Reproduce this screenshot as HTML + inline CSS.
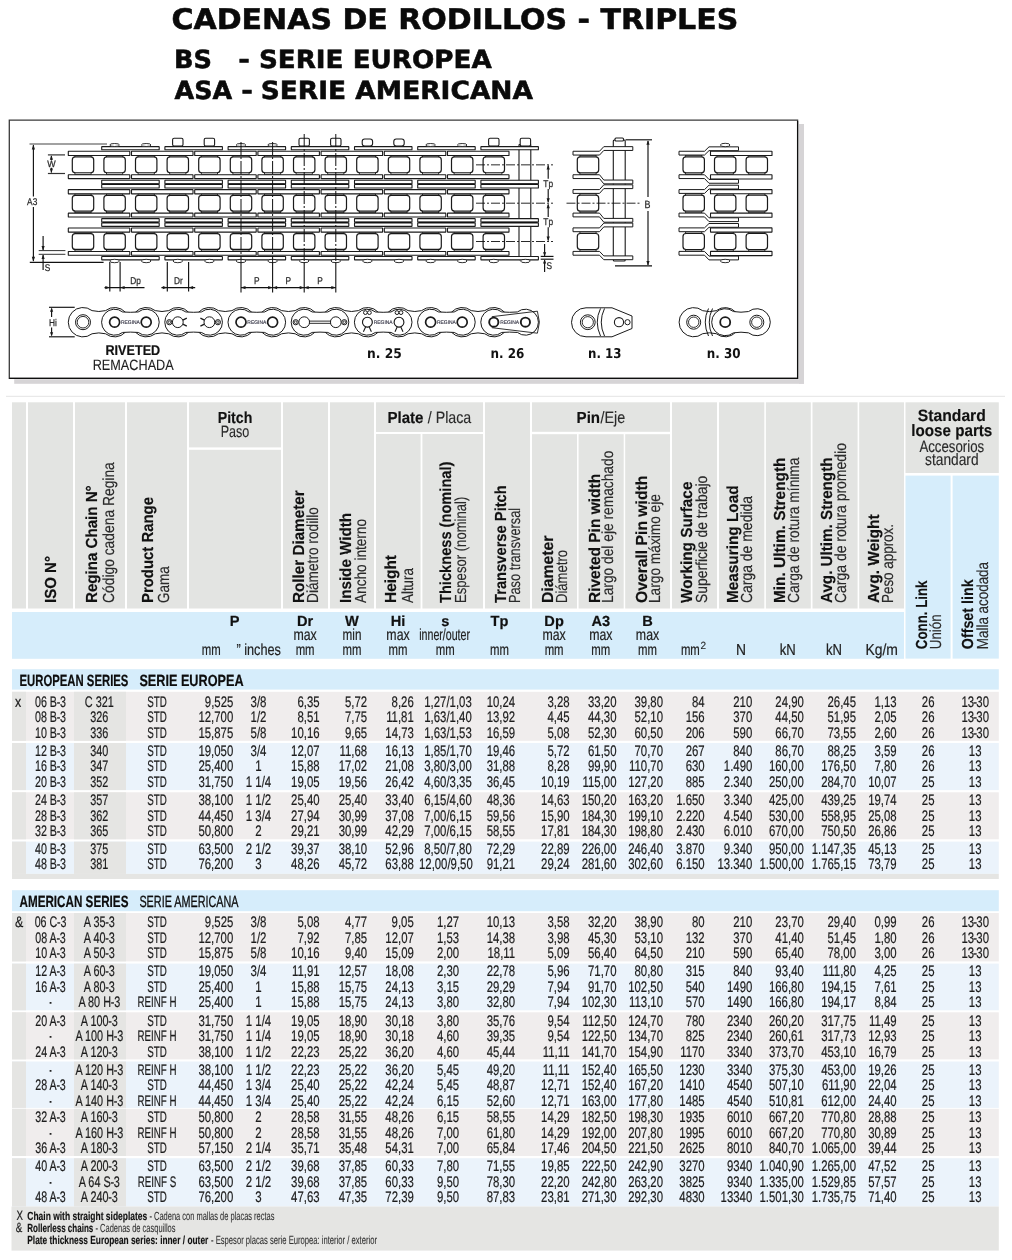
<!DOCTYPE html>
<html lang="es"><head><meta charset="utf-8"><title>Cadenas de rodillos - triples</title>
<style>
html,body{margin:0;padding:0;background:#fff;width:1012px;height:1260px;overflow:hidden}
svg{display:block}
text{white-space:pre;text-rendering:geometricPrecision}
</style></head><body>
<svg width="1012" height="1260" viewBox="0 0 1012 1260">
<text transform="translate(171.5 29.1) scale(1.0562 1)" font-family="'DejaVu Sans', Verdana, sans-serif" font-size="28.4" font-weight="bold" text-anchor="start" fill="#0a0a0a" stroke="#0a0a0a" stroke-width="0.55">CADENAS DE RODILLOS - TRIPLES</text>
<text transform="translate(174 67.7) scale(1.0253 1)" font-family="'DejaVu Sans', Verdana, sans-serif" font-size="25" font-weight="bold" text-anchor="start" fill="#0a0a0a" stroke="#0a0a0a" stroke-width="0.55">BS</text>
<text transform="translate(238.3 67.7) scale(1.1179 1)" font-family="'DejaVu Sans', Verdana, sans-serif" font-size="25" font-weight="bold" text-anchor="start" fill="#0a0a0a" stroke="#0a0a0a" stroke-width="0.55">-</text>
<text transform="translate(258.9 67.7) scale(1.0484 1)" font-family="'DejaVu Sans', Verdana, sans-serif" font-size="25" font-weight="bold" text-anchor="start" fill="#0a0a0a" stroke="#0a0a0a" stroke-width="0.55">SERIE EUROPEA</text>
<text transform="translate(174.6 98.5) scale(1.0158 1)" font-family="'DejaVu Sans', Verdana, sans-serif" font-size="25" font-weight="bold" text-anchor="start" fill="#0a0a0a" stroke="#0a0a0a" stroke-width="0.55">ASA</text>
<text transform="translate(241.3 98.5) scale(1.1179 1)" font-family="'DejaVu Sans', Verdana, sans-serif" font-size="25" font-weight="bold" text-anchor="start" fill="#0a0a0a" stroke="#0a0a0a" stroke-width="0.55">-</text>
<text transform="translate(260.7 98.5) scale(1.0585 1)" font-family="'DejaVu Sans', Verdana, sans-serif" font-size="25" font-weight="bold" text-anchor="start" fill="#0a0a0a" stroke="#0a0a0a" stroke-width="0.55">SERIE AMERICANA</text>
<rect x="799" y="124" width="5" height="259.8" fill="#d6d4d6"/>
<rect x="14.2" y="379.2" width="789.8" height="4.6" fill="#d6d4d6"/>
<path d="M9.3 378.3 V120.2 H797.6 V378.3 Z" fill="#fff" stroke="#3a3a3a" stroke-width="1.3"/>
<path d="M797.6 121 V378.3 H9.3" fill="none" stroke="#0e0e0e" stroke-width="1.2"/>
<rect x="74.9" y="155.35" width="16.2" height="19" rx="0" fill="#fff" stroke="#1a1a1a" stroke-width="0.9"/>
<rect x="72.3" y="156.95" width="21.4" height="15.8" rx="3" fill="#fff" stroke="#1a1a1a" stroke-width="1.2"/>
<rect x="106.5" y="155.35" width="16.2" height="19" rx="0" fill="#fff" stroke="#1a1a1a" stroke-width="0.9"/>
<rect x="103.9" y="156.95" width="21.4" height="15.8" rx="3" fill="#fff" stroke="#1a1a1a" stroke-width="1.2"/>
<rect x="138.1" y="155.35" width="16.2" height="19" rx="0" fill="#fff" stroke="#1a1a1a" stroke-width="0.9"/>
<rect x="135.5" y="156.95" width="21.4" height="15.8" rx="3" fill="#fff" stroke="#1a1a1a" stroke-width="1.2"/>
<rect x="169.7" y="155.35" width="16.2" height="19" rx="0" fill="#fff" stroke="#1a1a1a" stroke-width="0.9"/>
<rect x="167.1" y="156.95" width="21.4" height="15.8" rx="3" fill="#fff" stroke="#1a1a1a" stroke-width="1.2"/>
<rect x="201.3" y="155.35" width="16.2" height="19" rx="0" fill="#fff" stroke="#1a1a1a" stroke-width="0.9"/>
<rect x="198.7" y="156.95" width="21.4" height="15.8" rx="3" fill="#fff" stroke="#1a1a1a" stroke-width="1.2"/>
<rect x="232.9" y="155.35" width="16.2" height="19" rx="0" fill="#fff" stroke="#1a1a1a" stroke-width="0.9"/>
<rect x="230.3" y="156.95" width="21.4" height="15.8" rx="3" fill="#fff" stroke="#1a1a1a" stroke-width="1.2"/>
<rect x="264.5" y="155.35" width="16.2" height="19" rx="0" fill="#fff" stroke="#1a1a1a" stroke-width="0.9"/>
<rect x="261.9" y="156.95" width="21.4" height="15.8" rx="3" fill="#fff" stroke="#1a1a1a" stroke-width="1.2"/>
<rect x="296.1" y="155.35" width="16.2" height="19" rx="0" fill="#fff" stroke="#1a1a1a" stroke-width="0.9"/>
<rect x="293.5" y="156.95" width="21.4" height="15.8" rx="3" fill="#fff" stroke="#1a1a1a" stroke-width="1.2"/>
<rect x="327.7" y="155.35" width="16.2" height="19" rx="0" fill="#fff" stroke="#1a1a1a" stroke-width="0.9"/>
<rect x="325.1" y="156.95" width="21.4" height="15.8" rx="3" fill="#fff" stroke="#1a1a1a" stroke-width="1.2"/>
<rect x="359.3" y="155.35" width="16.2" height="19" rx="0" fill="#fff" stroke="#1a1a1a" stroke-width="0.9"/>
<rect x="356.7" y="156.95" width="21.4" height="15.8" rx="3" fill="#fff" stroke="#1a1a1a" stroke-width="1.2"/>
<rect x="390.9" y="155.35" width="16.2" height="19" rx="0" fill="#fff" stroke="#1a1a1a" stroke-width="0.9"/>
<rect x="388.3" y="156.95" width="21.4" height="15.8" rx="3" fill="#fff" stroke="#1a1a1a" stroke-width="1.2"/>
<rect x="422.5" y="155.35" width="16.2" height="19" rx="0" fill="#fff" stroke="#1a1a1a" stroke-width="0.9"/>
<rect x="419.9" y="156.95" width="21.4" height="15.8" rx="3" fill="#fff" stroke="#1a1a1a" stroke-width="1.2"/>
<rect x="454.1" y="155.35" width="16.2" height="19" rx="0" fill="#fff" stroke="#1a1a1a" stroke-width="0.9"/>
<rect x="451.5" y="156.95" width="21.4" height="15.8" rx="3" fill="#fff" stroke="#1a1a1a" stroke-width="1.2"/>
<rect x="485.7" y="155.35" width="16.2" height="19" rx="0" fill="#fff" stroke="#1a1a1a" stroke-width="0.9"/>
<rect x="483.1" y="156.95" width="21.4" height="15.8" rx="3" fill="#fff" stroke="#1a1a1a" stroke-width="1.2"/>
<rect x="68.3" y="151.3" width="61.5" height="4.2" rx="0.3" fill="#fff" stroke="#1a1a1a" stroke-width="1.1"/>
<rect x="68.3" y="174.8" width="61.5" height="3.8" rx="0.3" fill="#fff" stroke="#1a1a1a" stroke-width="1.1"/>
<rect x="131.5" y="151.3" width="61.5" height="4.2" rx="0.3" fill="#fff" stroke="#1a1a1a" stroke-width="1.1"/>
<rect x="131.5" y="174.8" width="61.5" height="3.8" rx="0.3" fill="#fff" stroke="#1a1a1a" stroke-width="1.1"/>
<rect x="194.7" y="151.3" width="61.5" height="4.2" rx="0.3" fill="#fff" stroke="#1a1a1a" stroke-width="1.1"/>
<rect x="194.7" y="174.8" width="61.5" height="3.8" rx="0.3" fill="#fff" stroke="#1a1a1a" stroke-width="1.1"/>
<rect x="257.9" y="151.3" width="61.5" height="4.2" rx="0.3" fill="#fff" stroke="#1a1a1a" stroke-width="1.1"/>
<rect x="257.9" y="174.8" width="61.5" height="3.8" rx="0.3" fill="#fff" stroke="#1a1a1a" stroke-width="1.1"/>
<rect x="321.1" y="151.3" width="61.5" height="4.2" rx="0.3" fill="#fff" stroke="#1a1a1a" stroke-width="1.1"/>
<rect x="321.1" y="174.8" width="61.5" height="3.8" rx="0.3" fill="#fff" stroke="#1a1a1a" stroke-width="1.1"/>
<rect x="384.3" y="151.3" width="61.5" height="4.2" rx="0.3" fill="#fff" stroke="#1a1a1a" stroke-width="1.1"/>
<rect x="384.3" y="174.8" width="61.5" height="3.8" rx="0.3" fill="#fff" stroke="#1a1a1a" stroke-width="1.1"/>
<rect x="447.5" y="151.3" width="61.5" height="4.2" rx="0.3" fill="#fff" stroke="#1a1a1a" stroke-width="1.1"/>
<rect x="447.5" y="174.8" width="61.5" height="3.8" rx="0.3" fill="#fff" stroke="#1a1a1a" stroke-width="1.1"/>
<rect x="74.9" y="193.7" width="16.2" height="19" rx="0" fill="#fff" stroke="#1a1a1a" stroke-width="0.9"/>
<rect x="72.3" y="195.3" width="21.4" height="15.8" rx="3" fill="#fff" stroke="#1a1a1a" stroke-width="1.2"/>
<rect x="106.5" y="193.7" width="16.2" height="19" rx="0" fill="#fff" stroke="#1a1a1a" stroke-width="0.9"/>
<rect x="103.9" y="195.3" width="21.4" height="15.8" rx="3" fill="#fff" stroke="#1a1a1a" stroke-width="1.2"/>
<rect x="138.1" y="193.7" width="16.2" height="19" rx="0" fill="#fff" stroke="#1a1a1a" stroke-width="0.9"/>
<rect x="135.5" y="195.3" width="21.4" height="15.8" rx="3" fill="#fff" stroke="#1a1a1a" stroke-width="1.2"/>
<rect x="169.7" y="193.7" width="16.2" height="19" rx="0" fill="#fff" stroke="#1a1a1a" stroke-width="0.9"/>
<rect x="167.1" y="195.3" width="21.4" height="15.8" rx="3" fill="#fff" stroke="#1a1a1a" stroke-width="1.2"/>
<rect x="201.3" y="193.7" width="16.2" height="19" rx="0" fill="#fff" stroke="#1a1a1a" stroke-width="0.9"/>
<rect x="198.7" y="195.3" width="21.4" height="15.8" rx="3" fill="#fff" stroke="#1a1a1a" stroke-width="1.2"/>
<rect x="232.9" y="193.7" width="16.2" height="19" rx="0" fill="#fff" stroke="#1a1a1a" stroke-width="0.9"/>
<rect x="230.3" y="195.3" width="21.4" height="15.8" rx="3" fill="#fff" stroke="#1a1a1a" stroke-width="1.2"/>
<rect x="264.5" y="193.7" width="16.2" height="19" rx="0" fill="#fff" stroke="#1a1a1a" stroke-width="0.9"/>
<rect x="261.9" y="195.3" width="21.4" height="15.8" rx="3" fill="#fff" stroke="#1a1a1a" stroke-width="1.2"/>
<rect x="296.1" y="193.7" width="16.2" height="19" rx="0" fill="#fff" stroke="#1a1a1a" stroke-width="0.9"/>
<rect x="293.5" y="195.3" width="21.4" height="15.8" rx="3" fill="#fff" stroke="#1a1a1a" stroke-width="1.2"/>
<rect x="327.7" y="193.7" width="16.2" height="19" rx="0" fill="#fff" stroke="#1a1a1a" stroke-width="0.9"/>
<rect x="325.1" y="195.3" width="21.4" height="15.8" rx="3" fill="#fff" stroke="#1a1a1a" stroke-width="1.2"/>
<rect x="359.3" y="193.7" width="16.2" height="19" rx="0" fill="#fff" stroke="#1a1a1a" stroke-width="0.9"/>
<rect x="356.7" y="195.3" width="21.4" height="15.8" rx="3" fill="#fff" stroke="#1a1a1a" stroke-width="1.2"/>
<rect x="390.9" y="193.7" width="16.2" height="19" rx="0" fill="#fff" stroke="#1a1a1a" stroke-width="0.9"/>
<rect x="388.3" y="195.3" width="21.4" height="15.8" rx="3" fill="#fff" stroke="#1a1a1a" stroke-width="1.2"/>
<rect x="422.5" y="193.7" width="16.2" height="19" rx="0" fill="#fff" stroke="#1a1a1a" stroke-width="0.9"/>
<rect x="419.9" y="195.3" width="21.4" height="15.8" rx="3" fill="#fff" stroke="#1a1a1a" stroke-width="1.2"/>
<rect x="454.1" y="193.7" width="16.2" height="19" rx="0" fill="#fff" stroke="#1a1a1a" stroke-width="0.9"/>
<rect x="451.5" y="195.3" width="21.4" height="15.8" rx="3" fill="#fff" stroke="#1a1a1a" stroke-width="1.2"/>
<rect x="485.7" y="193.7" width="16.2" height="19" rx="0" fill="#fff" stroke="#1a1a1a" stroke-width="0.9"/>
<rect x="483.1" y="195.3" width="21.4" height="15.8" rx="3" fill="#fff" stroke="#1a1a1a" stroke-width="1.2"/>
<rect x="68.3" y="189.65" width="61.5" height="4.2" rx="0.3" fill="#fff" stroke="#1a1a1a" stroke-width="1.1"/>
<rect x="68.3" y="213.15" width="61.5" height="3.8" rx="0.3" fill="#fff" stroke="#1a1a1a" stroke-width="1.1"/>
<rect x="131.5" y="189.65" width="61.5" height="4.2" rx="0.3" fill="#fff" stroke="#1a1a1a" stroke-width="1.1"/>
<rect x="131.5" y="213.15" width="61.5" height="3.8" rx="0.3" fill="#fff" stroke="#1a1a1a" stroke-width="1.1"/>
<rect x="194.7" y="189.65" width="61.5" height="4.2" rx="0.3" fill="#fff" stroke="#1a1a1a" stroke-width="1.1"/>
<rect x="194.7" y="213.15" width="61.5" height="3.8" rx="0.3" fill="#fff" stroke="#1a1a1a" stroke-width="1.1"/>
<rect x="257.9" y="189.65" width="61.5" height="4.2" rx="0.3" fill="#fff" stroke="#1a1a1a" stroke-width="1.1"/>
<rect x="257.9" y="213.15" width="61.5" height="3.8" rx="0.3" fill="#fff" stroke="#1a1a1a" stroke-width="1.1"/>
<rect x="321.1" y="189.65" width="61.5" height="4.2" rx="0.3" fill="#fff" stroke="#1a1a1a" stroke-width="1.1"/>
<rect x="321.1" y="213.15" width="61.5" height="3.8" rx="0.3" fill="#fff" stroke="#1a1a1a" stroke-width="1.1"/>
<rect x="384.3" y="189.65" width="61.5" height="4.2" rx="0.3" fill="#fff" stroke="#1a1a1a" stroke-width="1.1"/>
<rect x="384.3" y="213.15" width="61.5" height="3.8" rx="0.3" fill="#fff" stroke="#1a1a1a" stroke-width="1.1"/>
<rect x="447.5" y="189.65" width="61.5" height="4.2" rx="0.3" fill="#fff" stroke="#1a1a1a" stroke-width="1.1"/>
<rect x="447.5" y="213.15" width="61.5" height="3.8" rx="0.3" fill="#fff" stroke="#1a1a1a" stroke-width="1.1"/>
<rect x="74.9" y="232" width="16.2" height="19" rx="0" fill="#fff" stroke="#1a1a1a" stroke-width="0.9"/>
<rect x="72.3" y="233.6" width="21.4" height="15.8" rx="3" fill="#fff" stroke="#1a1a1a" stroke-width="1.2"/>
<rect x="106.5" y="232" width="16.2" height="19" rx="0" fill="#fff" stroke="#1a1a1a" stroke-width="0.9"/>
<rect x="103.9" y="233.6" width="21.4" height="15.8" rx="3" fill="#fff" stroke="#1a1a1a" stroke-width="1.2"/>
<rect x="138.1" y="232" width="16.2" height="19" rx="0" fill="#fff" stroke="#1a1a1a" stroke-width="0.9"/>
<rect x="135.5" y="233.6" width="21.4" height="15.8" rx="3" fill="#fff" stroke="#1a1a1a" stroke-width="1.2"/>
<rect x="169.7" y="232" width="16.2" height="19" rx="0" fill="#fff" stroke="#1a1a1a" stroke-width="0.9"/>
<rect x="167.1" y="233.6" width="21.4" height="15.8" rx="3" fill="#fff" stroke="#1a1a1a" stroke-width="1.2"/>
<rect x="201.3" y="232" width="16.2" height="19" rx="0" fill="#fff" stroke="#1a1a1a" stroke-width="0.9"/>
<rect x="198.7" y="233.6" width="21.4" height="15.8" rx="3" fill="#fff" stroke="#1a1a1a" stroke-width="1.2"/>
<rect x="232.9" y="232" width="16.2" height="19" rx="0" fill="#fff" stroke="#1a1a1a" stroke-width="0.9"/>
<rect x="230.3" y="233.6" width="21.4" height="15.8" rx="3" fill="#fff" stroke="#1a1a1a" stroke-width="1.2"/>
<rect x="264.5" y="232" width="16.2" height="19" rx="0" fill="#fff" stroke="#1a1a1a" stroke-width="0.9"/>
<rect x="261.9" y="233.6" width="21.4" height="15.8" rx="3" fill="#fff" stroke="#1a1a1a" stroke-width="1.2"/>
<rect x="296.1" y="232" width="16.2" height="19" rx="0" fill="#fff" stroke="#1a1a1a" stroke-width="0.9"/>
<rect x="293.5" y="233.6" width="21.4" height="15.8" rx="3" fill="#fff" stroke="#1a1a1a" stroke-width="1.2"/>
<rect x="327.7" y="232" width="16.2" height="19" rx="0" fill="#fff" stroke="#1a1a1a" stroke-width="0.9"/>
<rect x="325.1" y="233.6" width="21.4" height="15.8" rx="3" fill="#fff" stroke="#1a1a1a" stroke-width="1.2"/>
<rect x="359.3" y="232" width="16.2" height="19" rx="0" fill="#fff" stroke="#1a1a1a" stroke-width="0.9"/>
<rect x="356.7" y="233.6" width="21.4" height="15.8" rx="3" fill="#fff" stroke="#1a1a1a" stroke-width="1.2"/>
<rect x="390.9" y="232" width="16.2" height="19" rx="0" fill="#fff" stroke="#1a1a1a" stroke-width="0.9"/>
<rect x="388.3" y="233.6" width="21.4" height="15.8" rx="3" fill="#fff" stroke="#1a1a1a" stroke-width="1.2"/>
<rect x="422.5" y="232" width="16.2" height="19" rx="0" fill="#fff" stroke="#1a1a1a" stroke-width="0.9"/>
<rect x="419.9" y="233.6" width="21.4" height="15.8" rx="3" fill="#fff" stroke="#1a1a1a" stroke-width="1.2"/>
<rect x="454.1" y="232" width="16.2" height="19" rx="0" fill="#fff" stroke="#1a1a1a" stroke-width="0.9"/>
<rect x="451.5" y="233.6" width="21.4" height="15.8" rx="3" fill="#fff" stroke="#1a1a1a" stroke-width="1.2"/>
<rect x="485.7" y="232" width="16.2" height="19" rx="0" fill="#fff" stroke="#1a1a1a" stroke-width="0.9"/>
<rect x="483.1" y="233.6" width="21.4" height="15.8" rx="3" fill="#fff" stroke="#1a1a1a" stroke-width="1.2"/>
<rect x="68.3" y="227.95" width="61.5" height="4.2" rx="0.3" fill="#fff" stroke="#1a1a1a" stroke-width="1.1"/>
<rect x="68.3" y="251.45" width="61.5" height="3.8" rx="0.3" fill="#fff" stroke="#1a1a1a" stroke-width="1.1"/>
<rect x="131.5" y="227.95" width="61.5" height="4.2" rx="0.3" fill="#fff" stroke="#1a1a1a" stroke-width="1.1"/>
<rect x="131.5" y="251.45" width="61.5" height="3.8" rx="0.3" fill="#fff" stroke="#1a1a1a" stroke-width="1.1"/>
<rect x="194.7" y="227.95" width="61.5" height="4.2" rx="0.3" fill="#fff" stroke="#1a1a1a" stroke-width="1.1"/>
<rect x="194.7" y="251.45" width="61.5" height="3.8" rx="0.3" fill="#fff" stroke="#1a1a1a" stroke-width="1.1"/>
<rect x="257.9" y="227.95" width="61.5" height="4.2" rx="0.3" fill="#fff" stroke="#1a1a1a" stroke-width="1.1"/>
<rect x="257.9" y="251.45" width="61.5" height="3.8" rx="0.3" fill="#fff" stroke="#1a1a1a" stroke-width="1.1"/>
<rect x="321.1" y="227.95" width="61.5" height="4.2" rx="0.3" fill="#fff" stroke="#1a1a1a" stroke-width="1.1"/>
<rect x="321.1" y="251.45" width="61.5" height="3.8" rx="0.3" fill="#fff" stroke="#1a1a1a" stroke-width="1.1"/>
<rect x="384.3" y="227.95" width="61.5" height="4.2" rx="0.3" fill="#fff" stroke="#1a1a1a" stroke-width="1.1"/>
<rect x="384.3" y="251.45" width="61.5" height="3.8" rx="0.3" fill="#fff" stroke="#1a1a1a" stroke-width="1.1"/>
<rect x="447.5" y="227.95" width="61.5" height="4.2" rx="0.3" fill="#fff" stroke="#1a1a1a" stroke-width="1.1"/>
<rect x="447.5" y="251.45" width="61.5" height="3.8" rx="0.3" fill="#fff" stroke="#1a1a1a" stroke-width="1.1"/>
<rect x="519" y="144.6" width="11.8" height="115" rx="0.5" fill="#fff" stroke="#1a1a1a" stroke-width="1.1"/>
<rect x="101.7" y="146.6" width="57.5" height="3.2" rx="0.3" fill="#fff" stroke="#1a1a1a" stroke-width="1.1"/>
<rect x="101.7" y="180.32" width="57.5" height="3.4" rx="0.3" fill="#fff" stroke="#1a1a1a" stroke-width="1.1"/>
<rect x="101.7" y="184.52" width="57.5" height="3.5" rx="0.3" fill="#fff" stroke="#1a1a1a" stroke-width="1.1"/>
<line x1="102.7" y1="184.12" x2="158.2" y2="184.12" stroke="#111" stroke-width="1.2"/>
<rect x="101.7" y="218.65" width="57.5" height="3.4" rx="0.3" fill="#fff" stroke="#1a1a1a" stroke-width="1.1"/>
<rect x="101.7" y="222.85" width="57.5" height="3.5" rx="0.3" fill="#fff" stroke="#1a1a1a" stroke-width="1.1"/>
<line x1="102.7" y1="222.45" x2="158.2" y2="222.45" stroke="#111" stroke-width="1.2"/>
<rect x="101.7" y="256.5" width="57.5" height="3.4" rx="0.3" fill="#fff" stroke="#1a1a1a" stroke-width="1.1"/>
<rect x="164.9" y="146.6" width="57.5" height="3.2" rx="0.3" fill="#fff" stroke="#1a1a1a" stroke-width="1.1"/>
<rect x="164.9" y="180.32" width="57.5" height="3.4" rx="0.3" fill="#fff" stroke="#1a1a1a" stroke-width="1.1"/>
<rect x="164.9" y="184.52" width="57.5" height="3.5" rx="0.3" fill="#fff" stroke="#1a1a1a" stroke-width="1.1"/>
<line x1="165.9" y1="184.12" x2="221.4" y2="184.12" stroke="#111" stroke-width="1.2"/>
<rect x="164.9" y="218.65" width="57.5" height="3.4" rx="0.3" fill="#fff" stroke="#1a1a1a" stroke-width="1.1"/>
<rect x="164.9" y="222.85" width="57.5" height="3.5" rx="0.3" fill="#fff" stroke="#1a1a1a" stroke-width="1.1"/>
<line x1="165.9" y1="222.45" x2="221.4" y2="222.45" stroke="#111" stroke-width="1.2"/>
<rect x="164.9" y="256.5" width="57.5" height="3.4" rx="0.3" fill="#fff" stroke="#1a1a1a" stroke-width="1.1"/>
<rect x="228.1" y="146.6" width="57.5" height="3.2" rx="0.3" fill="#fff" stroke="#1a1a1a" stroke-width="1.1"/>
<rect x="228.1" y="180.32" width="57.5" height="3.4" rx="0.3" fill="#fff" stroke="#1a1a1a" stroke-width="1.1"/>
<rect x="228.1" y="184.52" width="57.5" height="3.5" rx="0.3" fill="#fff" stroke="#1a1a1a" stroke-width="1.1"/>
<line x1="229.1" y1="184.12" x2="284.6" y2="184.12" stroke="#111" stroke-width="1.2"/>
<rect x="228.1" y="218.65" width="57.5" height="3.4" rx="0.3" fill="#fff" stroke="#1a1a1a" stroke-width="1.1"/>
<rect x="228.1" y="222.85" width="57.5" height="3.5" rx="0.3" fill="#fff" stroke="#1a1a1a" stroke-width="1.1"/>
<line x1="229.1" y1="222.45" x2="284.6" y2="222.45" stroke="#111" stroke-width="1.2"/>
<rect x="228.1" y="256.5" width="57.5" height="3.4" rx="0.3" fill="#fff" stroke="#1a1a1a" stroke-width="1.1"/>
<rect x="291.3" y="146.6" width="57.5" height="3.2" rx="0.3" fill="#fff" stroke="#1a1a1a" stroke-width="1.1"/>
<rect x="291.3" y="180.32" width="57.5" height="3.4" rx="0.3" fill="#fff" stroke="#1a1a1a" stroke-width="1.1"/>
<rect x="291.3" y="184.52" width="57.5" height="3.5" rx="0.3" fill="#fff" stroke="#1a1a1a" stroke-width="1.1"/>
<line x1="292.3" y1="184.12" x2="347.8" y2="184.12" stroke="#111" stroke-width="1.2"/>
<rect x="291.3" y="218.65" width="57.5" height="3.4" rx="0.3" fill="#fff" stroke="#1a1a1a" stroke-width="1.1"/>
<rect x="291.3" y="222.85" width="57.5" height="3.5" rx="0.3" fill="#fff" stroke="#1a1a1a" stroke-width="1.1"/>
<line x1="292.3" y1="222.45" x2="347.8" y2="222.45" stroke="#111" stroke-width="1.2"/>
<rect x="291.3" y="256.5" width="57.5" height="3.4" rx="0.3" fill="#fff" stroke="#1a1a1a" stroke-width="1.1"/>
<rect x="354.5" y="146.6" width="57.5" height="3.2" rx="0.3" fill="#fff" stroke="#1a1a1a" stroke-width="1.1"/>
<rect x="354.5" y="180.32" width="57.5" height="3.4" rx="0.3" fill="#fff" stroke="#1a1a1a" stroke-width="1.1"/>
<rect x="354.5" y="184.52" width="57.5" height="3.5" rx="0.3" fill="#fff" stroke="#1a1a1a" stroke-width="1.1"/>
<line x1="355.5" y1="184.12" x2="411" y2="184.12" stroke="#111" stroke-width="1.2"/>
<rect x="354.5" y="218.65" width="57.5" height="3.4" rx="0.3" fill="#fff" stroke="#1a1a1a" stroke-width="1.1"/>
<rect x="354.5" y="222.85" width="57.5" height="3.5" rx="0.3" fill="#fff" stroke="#1a1a1a" stroke-width="1.1"/>
<line x1="355.5" y1="222.45" x2="411" y2="222.45" stroke="#111" stroke-width="1.2"/>
<rect x="354.5" y="256.5" width="57.5" height="3.4" rx="0.3" fill="#fff" stroke="#1a1a1a" stroke-width="1.1"/>
<rect x="417.7" y="146.6" width="57.5" height="3.2" rx="0.3" fill="#fff" stroke="#1a1a1a" stroke-width="1.1"/>
<rect x="417.7" y="180.32" width="57.5" height="3.4" rx="0.3" fill="#fff" stroke="#1a1a1a" stroke-width="1.1"/>
<rect x="417.7" y="184.52" width="57.5" height="3.5" rx="0.3" fill="#fff" stroke="#1a1a1a" stroke-width="1.1"/>
<line x1="418.7" y1="184.12" x2="474.2" y2="184.12" stroke="#111" stroke-width="1.2"/>
<rect x="417.7" y="218.65" width="57.5" height="3.4" rx="0.3" fill="#fff" stroke="#1a1a1a" stroke-width="1.1"/>
<rect x="417.7" y="222.85" width="57.5" height="3.5" rx="0.3" fill="#fff" stroke="#1a1a1a" stroke-width="1.1"/>
<line x1="418.7" y1="222.45" x2="474.2" y2="222.45" stroke="#111" stroke-width="1.2"/>
<rect x="417.7" y="256.5" width="57.5" height="3.4" rx="0.3" fill="#fff" stroke="#1a1a1a" stroke-width="1.1"/>
<rect x="480.9" y="146.6" width="57.5" height="3.2" rx="0.3" fill="#fff" stroke="#1a1a1a" stroke-width="1.1"/>
<rect x="480.9" y="180.32" width="57.5" height="3.4" rx="0.3" fill="#fff" stroke="#1a1a1a" stroke-width="1.1"/>
<rect x="480.9" y="184.52" width="57.5" height="3.5" rx="0.3" fill="#fff" stroke="#1a1a1a" stroke-width="1.1"/>
<line x1="481.9" y1="184.12" x2="537.4" y2="184.12" stroke="#111" stroke-width="1.2"/>
<rect x="480.9" y="218.65" width="57.5" height="3.4" rx="0.3" fill="#fff" stroke="#1a1a1a" stroke-width="1.1"/>
<rect x="480.9" y="222.85" width="57.5" height="3.5" rx="0.3" fill="#fff" stroke="#1a1a1a" stroke-width="1.1"/>
<line x1="481.9" y1="222.45" x2="537.4" y2="222.45" stroke="#111" stroke-width="1.2"/>
<rect x="480.9" y="256.5" width="57.5" height="3.4" rx="0.3" fill="#fff" stroke="#1a1a1a" stroke-width="1.1"/>
<ellipse cx="114.6" cy="145.0" rx="4.8" ry="1.5" fill="#fff" stroke="#1a1a1a" stroke-width="0.9"/>
<ellipse cx="114.6" cy="261.0" rx="4.8" ry="1.7" fill="#fff" stroke="#1a1a1a" stroke-width="0.9"/>
<ellipse cx="146.2" cy="145.0" rx="4.8" ry="1.5" fill="#fff" stroke="#1a1a1a" stroke-width="0.9"/>
<ellipse cx="146.2" cy="261.0" rx="4.8" ry="1.7" fill="#fff" stroke="#1a1a1a" stroke-width="0.9"/>
<rect x="172.6" y="138.2" width="10.4" height="7.8" rx="1.5" fill="#fff" stroke="#1a1a1a" stroke-width="1.1"/>
<ellipse cx="177.8" cy="261.0" rx="4.8" ry="1.7" fill="#fff" stroke="#1a1a1a" stroke-width="0.9"/>
<rect x="204.2" y="138.2" width="10.4" height="7.8" rx="1.5" fill="#fff" stroke="#1a1a1a" stroke-width="1.1"/>
<ellipse cx="209.4" cy="261.0" rx="4.8" ry="1.7" fill="#fff" stroke="#1a1a1a" stroke-width="0.9"/>
<ellipse cx="241" cy="145.0" rx="4.8" ry="1.5" fill="#fff" stroke="#1a1a1a" stroke-width="0.9"/>
<ellipse cx="241" cy="261.0" rx="4.8" ry="1.7" fill="#fff" stroke="#1a1a1a" stroke-width="0.9"/>
<ellipse cx="272.6" cy="145.0" rx="4.8" ry="1.5" fill="#fff" stroke="#1a1a1a" stroke-width="0.9"/>
<ellipse cx="272.6" cy="261.0" rx="4.8" ry="1.7" fill="#fff" stroke="#1a1a1a" stroke-width="0.9"/>
<rect x="299" y="138.2" width="10.4" height="7.8" rx="1.5" fill="#fff" stroke="#1a1a1a" stroke-width="1.1"/>
<ellipse cx="304.2" cy="261.0" rx="4.8" ry="1.7" fill="#fff" stroke="#1a1a1a" stroke-width="0.9"/>
<rect x="330.6" y="138.2" width="10.4" height="7.8" rx="1.5" fill="#fff" stroke="#1a1a1a" stroke-width="1.1"/>
<ellipse cx="335.8" cy="261.0" rx="4.8" ry="1.7" fill="#fff" stroke="#1a1a1a" stroke-width="0.9"/>
<rect x="362.2" y="139" width="10.4" height="7" rx="2.5" fill="#fff" stroke="#1a1a1a" stroke-width="1.1"/>
<ellipse cx="367.4" cy="261.0" rx="4.8" ry="1.7" fill="#fff" stroke="#1a1a1a" stroke-width="0.9"/>
<rect x="393.8" y="139" width="10.4" height="7" rx="2.5" fill="#fff" stroke="#1a1a1a" stroke-width="1.1"/>
<ellipse cx="399" cy="261.0" rx="4.8" ry="1.7" fill="#fff" stroke="#1a1a1a" stroke-width="0.9"/>
<ellipse cx="430.6" cy="145.0" rx="4.8" ry="1.5" fill="#fff" stroke="#1a1a1a" stroke-width="0.9"/>
<ellipse cx="430.6" cy="261.0" rx="4.8" ry="1.7" fill="#fff" stroke="#1a1a1a" stroke-width="0.9"/>
<ellipse cx="462.2" cy="145.0" rx="4.8" ry="1.5" fill="#fff" stroke="#1a1a1a" stroke-width="0.9"/>
<ellipse cx="462.2" cy="261.0" rx="4.8" ry="1.7" fill="#fff" stroke="#1a1a1a" stroke-width="0.9"/>
<rect x="488.6" y="138.2" width="10.4" height="7.8" rx="1.5" fill="#fff" stroke="#1a1a1a" stroke-width="1.1"/>
<ellipse cx="493.8" cy="261.0" rx="4.8" ry="1.7" fill="#fff" stroke="#1a1a1a" stroke-width="0.9"/>
<rect x="520.2" y="138.2" width="10.4" height="7.8" rx="1.5" fill="#fff" stroke="#1a1a1a" stroke-width="1.1"/>
<ellipse cx="525.4" cy="261.0" rx="4.8" ry="1.7" fill="#fff" stroke="#1a1a1a" stroke-width="0.9"/>
<line x1="241" y1="142" x2="241" y2="262" stroke="#111" stroke-width="1" stroke-dasharray="13,2,2,2"/>
<line x1="241" y1="262" x2="241" y2="292.5" stroke="#111" stroke-width="1.1"/>
<line x1="272.6" y1="142" x2="272.6" y2="262" stroke="#111" stroke-width="1" stroke-dasharray="13,2,2,2"/>
<line x1="272.6" y1="262" x2="272.6" y2="292.5" stroke="#111" stroke-width="1.1"/>
<line x1="304.2" y1="134" x2="304.2" y2="262" stroke="#111" stroke-width="1" stroke-dasharray="13,2,2,2"/>
<line x1="304.2" y1="262" x2="304.2" y2="292.5" stroke="#111" stroke-width="1.1"/>
<line x1="335.8" y1="134" x2="335.8" y2="262" stroke="#111" stroke-width="1" stroke-dasharray="13,2,2,2"/>
<line x1="335.8" y1="262" x2="335.8" y2="292.5" stroke="#111" stroke-width="1.1"/>
<line x1="29.5" y1="144" x2="107" y2="144" stroke="#444" stroke-width="1.2"/>
<line x1="29.8" y1="262.3" x2="103.6" y2="262.3" stroke="#111" stroke-width="1.15"/>
<line x1="33.4" y1="145" x2="33.4" y2="196.5" stroke="#111" stroke-width="1.15"/>
<line x1="33.4" y1="207" x2="33.4" y2="261" stroke="#111" stroke-width="1.15"/>
<polygon points="33.4,144.6 31.8,149.6 35,149.6" fill="#1a1a1a"/>
<polygon points="33.4,261.8 31.8,256.8 35,256.8" fill="#1a1a1a"/>
<line x1="47.9" y1="154.9" x2="65" y2="154.9" stroke="#333" stroke-width="1.2"/>
<line x1="47.9" y1="173.5" x2="65" y2="173.5" stroke="#333" stroke-width="1.2"/>
<line x1="51.4" y1="156" x2="51.4" y2="160" stroke="#111" stroke-width="1.15"/>
<line x1="51.4" y1="167.8" x2="51.4" y2="172.4" stroke="#111" stroke-width="1.15"/>
<polygon points="51.4,155.3 49.8,159.8 53,159.8" fill="#1a1a1a"/>
<polygon points="51.4,173.1 49.8,168.6 53,168.6" fill="#1a1a1a"/>
<line x1="38.7" y1="250.6" x2="65.4" y2="250.6" stroke="#333" stroke-width="1"/>
<line x1="38.7" y1="254.3" x2="65.4" y2="254.3" stroke="#333" stroke-width="1"/>
<line x1="43.1" y1="236" x2="43.1" y2="250" stroke="#111" stroke-width="1.15"/>
<polygon points="43.1,250.4 41.5,245.9 44.7,245.9" fill="#1a1a1a"/>
<line x1="43.1" y1="255" x2="43.1" y2="270" stroke="#111" stroke-width="1.15"/>
<polygon points="43.1,254.5 41.5,259 44.7,259" fill="#1a1a1a"/>
<line x1="109.8" y1="262" x2="109.8" y2="291.5" stroke="#111" stroke-width="1.15"/>
<line x1="120.1" y1="262" x2="120.1" y2="291.5" stroke="#111" stroke-width="1.15"/>
<line x1="167.3" y1="262" x2="167.3" y2="291.5" stroke="#111" stroke-width="1.15"/>
<line x1="188.6" y1="262" x2="188.6" y2="291.5" stroke="#111" stroke-width="1.15"/>
<line x1="104.5" y1="287.6" x2="144.5" y2="287.6" stroke="#111" stroke-width="1.15"/>
<polygon points="109.8,287.6 105.3,286 105.3,289.2" fill="#1a1a1a"/>
<polygon points="120.1,287.6 124.6,286 124.6,289.2" fill="#1a1a1a"/>
<line x1="161.4" y1="287.6" x2="195.2" y2="287.6" stroke="#111" stroke-width="1.15"/>
<polygon points="167.3,287.6 162.8,286 162.8,289.2" fill="#1a1a1a"/>
<polygon points="188.6,287.6 193.1,286 193.1,289.2" fill="#1a1a1a"/>
<line x1="241" y1="287.6" x2="335.8" y2="287.6" stroke="#111" stroke-width="1.15"/>
<polygon points="241,287.6 245.5,286 245.5,289.2" fill="#1a1a1a"/>
<polygon points="272.6,287.6 268.1,286 268.1,289.2" fill="#1a1a1a"/>
<polygon points="272.6,287.6 277.1,286 277.1,289.2" fill="#1a1a1a"/>
<polygon points="304.2,287.6 299.7,286 299.7,289.2" fill="#1a1a1a"/>
<polygon points="304.2,287.6 308.7,286 308.7,289.2" fill="#1a1a1a"/>
<polygon points="335.8,287.6 331.3,286 331.3,289.2" fill="#1a1a1a"/>
<line x1="476" y1="164.85" x2="553" y2="164.85" stroke="#111" stroke-width="0.9" stroke-dasharray="9,2,2,2"/>
<line x1="476" y1="203.2" x2="553" y2="203.2" stroke="#111" stroke-width="0.9" stroke-dasharray="9,2,2,2"/>
<line x1="476" y1="241.5" x2="553" y2="241.5" stroke="#111" stroke-width="0.9" stroke-dasharray="9,2,2,2"/>
<line x1="548.2" y1="165.5" x2="548.2" y2="178.7" stroke="#111" stroke-width="1.15"/>
<line x1="548.2" y1="189" x2="548.2" y2="202" stroke="#111" stroke-width="1.15"/>
<line x1="548.2" y1="204.5" x2="548.2" y2="217" stroke="#111" stroke-width="1.15"/>
<line x1="548.2" y1="227.2" x2="548.2" y2="240.5" stroke="#111" stroke-width="1.15"/>
<polygon points="548.2,165 546.6,169.5 549.8,169.5" fill="#1a1a1a"/>
<polygon points="548.2,202.7 546.6,198.2 549.8,198.2" fill="#1a1a1a"/>
<polygon points="548.2,203.7 546.6,208.2 549.8,208.2" fill="#1a1a1a"/>
<polygon points="548.2,241 546.6,236.5 549.8,236.5" fill="#1a1a1a"/>
<line x1="540.7" y1="256.4" x2="553.5" y2="256.4" stroke="#111" stroke-width="1.15"/>
<line x1="540.7" y1="259.2" x2="553.5" y2="259.2" stroke="#111" stroke-width="1.15"/>
<line x1="544.6" y1="244" x2="544.6" y2="256" stroke="#111" stroke-width="1.15"/>
<polygon points="544.6,256.2 543,252.2 546.2,252.2" fill="#1a1a1a"/>
<line x1="544.6" y1="260" x2="544.6" y2="272" stroke="#111" stroke-width="1.15"/>
<polygon points="544.6,259.5 543,263.5 546.2,263.5" fill="#1a1a1a"/>
<rect x="613.3" y="140" width="11.9" height="121" rx="1" fill="#fff" stroke="#1a1a1a" stroke-width="1.1"/>
<rect x="615" y="138" width="8.5" height="3" rx="1" fill="#fff" stroke="#1a1a1a" stroke-width="1.1"/>
<rect x="579.9" y="155.25" width="16.2" height="19.2" rx="0" fill="#fff" stroke="#1a1a1a" stroke-width="0.9"/>
<rect x="577.3" y="156.85" width="21.4" height="16" rx="3" fill="#fff" stroke="#1a1a1a" stroke-width="1.2"/>
<path d="M573 151.25 H599.5 L603.8 146.65 H632.8 V150.45 H603.8 L599.5 155.05 H573 Z" fill="#fff" stroke="#1a1a1a" stroke-width="1"/>
<path d="M573 174.75 H599.5 L603.8 180.05 H632.8 V183.85 H603.8 L599.5 178.55 H573 Z" fill="#fff" stroke="#1a1a1a" stroke-width="1"/>
<rect x="579.9" y="193.6" width="16.2" height="19.2" rx="0" fill="#fff" stroke="#1a1a1a" stroke-width="0.9"/>
<rect x="577.3" y="195.2" width="21.4" height="16" rx="3" fill="#fff" stroke="#1a1a1a" stroke-width="1.2"/>
<path d="M573 189.6 H599.5 L603.8 184.8 H632.8 V188.6 H603.8 L599.5 193.4 H573 Z" fill="#fff" stroke="#1a1a1a" stroke-width="1"/>
<path d="M573 213.1 H599.5 L603.8 218.4 H632.8 V222.2 H603.8 L599.5 216.9 H573 Z" fill="#fff" stroke="#1a1a1a" stroke-width="1"/>
<rect x="579.9" y="231.9" width="16.2" height="19.2" rx="0" fill="#fff" stroke="#1a1a1a" stroke-width="0.9"/>
<rect x="577.3" y="233.5" width="21.4" height="16" rx="3" fill="#fff" stroke="#1a1a1a" stroke-width="1.2"/>
<path d="M573 227.9 H599.5 L603.8 223.1 H632.8 V226.9 H603.8 L599.5 231.7 H573 Z" fill="#fff" stroke="#1a1a1a" stroke-width="1"/>
<path d="M573 251.4 H599.5 L603.8 255.9 H632.8 V259.7 H603.8 L599.5 255.2 H573 Z" fill="#fff" stroke="#1a1a1a" stroke-width="1"/>
<line x1="625.5" y1="139.8" x2="652" y2="139.8" stroke="#111" stroke-width="1.15"/>
<line x1="615" y1="265.9" x2="652" y2="265.9" stroke="#111" stroke-width="1.15"/>
<line x1="648" y1="141" x2="648" y2="197" stroke="#111" stroke-width="1.15"/>
<line x1="648" y1="211" x2="648" y2="265" stroke="#111" stroke-width="1.15"/>
<polygon points="648,140.3 646.4,144.8 649.6,144.8" fill="#1a1a1a"/>
<polygon points="648,265.4 646.4,260.9 649.6,260.9" fill="#1a1a1a"/>
<line x1="566.5" y1="203.2" x2="641" y2="203.2" stroke="#111" stroke-width="0.9" stroke-dasharray="9,2,2,2"/>
<rect x="685.6" y="155.25" width="16.2" height="19.2" rx="0" fill="#fff" stroke="#1a1a1a" stroke-width="0.9"/>
<rect x="683" y="156.85" width="21.4" height="16" rx="3" fill="#fff" stroke="#1a1a1a" stroke-width="1.2"/>
<rect x="717.1" y="155.25" width="16.2" height="19.2" rx="0" fill="#fff" stroke="#1a1a1a" stroke-width="0.9"/>
<rect x="714.5" y="156.85" width="21.4" height="16" rx="3" fill="#fff" stroke="#1a1a1a" stroke-width="1.2"/>
<rect x="748.7" y="155.25" width="16.2" height="19.2" rx="0" fill="#fff" stroke="#1a1a1a" stroke-width="0.9"/>
<rect x="746.1" y="156.85" width="21.4" height="16" rx="3" fill="#fff" stroke="#1a1a1a" stroke-width="1.2"/>
<rect x="710.5" y="151.25" width="61.5" height="4.2" rx="0.3" fill="#fff" stroke="#1a1a1a" stroke-width="1.1"/>
<rect x="710.5" y="174.75" width="61.5" height="4.2" rx="0.3" fill="#fff" stroke="#1a1a1a" stroke-width="1.1"/>
<path d="M679 151.25 H704.5 L709 146.85 H738.5 V150.65 H709 L704.5 155.05 H679 Z" fill="#fff" stroke="#1a1a1a" stroke-width="1"/>
<path d="M679 174.75 H704.5 L709 179.45 H738.5 V183.25 H709 L704.5 178.55 H679 Z" fill="#fff" stroke="#1a1a1a" stroke-width="1"/>
<rect x="685.6" y="193.6" width="16.2" height="19.2" rx="0" fill="#fff" stroke="#1a1a1a" stroke-width="0.9"/>
<rect x="683" y="195.2" width="21.4" height="16" rx="3" fill="#fff" stroke="#1a1a1a" stroke-width="1.2"/>
<rect x="717.1" y="193.6" width="16.2" height="19.2" rx="0" fill="#fff" stroke="#1a1a1a" stroke-width="0.9"/>
<rect x="714.5" y="195.2" width="21.4" height="16" rx="3" fill="#fff" stroke="#1a1a1a" stroke-width="1.2"/>
<rect x="748.7" y="193.6" width="16.2" height="19.2" rx="0" fill="#fff" stroke="#1a1a1a" stroke-width="0.9"/>
<rect x="746.1" y="195.2" width="21.4" height="16" rx="3" fill="#fff" stroke="#1a1a1a" stroke-width="1.2"/>
<rect x="710.5" y="189.6" width="61.5" height="4.2" rx="0.3" fill="#fff" stroke="#1a1a1a" stroke-width="1.1"/>
<rect x="710.5" y="213.1" width="61.5" height="4.2" rx="0.3" fill="#fff" stroke="#1a1a1a" stroke-width="1.1"/>
<path d="M679 189.6 H704.5 L709 185.2 H738.5 V189 H709 L704.5 193.4 H679 Z" fill="#fff" stroke="#1a1a1a" stroke-width="1"/>
<path d="M679 213.1 H704.5 L709 217.8 H738.5 V221.6 H709 L704.5 216.9 H679 Z" fill="#fff" stroke="#1a1a1a" stroke-width="1"/>
<rect x="685.6" y="231.9" width="16.2" height="19.2" rx="0" fill="#fff" stroke="#1a1a1a" stroke-width="0.9"/>
<rect x="683" y="233.5" width="21.4" height="16" rx="3" fill="#fff" stroke="#1a1a1a" stroke-width="1.2"/>
<rect x="717.1" y="231.9" width="16.2" height="19.2" rx="0" fill="#fff" stroke="#1a1a1a" stroke-width="0.9"/>
<rect x="714.5" y="233.5" width="21.4" height="16" rx="3" fill="#fff" stroke="#1a1a1a" stroke-width="1.2"/>
<rect x="748.7" y="231.9" width="16.2" height="19.2" rx="0" fill="#fff" stroke="#1a1a1a" stroke-width="0.9"/>
<rect x="746.1" y="233.5" width="21.4" height="16" rx="3" fill="#fff" stroke="#1a1a1a" stroke-width="1.2"/>
<rect x="710.5" y="227.9" width="61.5" height="4.2" rx="0.3" fill="#fff" stroke="#1a1a1a" stroke-width="1.1"/>
<rect x="710.5" y="251.4" width="61.5" height="4.2" rx="0.3" fill="#fff" stroke="#1a1a1a" stroke-width="1.1"/>
<path d="M679 227.9 H704.5 L709 223.5 H738.5 V227.3 H709 L704.5 231.7 H679 Z" fill="#fff" stroke="#1a1a1a" stroke-width="1"/>
<path d="M679 251.4 H704.5 L709 256.1 H738.5 V259.9 H709 L704.5 255.2 H679 Z" fill="#fff" stroke="#1a1a1a" stroke-width="1"/>
<ellipse cx="725.2" cy="145.0" rx="4.8" ry="1.7" fill="#fff" stroke="#1a1a1a" stroke-width="0.9"/>
<ellipse cx="725.2" cy="261.0" rx="4.8" ry="1.7" fill="#fff" stroke="#1a1a1a" stroke-width="0.9"/>
<path d="M92.05 310.62 A14.7 14.7 0 1 0 92.05 333.78 Q98.8 332.02 105.55 333.78 A14.7 14.7 0 1 0 105.55 310.62 Q98.8 312.38 92.05 310.62 Z" fill="#fff" stroke="#1a1a1a" stroke-width="1"/>
<path d="M155.25 310.62 A14.7 14.7 0 1 0 155.25 333.78 Q162 332.02 168.75 333.78 A14.7 14.7 0 1 0 168.75 310.62 Q162 312.38 155.25 310.62 Z" fill="#fff" stroke="#1a1a1a" stroke-width="1"/>
<path d="M218.45 310.62 A14.7 14.7 0 1 0 218.45 333.78 Q225.2 332.02 231.95 333.78 A14.7 14.7 0 1 0 231.95 310.62 Q225.2 312.38 218.45 310.62 Z" fill="#fff" stroke="#1a1a1a" stroke-width="1"/>
<path d="M281.65 310.62 A14.7 14.7 0 1 0 281.65 333.78 Q288.4 332.02 295.15 333.78 A14.7 14.7 0 1 0 295.15 310.62 Q288.4 312.38 281.65 310.62 Z" fill="#fff" stroke="#1a1a1a" stroke-width="1"/>
<path d="M344.85 310.62 A14.7 14.7 0 1 0 344.85 333.78 Q351.6 332.02 358.35 333.78 A14.7 14.7 0 1 0 358.35 310.62 Q351.6 312.38 344.85 310.62 Z" fill="#fff" stroke="#1a1a1a" stroke-width="1"/>
<path d="M408.05 310.62 A14.7 14.7 0 1 0 408.05 333.78 Q414.8 332.02 421.55 333.78 A14.7 14.7 0 1 0 421.55 310.62 Q414.8 312.38 408.05 310.62 Z" fill="#fff" stroke="#1a1a1a" stroke-width="1"/>
<path d="M471.25 310.62 A14.7 14.7 0 1 0 471.25 333.78 Q478 332.02 484.75 333.78 A14.7 14.7 0 1 0 484.75 310.62 Q478 312.38 471.25 310.62 Z" fill="#fff" stroke="#1a1a1a" stroke-width="1"/>
<path d="M122.6 311.96 A13 13 0 1 0 122.6 332.44 Q130.4 331.76 138.2 332.44 A13 13 0 1 0 138.2 311.96 Q130.4 312.64 122.6 311.96 Z" fill="#fff" stroke="#1a1a1a" stroke-width="1"/>
<path d="M185.8 311.96 A13 13 0 1 0 185.8 332.44 Q193.6 331.76 201.4 332.44 A13 13 0 1 0 201.4 311.96 Q193.6 312.64 185.8 311.96 Z" fill="#fff" stroke="#1a1a1a" stroke-width="1"/>
<path d="M249 311.96 A13 13 0 1 0 249 332.44 Q256.8 331.76 264.6 332.44 A13 13 0 1 0 264.6 311.96 Q256.8 312.64 249 311.96 Z" fill="#fff" stroke="#1a1a1a" stroke-width="1"/>
<path d="M312.2 311.96 A13 13 0 1 0 312.2 332.44 Q320 331.76 327.8 332.44 A13 13 0 1 0 327.8 311.96 Q320 312.64 312.2 311.96 Z" fill="#fff" stroke="#1a1a1a" stroke-width="1"/>
<path d="M375.4 311.96 A13 13 0 1 0 375.4 332.44 Q383.2 331.76 391 332.44 A13 13 0 1 0 391 311.96 Q383.2 312.64 375.4 311.96 Z" fill="#fff" stroke="#1a1a1a" stroke-width="1"/>
<path d="M438.6 311.96 A13 13 0 1 0 438.6 332.44 Q446.4 331.76 454.2 332.44 A13 13 0 1 0 454.2 311.96 Q446.4 312.64 438.6 311.96 Z" fill="#fff" stroke="#1a1a1a" stroke-width="1"/>
<path d="M501.8 311.96 A13 13 0 1 0 501.8 332.44 Q509.6 331.76 517.4 332.44 A13 13 0 1 0 517.4 311.96 Q509.6 312.64 501.8 311.96 Z" fill="#fff" stroke="#1a1a1a" stroke-width="1"/>
<circle cx="83" cy="322.2" r="7.5" fill="#fff" stroke="#1a1a1a" stroke-width="1"/>
<circle cx="83" cy="322.2" r="5.8" fill="#fff" stroke="#1a1a1a" stroke-width="0.9"/>
<circle cx="114.6" cy="322.2" r="5" fill="#fff" stroke="#1a1a1a" stroke-width="1.7"/>
<circle cx="146.2" cy="322.2" r="5" fill="#fff" stroke="#1a1a1a" stroke-width="1.7"/>
<circle cx="177.8" cy="322.2" r="5.4" fill="#fff" stroke="#1a1a1a" stroke-width="1"/>
<circle cx="209.4" cy="322.2" r="5.4" fill="#fff" stroke="#1a1a1a" stroke-width="1"/>
<circle cx="241" cy="322.2" r="5" fill="#fff" stroke="#1a1a1a" stroke-width="1.7"/>
<circle cx="272.6" cy="322.2" r="5" fill="#fff" stroke="#1a1a1a" stroke-width="1.7"/>
<circle cx="304.2" cy="322.2" r="5.4" fill="#fff" stroke="#1a1a1a" stroke-width="1"/>
<circle cx="335.8" cy="322.2" r="5.4" fill="#fff" stroke="#1a1a1a" stroke-width="1"/>
<circle cx="367.4" cy="322.2" r="4.6" fill="#fff" stroke="#1a1a1a" stroke-width="1"/>
<circle cx="399" cy="322.2" r="4.6" fill="#fff" stroke="#1a1a1a" stroke-width="1"/>
<circle cx="430.6" cy="322.2" r="5" fill="#fff" stroke="#1a1a1a" stroke-width="1.7"/>
<circle cx="462.2" cy="322.2" r="5" fill="#fff" stroke="#1a1a1a" stroke-width="1.7"/>
<circle cx="493.8" cy="322.2" r="4.6" fill="#fff" stroke="#1a1a1a" stroke-width="1.9"/>
<circle cx="525.4" cy="322.2" r="4.6" fill="#fff" stroke="#1a1a1a" stroke-width="1.9"/>
<circle cx="169.3" cy="322.2" r="2.6" fill="#fff" stroke="#1a1a1a" stroke-width="1"/>
<circle cx="169.3" cy="322.2" r="1.3" fill="#fff" stroke="#1a1a1a" stroke-width="0.8"/>
<circle cx="295.7" cy="322.2" r="2.6" fill="#fff" stroke="#1a1a1a" stroke-width="1"/>
<circle cx="295.7" cy="322.2" r="1.3" fill="#fff" stroke="#1a1a1a" stroke-width="0.8"/>
<circle cx="344.3" cy="322.2" r="2.6" fill="#fff" stroke="#1a1a1a" stroke-width="1"/>
<circle cx="344.3" cy="322.2" r="1.3" fill="#fff" stroke="#1a1a1a" stroke-width="0.8"/>
<circle cx="217.9" cy="322.2" r="2.6" fill="#fff" stroke="#1a1a1a" stroke-width="1"/>
<circle cx="217.9" cy="322.2" r="1.3" fill="#fff" stroke="#1a1a1a" stroke-width="0.8"/>
<path d="M182.8 320.2 l4 -2 M182.8 324.2 l4 2" stroke="#1a1a1a" stroke-width="1.3" fill="none"/>
<path d="M204.4 320.2 l-4 -2 M204.4 324.2 l-4 2" stroke="#1a1a1a" stroke-width="1.3" fill="none"/>
<rect x="309.4" y="321.1" width="21.2" height="2.2" fill="#fff" stroke="#1a1a1a" stroke-width="0.9"/>
<circle cx="365.4" cy="312.6" r="1.9" fill="#fff" stroke="#1a1a1a" stroke-width="1"/>
<circle cx="369.4" cy="312.6" r="1.9" fill="#fff" stroke="#1a1a1a" stroke-width="1"/>
<path d="M365.8 326.6 l-2.4 5.2 M369 326.6 l2.4 5.2" stroke="#1a1a1a" stroke-width="1.1" fill="none"/>
<circle cx="367.4" cy="322.2" r="4.9" fill="#fff" stroke="#1a1a1a" stroke-width="1.1"/>
<circle cx="397" cy="312.6" r="1.9" fill="#fff" stroke="#1a1a1a" stroke-width="1"/>
<circle cx="401" cy="312.6" r="1.9" fill="#fff" stroke="#1a1a1a" stroke-width="1"/>
<path d="M397.4 326.6 l-2.4 5.2 M400.6 326.6 l2.4 5.2" stroke="#1a1a1a" stroke-width="1.1" fill="none"/>
<circle cx="399" cy="322.2" r="4.9" fill="#fff" stroke="#1a1a1a" stroke-width="1.1"/>
<path d="M491.8 316.7 L537.4 311.2 L539.4 322.2" stroke="#1a1a1a" stroke-width="0.9" fill="none"/>
<path d="M491.8 327.7 L537.4 333.2 L539.4 322.2" stroke="#1a1a1a" stroke-width="0.9" fill="none"/>
<line x1="49" y1="307.3" x2="74.7" y2="307.3" stroke="#111" stroke-width="1.15"/>
<line x1="49" y1="336.8" x2="74.7" y2="336.8" stroke="#111" stroke-width="1.15"/>
<line x1="51.6" y1="308.5" x2="51.6" y2="317" stroke="#111" stroke-width="1.15"/>
<line x1="51.6" y1="327.5" x2="51.6" y2="335.5" stroke="#111" stroke-width="1.15"/>
<polygon points="51.6,307.8 50,311.8 53.2,311.8" fill="#1a1a1a"/>
<polygon points="51.6,336.3 50,332.3 53.2,332.3" fill="#1a1a1a"/>
<path d="M586 307.8 H612 L632 316 V328.5 L612 336.8 H586 A14.5 14.5 0 0 1 586 307.8 Z" fill="#fff" stroke="#1a1a1a" stroke-width="1"/>
<path d="M600.5 308.5 Q594 322 600.5 336" fill="none" stroke="#1a1a1a" stroke-width="1"/>
<path d="M604.5 308.5 Q598 322 604.5 336" fill="none" stroke="#1a1a1a" stroke-width="1"/>
<circle cx="587.8" cy="322.2" r="7.4" fill="#fff" stroke="#1a1a1a" stroke-width="1"/>
<circle cx="587.8" cy="322.2" r="5.6" fill="#fff" stroke="#1a1a1a" stroke-width="0.9"/>
<circle cx="619" cy="322.2" r="4.6" fill="#fff" stroke="#1a1a1a" stroke-width="1.1"/>
<circle cx="627.5" cy="322.2" r="2.6" fill="#fff" stroke="#1a1a1a" stroke-width="1"/>
<path d="M702.69 310.7 A14.6 14.6 0 1 0 702.69 333.7 Q709.45 331.9 716.21 333.7 A14.6 14.6 0 1 0 716.21 310.7 Q709.45 312.5 702.69 310.7 Z" fill="#fff" stroke="#1a1a1a" stroke-width="1"/>
<path d="M733.51 311.56 A13.5 13.5 0 1 0 733.51 332.84 Q741 331.56 748.49 332.84 A13.5 13.5 0 1 0 748.49 311.56 Q741 312.84 733.51 311.56 Z" fill="#fff" stroke="#1a1a1a" stroke-width="1"/>
<path d="M708.5 308.5 Q702 322 708.5 336" fill="none" stroke="#1a1a1a" stroke-width="1"/>
<path d="M712.5 308.5 Q706 322 712.5 336" fill="none" stroke="#1a1a1a" stroke-width="1"/>
<circle cx="693.7" cy="322.2" r="7.0" fill="#fff" stroke="#1a1a1a" stroke-width="1"/>
<circle cx="693.7" cy="322.2" r="5.2" fill="#fff" stroke="#1a1a1a" stroke-width="0.9"/>
<circle cx="756.8" cy="322.2" r="7.0" fill="#fff" stroke="#1a1a1a" stroke-width="1"/>
<circle cx="756.8" cy="322.2" r="5.2" fill="#fff" stroke="#1a1a1a" stroke-width="0.9"/>
<circle cx="725.2" cy="322.2" r="5.0" fill="#fff" stroke="#1a1a1a" stroke-width="1.8"/>
<text transform="translate(32.2 204.6) scale(0.8500 1)" font-family="'Liberation Sans', Arial, sans-serif" font-size="9.8" font-weight="normal" text-anchor="middle" fill="#2a2a2a" stroke="#2a2a2a" stroke-width="0.25">A3</text>
<text transform="translate(51.4 166.9) scale(0.9500 1)" font-family="'Liberation Sans', Arial, sans-serif" font-size="9.4" font-weight="normal" text-anchor="middle" fill="#2a2a2a" stroke="#2a2a2a" stroke-width="0.25">W</text>
<text transform="translate(47.5 270.6) scale(0.8500 1)" font-family="'Liberation Sans', Arial, sans-serif" font-size="9.8" font-weight="normal" text-anchor="middle" fill="#2a2a2a" stroke="#2a2a2a" stroke-width="0.25">S</text>
<text transform="translate(135.6 284.2) scale(0.8500 1)" font-family="'Liberation Sans', Arial, sans-serif" font-size="9.8" font-weight="normal" text-anchor="middle" fill="#2a2a2a" stroke="#2a2a2a" stroke-width="0.25">Dp</text>
<text transform="translate(178.4 284.2) scale(0.8500 1)" font-family="'Liberation Sans', Arial, sans-serif" font-size="9.8" font-weight="normal" text-anchor="middle" fill="#2a2a2a" stroke="#2a2a2a" stroke-width="0.25">Dr</text>
<text transform="translate(256.8 284.2) scale(0.8500 1)" font-family="'Liberation Sans', Arial, sans-serif" font-size="9.8" font-weight="normal" text-anchor="middle" fill="#2a2a2a" stroke="#2a2a2a" stroke-width="0.25">P</text>
<text transform="translate(288.4 284.2) scale(0.8500 1)" font-family="'Liberation Sans', Arial, sans-serif" font-size="9.8" font-weight="normal" text-anchor="middle" fill="#2a2a2a" stroke="#2a2a2a" stroke-width="0.25">P</text>
<text transform="translate(320 284.2) scale(0.8500 1)" font-family="'Liberation Sans', Arial, sans-serif" font-size="9.8" font-weight="normal" text-anchor="middle" fill="#2a2a2a" stroke="#2a2a2a" stroke-width="0.25">P</text>
<rect x="542.5" y="179.5" width="11.5" height="9" fill="#fff"/>
<rect x="542.5" y="217.8" width="11.5" height="9" fill="#fff"/>
<text transform="translate(548.2 186.8) scale(0.8500 1)" font-family="'Liberation Sans', Arial, sans-serif" font-size="9.8" font-weight="normal" text-anchor="middle" fill="#2a2a2a" stroke="#2a2a2a" stroke-width="0.25">Tp</text>
<text transform="translate(548.2 225) scale(0.8500 1)" font-family="'Liberation Sans', Arial, sans-serif" font-size="9.8" font-weight="normal" text-anchor="middle" fill="#2a2a2a" stroke="#2a2a2a" stroke-width="0.25">Tp</text>
<text transform="translate(549.3 268.6) scale(0.8500 1)" font-family="'Liberation Sans', Arial, sans-serif" font-size="9.8" font-weight="normal" text-anchor="middle" fill="#2a2a2a" stroke="#2a2a2a" stroke-width="0.25">S</text>
<rect x="643" y="199" width="9" height="10" fill="#fff"/>
<text transform="translate(647.6 208) scale(0.8500 1)" font-family="'Liberation Sans', Arial, sans-serif" font-size="10.5" font-weight="normal" text-anchor="middle" fill="#2a2a2a" stroke="#2a2a2a" stroke-width="0.25">B</text>
<text transform="translate(53 325.6) scale(0.8500 1)" font-family="'Liberation Sans', Arial, sans-serif" font-size="9.8" font-weight="normal" text-anchor="middle" fill="#2a2a2a" stroke="#2a2a2a" stroke-width="0.25">Hi</text>
<text transform="translate(130.4 324.1) scale(0.9500 1)" font-family="'Liberation Sans', Arial, sans-serif" font-size="5.2" font-weight="normal" text-anchor="middle" fill="#3a3a4a" stroke="#3a3a4a" stroke-width="0.15">REGINA</text>
<text transform="translate(256.8 324.1) scale(0.9500 1)" font-family="'Liberation Sans', Arial, sans-serif" font-size="5.2" font-weight="normal" text-anchor="middle" fill="#3a3a4a" stroke="#3a3a4a" stroke-width="0.15">REGINA</text>
<text transform="translate(383.2 324.1) scale(0.9500 1)" font-family="'Liberation Sans', Arial, sans-serif" font-size="5.2" font-weight="normal" text-anchor="middle" fill="#3a3a4a" stroke="#3a3a4a" stroke-width="0.15">REGINA</text>
<text transform="translate(446.4 324.1) scale(0.9500 1)" font-family="'Liberation Sans', Arial, sans-serif" font-size="5.2" font-weight="normal" text-anchor="middle" fill="#3a3a4a" stroke="#3a3a4a" stroke-width="0.15">REGINA</text>
<text transform="translate(509.6 324.1) scale(0.9500 1)" font-family="'Liberation Sans', Arial, sans-serif" font-size="5.2" font-weight="normal" text-anchor="middle" fill="#3a3a4a" stroke="#3a3a4a" stroke-width="0.15">REGINA</text>
<text transform="translate(105.5 354.6) scale(0.8888 1)" font-family="'Liberation Sans', Arial, sans-serif" font-size="14.2" font-weight="bold" text-anchor="start" fill="#111" stroke="#111" stroke-width="0.2">RIVETED</text>
<text transform="translate(92.7 369.5) scale(0.8451 1)" font-family="'Liberation Sans', Arial, sans-serif" font-size="15" font-weight="normal" text-anchor="start" fill="#222" stroke="#222" stroke-width="0.1">REMACHADA</text>
<text transform="translate(367.1 357.5) scale(0.9078 1)" font-family="'DejaVu Sans', Verdana, sans-serif" font-size="13.5" font-weight="bold" text-anchor="start" fill="#111">n. 25</text>
<text transform="translate(490.4 357.5) scale(0.8868 1)" font-family="'DejaVu Sans', Verdana, sans-serif" font-size="13.5" font-weight="bold" text-anchor="start" fill="#111">n. 26</text>
<text transform="translate(588 357.7) scale(0.8738 1)" font-family="'DejaVu Sans', Verdana, sans-serif" font-size="13.5" font-weight="bold" text-anchor="start" fill="#111">n. 13</text>
<text transform="translate(706.8 357.7) scale(0.8842 1)" font-family="'DejaVu Sans', Verdana, sans-serif" font-size="13.5" font-weight="bold" text-anchor="start" fill="#111">n. 30</text>
<rect x="6" y="395.8" width="999" height="1" fill="#e4e4e4"/>
<rect x="12" y="402.3" width="14" height="206.2" fill="#e3e4e2"/>
<rect x="28" y="402.3" width="45" height="206.2" fill="#e3e4e2"/>
<rect x="75" y="402.3" width="50" height="206.2" fill="#e3e4e2"/>
<rect x="127" y="402.3" width="60" height="206.2" fill="#e3e4e2"/>
<rect x="283" y="402.3" width="45" height="206.2" fill="#e3e4e2"/>
<rect x="330" y="402.3" width="44" height="206.2" fill="#e3e4e2"/>
<rect x="485" y="402.3" width="45" height="206.2" fill="#e3e4e2"/>
<rect x="672" y="402.3" width="45" height="206.2" fill="#e3e4e2"/>
<rect x="719" y="402.3" width="45.3" height="206.2" fill="#e3e4e2"/>
<rect x="765.9" y="402.3" width="44.9" height="206.2" fill="#e3e4e2"/>
<rect x="812.5" y="402.3" width="45.1" height="206.2" fill="#e3e4e2"/>
<rect x="859.2" y="402.3" width="44.8" height="206.2" fill="#e3e4e2"/>
<rect x="189" y="402.3" width="92" height="45.1" fill="#e3e4e2"/>
<rect x="189" y="449.8" width="92" height="158.7" fill="#e3e4e2"/>
<rect x="376" y="402.3" width="107" height="29.7" fill="#e3e4e2"/>
<rect x="376" y="434" width="44.6" height="174.5" fill="#e3e4e2"/>
<rect x="422.4" y="434" width="60.6" height="174.5" fill="#e3e4e2"/>
<rect x="532" y="402.3" width="138" height="29.5" fill="#e3e4e2"/>
<rect x="532" y="434.2" width="45" height="174.3" fill="#e3e4e2"/>
<rect x="578.6" y="434.2" width="45.1" height="174.3" fill="#e3e4e2"/>
<rect x="625.2" y="434.2" width="44.8" height="174.3" fill="#e3e4e2"/>
<rect x="905.5" y="402.3" width="93.3" height="70.7" fill="#e3e4e2"/>
<rect x="905.5" y="475.6" width="45.1" height="183" fill="#d6edfb"/>
<rect x="952.6" y="475.6" width="46.2" height="183" fill="#d6edfb"/>
<rect x="12" y="612" width="892" height="46.8" fill="#d6edfb"/>
<text transform="translate(56.2 603) rotate(-90) scale(0.9407 1)" font-family="'Liberation Sans', Arial, sans-serif" font-size="16" font-weight="bold" fill="#111" stroke="#111" stroke-width="0.15">ISO N°</text>
<text transform="translate(97.2 603) rotate(-90) scale(0.9436 1)" font-family="'Liberation Sans', Arial, sans-serif" font-size="16" font-weight="bold" fill="#111" stroke="#111" stroke-width="0.15">Regina Chain N°</text>
<text transform="translate(113.6 603) rotate(-90) scale(0.8649 1)" font-family="'Liberation Sans', Arial, sans-serif" font-size="16" font-weight="normal" fill="#2a2a2a" stroke="#2a2a2a" stroke-width="0.15">Código cadena Regina</text>
<text transform="translate(153 603) rotate(-90) scale(0.9315 1)" font-family="'Liberation Sans', Arial, sans-serif" font-size="16" font-weight="bold" fill="#111" stroke="#111" stroke-width="0.15">Product Range</text>
<text transform="translate(168.5 603) rotate(-90) scale(0.8423 1)" font-family="'Liberation Sans', Arial, sans-serif" font-size="16" font-weight="normal" fill="#2a2a2a" stroke="#2a2a2a" stroke-width="0.15">Gama</text>
<text transform="translate(303.6 603) rotate(-90) scale(0.9521 1)" font-family="'Liberation Sans', Arial, sans-serif" font-size="16" font-weight="bold" fill="#111" stroke="#111" stroke-width="0.15">Roller Diameter</text>
<text transform="translate(318.4 603) rotate(-90) scale(0.8559 1)" font-family="'Liberation Sans', Arial, sans-serif" font-size="16" font-weight="normal" fill="#2a2a2a" stroke="#2a2a2a" stroke-width="0.15">Diámetro rodillo</text>
<text transform="translate(350.6 603) rotate(-90) scale(0.9478 1)" font-family="'Liberation Sans', Arial, sans-serif" font-size="16" font-weight="bold" fill="#111" stroke="#111" stroke-width="0.15">Inside Width</text>
<text transform="translate(365.8 603) rotate(-90) scale(0.8508 1)" font-family="'Liberation Sans', Arial, sans-serif" font-size="16" font-weight="normal" fill="#2a2a2a" stroke="#2a2a2a" stroke-width="0.15">Ancho interno</text>
<text transform="translate(396 603) rotate(-90) scale(0.9644 1)" font-family="'Liberation Sans', Arial, sans-serif" font-size="16" font-weight="bold" fill="#111" stroke="#111" stroke-width="0.15">Height</text>
<text transform="translate(412.8 603) rotate(-90) scale(0.8350 1)" font-family="'Liberation Sans', Arial, sans-serif" font-size="16" font-weight="normal" fill="#2a2a2a" stroke="#2a2a2a" stroke-width="0.15">Altura</text>
<text transform="translate(450.6 603) rotate(-90) scale(0.9141 1)" font-family="'Liberation Sans', Arial, sans-serif" font-size="16" font-weight="bold" fill="#111" stroke="#111" stroke-width="0.15">Thickness (nominal)</text>
<text transform="translate(466 603) rotate(-90) scale(0.8195 1)" font-family="'Liberation Sans', Arial, sans-serif" font-size="16" font-weight="normal" fill="#2a2a2a" stroke="#2a2a2a" stroke-width="0.15">Espesor (nominal)</text>
<text transform="translate(506 603) rotate(-90) scale(0.9198 1)" font-family="'Liberation Sans', Arial, sans-serif" font-size="16" font-weight="bold" fill="#111" stroke="#111" stroke-width="0.15">Transverse Pitch</text>
<text transform="translate(519.8 603) rotate(-90) scale(0.7981 1)" font-family="'Liberation Sans', Arial, sans-serif" font-size="16" font-weight="normal" fill="#2a2a2a" stroke="#2a2a2a" stroke-width="0.15">Paso transversal</text>
<text transform="translate(553 603) rotate(-90) scale(0.9857 1)" font-family="'Liberation Sans', Arial, sans-serif" font-size="16" font-weight="bold" fill="#111" stroke="#111" stroke-width="0.15">Diameter</text>
<text transform="translate(567.4 603) rotate(-90) scale(0.8166 1)" font-family="'Liberation Sans', Arial, sans-serif" font-size="16" font-weight="normal" fill="#2a2a2a" stroke="#2a2a2a" stroke-width="0.15">Diámetro</text>
<text transform="translate(600 603) rotate(-90) scale(0.9682 1)" font-family="'Liberation Sans', Arial, sans-serif" font-size="16" font-weight="bold" fill="#111" stroke="#111" stroke-width="0.15">Riveted Pin width</text>
<text transform="translate(613 603) rotate(-90) scale(0.8604 1)" font-family="'Liberation Sans', Arial, sans-serif" font-size="16" font-weight="normal" fill="#2a2a2a" stroke="#2a2a2a" stroke-width="0.15">Largo del eje remachado</text>
<text transform="translate(647 603) rotate(-90) scale(0.9807 1)" font-family="'Liberation Sans', Arial, sans-serif" font-size="16" font-weight="bold" fill="#111" stroke="#111" stroke-width="0.15">Overall Pin width</text>
<text transform="translate(660 603) rotate(-90) scale(0.8563 1)" font-family="'Liberation Sans', Arial, sans-serif" font-size="16" font-weight="normal" fill="#2a2a2a" stroke="#2a2a2a" stroke-width="0.15">Largo máximo eje</text>
<text transform="translate(691.5 603) rotate(-90) scale(0.9571 1)" font-family="'Liberation Sans', Arial, sans-serif" font-size="16" font-weight="bold" fill="#111" stroke="#111" stroke-width="0.15">Working Surface</text>
<text transform="translate(707 603) rotate(-90) scale(0.8674 1)" font-family="'Liberation Sans', Arial, sans-serif" font-size="16" font-weight="normal" fill="#2a2a2a" stroke="#2a2a2a" stroke-width="0.15">Superficie de trabajo</text>
<text transform="translate(738 603) rotate(-90) scale(0.9586 1)" font-family="'Liberation Sans', Arial, sans-serif" font-size="16" font-weight="bold" fill="#111" stroke="#111" stroke-width="0.15">Measuring Load</text>
<text transform="translate(752 603) rotate(-90) scale(0.8717 1)" font-family="'Liberation Sans', Arial, sans-serif" font-size="16" font-weight="normal" fill="#2a2a2a" stroke="#2a2a2a" stroke-width="0.15">Carga de medida</text>
<text transform="translate(785 603) rotate(-90) scale(0.9629 1)" font-family="'Liberation Sans', Arial, sans-serif" font-size="16" font-weight="bold" fill="#111" stroke="#111" stroke-width="0.15">Min. Ultim. Strength</text>
<text transform="translate(798.5 603) rotate(-90) scale(0.8611 1)" font-family="'Liberation Sans', Arial, sans-serif" font-size="16" font-weight="normal" fill="#2a2a2a" stroke="#2a2a2a" stroke-width="0.15">Carga de rotura mínima</text>
<text transform="translate(832 603) rotate(-90) scale(0.9498 1)" font-family="'Liberation Sans', Arial, sans-serif" font-size="16" font-weight="bold" fill="#111" stroke="#111" stroke-width="0.15">Avg. Ultim. Strength</text>
<text transform="translate(845.5 603) rotate(-90) scale(0.8728 1)" font-family="'Liberation Sans', Arial, sans-serif" font-size="16" font-weight="normal" fill="#2a2a2a" stroke="#2a2a2a" stroke-width="0.15">Carga de rotura promedio</text>
<text transform="translate(878.5 603) rotate(-90) scale(0.9688 1)" font-family="'Liberation Sans', Arial, sans-serif" font-size="16" font-weight="bold" fill="#111" stroke="#111" stroke-width="0.15">Avg. Weight</text>
<text transform="translate(892.5 603) rotate(-90) scale(0.8379 1)" font-family="'Liberation Sans', Arial, sans-serif" font-size="16" font-weight="normal" fill="#2a2a2a" stroke="#2a2a2a" stroke-width="0.15">Peso approx.</text>
<text transform="translate(927 649.2) rotate(-90) scale(0.8312 1)" font-family="'Liberation Sans', Arial, sans-serif" font-size="16" font-weight="bold" fill="#111" stroke="#111" stroke-width="0.15">Conn. Link</text>
<text transform="translate(941.3 649.2) rotate(-90) scale(0.8348 1)" font-family="'Liberation Sans', Arial, sans-serif" font-size="16" font-weight="normal" fill="#2a2a2a" stroke="#2a2a2a" stroke-width="0.15">Unión</text>
<text transform="translate(973 649.2) rotate(-90) scale(0.8922 1)" font-family="'Liberation Sans', Arial, sans-serif" font-size="16" font-weight="bold" fill="#111" stroke="#111" stroke-width="0.15">Offset link</text>
<text transform="translate(988.2 649.2) rotate(-90) scale(0.8379 1)" font-family="'Liberation Sans', Arial, sans-serif" font-size="16" font-weight="normal" fill="#2a2a2a" stroke="#2a2a2a" stroke-width="0.15">Malla acodada</text>
<text transform="translate(235 422.7) scale(0.8845 1)" font-family="'Liberation Sans', Arial, sans-serif" font-size="16" font-weight="bold" text-anchor="middle" fill="#111" stroke="#111" stroke-width="0.15">Pitch</text>
<text transform="translate(235 436.6) scale(0.7605 1)" font-family="'Liberation Sans', Arial, sans-serif" font-size="16.5" font-weight="normal" text-anchor="middle" fill="#2a2a2a" stroke="#2a2a2a" stroke-width="0.15">Paso</text>
<text transform="translate(387.5 422.7) scale(0.9414 1)" font-family="'Liberation Sans', Arial, sans-serif" font-size="16" font-weight="bold" text-anchor="start" fill="#111" stroke="#111" stroke-width="0.15">Plate</text>
<text transform="translate(427.8 422.7) scale(0.8604 1)" font-family="'Liberation Sans', Arial, sans-serif" font-size="16.5" font-weight="normal" text-anchor="start" fill="#2a2a2a" stroke="#2a2a2a" stroke-width="0.15">/ Placa</text>
<text transform="translate(576.6 422.7) scale(0.9441 1)" font-family="'Liberation Sans', Arial, sans-serif" font-size="16" font-weight="bold" text-anchor="start" fill="#111" stroke="#111" stroke-width="0.15">Pin</text>
<text transform="translate(600.5 422.7) scale(0.8687 1)" font-family="'Liberation Sans', Arial, sans-serif" font-size="16.5" font-weight="normal" text-anchor="start" fill="#2a2a2a" stroke="#2a2a2a" stroke-width="0.15">/Eje</text>
<text transform="translate(951.8 421) scale(0.9509 1)" font-family="'Liberation Sans', Arial, sans-serif" font-size="16.5" font-weight="bold" text-anchor="middle" fill="#111" stroke="#111" stroke-width="0.15">Standard</text>
<text transform="translate(951.8 436.4) scale(0.9202 1)" font-family="'Liberation Sans', Arial, sans-serif" font-size="16.5" font-weight="bold" text-anchor="middle" fill="#111" stroke="#111" stroke-width="0.15">loose parts</text>
<text transform="translate(951.8 451.6) scale(0.8030 1)" font-family="'Liberation Sans', Arial, sans-serif" font-size="16.5" font-weight="normal" text-anchor="middle" fill="#2a2a2a" stroke="#2a2a2a" stroke-width="0.15">Accesorios</text>
<text transform="translate(951.8 465.4) scale(0.8332 1)" font-family="'Liberation Sans', Arial, sans-serif" font-size="16.5" font-weight="normal" text-anchor="middle" fill="#2a2a2a" stroke="#2a2a2a" stroke-width="0.15">standard</text>
<text transform="translate(234.5 625.9)" font-family="'Liberation Sans', Arial, sans-serif" font-size="14.6" font-weight="bold" text-anchor="middle" fill="#111" stroke="#111" stroke-width="0.2">P</text>
<text transform="translate(211.2 655) scale(0.7090 1)" font-family="'Liberation Sans', Arial, sans-serif" font-size="16" font-weight="normal" text-anchor="middle" fill="#222" stroke="#222" stroke-width="0.2">mm</text>
<text transform="translate(236.4 655) scale(0.7943 1)" font-family="'Liberation Sans', Arial, sans-serif" font-size="16" font-weight="normal" text-anchor="start" fill="#222" stroke="#222" stroke-width="0.2">” inches</text>
<text transform="translate(305.1 625.9)" font-family="'Liberation Sans', Arial, sans-serif" font-size="14.6" font-weight="bold" text-anchor="middle" fill="#111" stroke="#111" stroke-width="0.2">Dr</text>
<text transform="translate(305.1 639.7) scale(0.7708 1)" font-family="'Liberation Sans', Arial, sans-serif" font-size="16" font-weight="normal" text-anchor="middle" fill="#222" stroke="#222" stroke-width="0.2">max</text>
<text transform="translate(305.1 655) scale(0.7090 1)" font-family="'Liberation Sans', Arial, sans-serif" font-size="16" font-weight="normal" text-anchor="middle" fill="#222" stroke="#222" stroke-width="0.2">mm</text>
<text transform="translate(352 625.9)" font-family="'Liberation Sans', Arial, sans-serif" font-size="14.6" font-weight="bold" text-anchor="middle" fill="#111" stroke="#111" stroke-width="0.2">W</text>
<text transform="translate(352 639.7) scale(0.7292 1)" font-family="'Liberation Sans', Arial, sans-serif" font-size="16" font-weight="normal" text-anchor="middle" fill="#222" stroke="#222" stroke-width="0.2">min</text>
<text transform="translate(352 655) scale(0.7090 1)" font-family="'Liberation Sans', Arial, sans-serif" font-size="16" font-weight="normal" text-anchor="middle" fill="#222" stroke="#222" stroke-width="0.2">mm</text>
<text transform="translate(398 625.9)" font-family="'Liberation Sans', Arial, sans-serif" font-size="14.6" font-weight="bold" text-anchor="middle" fill="#111" stroke="#111" stroke-width="0.2">Hi</text>
<text transform="translate(398 639.7) scale(0.7708 1)" font-family="'Liberation Sans', Arial, sans-serif" font-size="16" font-weight="normal" text-anchor="middle" fill="#222" stroke="#222" stroke-width="0.2">max</text>
<text transform="translate(398 655) scale(0.7090 1)" font-family="'Liberation Sans', Arial, sans-serif" font-size="16" font-weight="normal" text-anchor="middle" fill="#222" stroke="#222" stroke-width="0.2">mm</text>
<text transform="translate(445.2 625.9)" font-family="'Liberation Sans', Arial, sans-serif" font-size="14.6" font-weight="bold" text-anchor="middle" fill="#111" stroke="#111" stroke-width="0.2">s</text>
<text transform="translate(445.2 655) scale(0.7090 1)" font-family="'Liberation Sans', Arial, sans-serif" font-size="16" font-weight="normal" text-anchor="middle" fill="#222" stroke="#222" stroke-width="0.2">mm</text>
<text transform="translate(499.5 625.9)" font-family="'Liberation Sans', Arial, sans-serif" font-size="14.6" font-weight="bold" text-anchor="middle" fill="#111" stroke="#111" stroke-width="0.2">Tp</text>
<text transform="translate(499.5 655) scale(0.7090 1)" font-family="'Liberation Sans', Arial, sans-serif" font-size="16" font-weight="normal" text-anchor="middle" fill="#222" stroke="#222" stroke-width="0.2">mm</text>
<text transform="translate(554.1 625.9)" font-family="'Liberation Sans', Arial, sans-serif" font-size="14.6" font-weight="bold" text-anchor="middle" fill="#111" stroke="#111" stroke-width="0.2">Dp</text>
<text transform="translate(554.1 639.7) scale(0.7708 1)" font-family="'Liberation Sans', Arial, sans-serif" font-size="16" font-weight="normal" text-anchor="middle" fill="#222" stroke="#222" stroke-width="0.2">max</text>
<text transform="translate(554.1 655) scale(0.7090 1)" font-family="'Liberation Sans', Arial, sans-serif" font-size="16" font-weight="normal" text-anchor="middle" fill="#222" stroke="#222" stroke-width="0.2">mm</text>
<text transform="translate(600.8 625.9)" font-family="'Liberation Sans', Arial, sans-serif" font-size="14.6" font-weight="bold" text-anchor="middle" fill="#111" stroke="#111" stroke-width="0.2">A3</text>
<text transform="translate(600.8 639.7) scale(0.7708 1)" font-family="'Liberation Sans', Arial, sans-serif" font-size="16" font-weight="normal" text-anchor="middle" fill="#222" stroke="#222" stroke-width="0.2">max</text>
<text transform="translate(600.8 655) scale(0.7090 1)" font-family="'Liberation Sans', Arial, sans-serif" font-size="16" font-weight="normal" text-anchor="middle" fill="#222" stroke="#222" stroke-width="0.2">mm</text>
<text transform="translate(647.5 625.9)" font-family="'Liberation Sans', Arial, sans-serif" font-size="14.6" font-weight="bold" text-anchor="middle" fill="#111" stroke="#111" stroke-width="0.2">B</text>
<text transform="translate(647.5 639.7) scale(0.7708 1)" font-family="'Liberation Sans', Arial, sans-serif" font-size="16" font-weight="normal" text-anchor="middle" fill="#222" stroke="#222" stroke-width="0.2">max</text>
<text transform="translate(647.5 655) scale(0.7090 1)" font-family="'Liberation Sans', Arial, sans-serif" font-size="16" font-weight="normal" text-anchor="middle" fill="#222" stroke="#222" stroke-width="0.2">mm</text>
<text transform="translate(444.6 639.7) scale(0.6641 1)" font-family="'Liberation Sans', Arial, sans-serif" font-size="16" font-weight="normal" text-anchor="middle" fill="#222" stroke="#222" stroke-width="0.2">inner/outer</text>
<text transform="translate(680.9 655) scale(0.7090 1)" font-family="'Liberation Sans', Arial, sans-serif" font-size="16" font-weight="normal" text-anchor="start" fill="#222" stroke="#222" stroke-width="0.2">mm</text>
<text transform="translate(700.5 649.2) scale(0.9590 1)" font-family="'Liberation Sans', Arial, sans-serif" font-size="10.5" font-weight="normal" text-anchor="start" fill="#222" stroke="#222" stroke-width="0.1">2</text>
<text transform="translate(740.9 655) scale(0.8654 1)" font-family="'Liberation Sans', Arial, sans-serif" font-size="16" font-weight="normal" text-anchor="middle" fill="#222" stroke="#222" stroke-width="0.2">N</text>
<text transform="translate(787.7 655) scale(0.8182 1)" font-family="'Liberation Sans', Arial, sans-serif" font-size="16" font-weight="normal" text-anchor="middle" fill="#222" stroke="#222" stroke-width="0.2">kN</text>
<text transform="translate(834 655) scale(0.8182 1)" font-family="'Liberation Sans', Arial, sans-serif" font-size="16" font-weight="normal" text-anchor="middle" fill="#222" stroke="#222" stroke-width="0.2">kN</text>
<text transform="translate(881.7 655) scale(0.8703 1)" font-family="'Liberation Sans', Arial, sans-serif" font-size="16" font-weight="normal" text-anchor="middle" fill="#222" stroke="#222" stroke-width="0.2">Kg/m</text>
<rect x="12" y="669.2" width="986.8" height="20.4" fill="#d6edfb"/>
<text transform="translate(19.5 685.6) scale(0.6999 1)" font-family="'Liberation Sans', Arial, sans-serif" font-size="16.2" font-weight="bold" text-anchor="start" fill="#0d0d0d" stroke="#0d0d0d" stroke-width="0.2">EUROPEAN SERIES</text>
<text transform="translate(139.4 685.6) scale(0.7821 1)" font-family="'Liberation Sans', Arial, sans-serif" font-size="16.2" font-weight="bold" text-anchor="start" fill="#0d0d0d" stroke="#0d0d0d" stroke-width="0.2">SERIE EUROPEA</text>
<rect x="12" y="691.8" width="986.8" height="49" fill="#f0eded"/>
<rect x="12" y="691.8" width="14" height="49" fill="#e5e5e3"/>
<rect x="74" y="691.8" width="52" height="49" fill="#e5e5e3"/>
<rect x="12" y="743" width="986.8" height="47.1" fill="#ebf3fb"/>
<rect x="12" y="743" width="14" height="47.1" fill="#e5e5e3"/>
<rect x="74" y="743" width="52" height="47.1" fill="#e5e5e3"/>
<rect x="12" y="792.3" width="986.8" height="47" fill="#f0eded"/>
<rect x="12" y="792.3" width="14" height="47" fill="#e5e5e3"/>
<rect x="74" y="792.3" width="52" height="47" fill="#e5e5e3"/>
<rect x="12" y="841.6" width="986.8" height="32.3" fill="#ebf3fb"/>
<rect x="12" y="841.6" width="14" height="32.3" fill="#e5e5e3"/>
<rect x="74" y="841.6" width="52" height="32.3" fill="#e5e5e3"/>
<rect x="12" y="873.9" width="986.8" height="5.1" fill="#e5e5e3"/>
<text transform="translate(15 706.9) scale(0.8105 1)" font-family="'Liberation Sans', Arial, sans-serif" font-size="15.3" font-weight="normal" text-anchor="start" fill="#1c1c1c" stroke="#1c1c1c" stroke-width="0.2">x</text>
<text transform="translate(50.5 706.9) scale(0.6990 1)" font-family="'Liberation Sans', Arial, sans-serif" font-size="15.3" font-weight="normal" text-anchor="middle" fill="#1c1c1c" stroke="#1c1c1c" stroke-width="0.2">06 B<tspan dx="-0.3">-</tspan><tspan dx="-0.3">3</tspan></text>
<text transform="translate(99.3 706.9) scale(0.7092 1)" font-family="'Liberation Sans', Arial, sans-serif" font-size="15.3" font-weight="normal" text-anchor="middle" fill="#1c1c1c" stroke="#1c1c1c" stroke-width="0.2">C 321</text>
<text transform="translate(157 706.9) scale(0.6382 1)" font-family="'Liberation Sans', Arial, sans-serif" font-size="15.3" font-weight="normal" text-anchor="middle" fill="#1c1c1c" stroke="#1c1c1c" stroke-width="0.2">STD</text>
<text transform="translate(233.3 706.9) scale(0.7446 1)" font-family="'Liberation Sans', Arial, sans-serif" font-size="15.3" font-weight="normal" text-anchor="end" fill="#1c1c1c" stroke="#1c1c1c" stroke-width="0.2">9,525</text>
<text transform="translate(258.5 706.9) scale(0.7497 1)" font-family="'Liberation Sans', Arial, sans-serif" font-size="15.3" font-weight="normal" text-anchor="middle" fill="#1c1c1c" stroke="#1c1c1c" stroke-width="0.2">3/8</text>
<text transform="translate(319.6 706.9) scale(0.7446 1)" font-family="'Liberation Sans', Arial, sans-serif" font-size="15.3" font-weight="normal" text-anchor="end" fill="#1c1c1c" stroke="#1c1c1c" stroke-width="0.2">6,35</text>
<text transform="translate(367.2 706.9) scale(0.7446 1)" font-family="'Liberation Sans', Arial, sans-serif" font-size="15.3" font-weight="normal" text-anchor="end" fill="#1c1c1c" stroke="#1c1c1c" stroke-width="0.2">5,72</text>
<text transform="translate(413.8 706.9) scale(0.7446 1)" font-family="'Liberation Sans', Arial, sans-serif" font-size="15.3" font-weight="normal" text-anchor="end" fill="#1c1c1c" stroke="#1c1c1c" stroke-width="0.2">8,26</text>
<text transform="translate(448 706.9) scale(0.7446 1)" font-family="'Liberation Sans', Arial, sans-serif" font-size="15.3" font-weight="normal" text-anchor="middle" fill="#1c1c1c" stroke="#1c1c1c" stroke-width="0.2">1,27/1,03</text>
<text transform="translate(515.2 706.9) scale(0.7446 1)" font-family="'Liberation Sans', Arial, sans-serif" font-size="15.3" font-weight="normal" text-anchor="end" fill="#1c1c1c" stroke="#1c1c1c" stroke-width="0.2">10,24</text>
<text transform="translate(569.6 706.9) scale(0.7446 1)" font-family="'Liberation Sans', Arial, sans-serif" font-size="15.3" font-weight="normal" text-anchor="end" fill="#1c1c1c" stroke="#1c1c1c" stroke-width="0.2">3,28</text>
<text transform="translate(616.5 706.9) scale(0.7446 1)" font-family="'Liberation Sans', Arial, sans-serif" font-size="15.3" font-weight="normal" text-anchor="end" fill="#1c1c1c" stroke="#1c1c1c" stroke-width="0.2">33,20</text>
<text transform="translate(663 706.9) scale(0.7446 1)" font-family="'Liberation Sans', Arial, sans-serif" font-size="15.3" font-weight="normal" text-anchor="end" fill="#1c1c1c" stroke="#1c1c1c" stroke-width="0.2">39,80</text>
<text transform="translate(704.7 706.9) scale(0.7446 1)" font-family="'Liberation Sans', Arial, sans-serif" font-size="15.3" font-weight="normal" text-anchor="end" fill="#1c1c1c" stroke="#1c1c1c" stroke-width="0.2">84</text>
<text transform="translate(752.3 706.9) scale(0.7446 1)" font-family="'Liberation Sans', Arial, sans-serif" font-size="15.3" font-weight="normal" text-anchor="end" fill="#1c1c1c" stroke="#1c1c1c" stroke-width="0.2">210</text>
<text transform="translate(803.8 706.9) scale(0.7446 1)" font-family="'Liberation Sans', Arial, sans-serif" font-size="15.3" font-weight="normal" text-anchor="end" fill="#1c1c1c" stroke="#1c1c1c" stroke-width="0.2">24,90</text>
<text transform="translate(856 706.9) scale(0.7446 1)" font-family="'Liberation Sans', Arial, sans-serif" font-size="15.3" font-weight="normal" text-anchor="end" fill="#1c1c1c" stroke="#1c1c1c" stroke-width="0.2">26,45</text>
<text transform="translate(896.7 706.9) scale(0.7446 1)" font-family="'Liberation Sans', Arial, sans-serif" font-size="15.3" font-weight="normal" text-anchor="end" fill="#1c1c1c" stroke="#1c1c1c" stroke-width="0.2">1,13</text>
<text transform="translate(928.2 706.9) scale(0.7446 1)" font-family="'Liberation Sans', Arial, sans-serif" font-size="15.3" font-weight="normal" text-anchor="middle" fill="#1c1c1c" stroke="#1c1c1c" stroke-width="0.2">26</text>
<text transform="translate(975.2 706.9) scale(0.7446 1)" font-family="'Liberation Sans', Arial, sans-serif" font-size="15.3" font-weight="normal" text-anchor="middle" fill="#1c1c1c" stroke="#1c1c1c" stroke-width="0.2">13<tspan dx="-1.0">-</tspan><tspan dx="-1.0">30</tspan></text>
<text transform="translate(50.5 721.9) scale(0.6990 1)" font-family="'Liberation Sans', Arial, sans-serif" font-size="15.3" font-weight="normal" text-anchor="middle" fill="#1c1c1c" stroke="#1c1c1c" stroke-width="0.2">08 B<tspan dx="-0.3">-</tspan><tspan dx="-0.3">3</tspan></text>
<text transform="translate(99.3 721.9) scale(0.7092 1)" font-family="'Liberation Sans', Arial, sans-serif" font-size="15.3" font-weight="normal" text-anchor="middle" fill="#1c1c1c" stroke="#1c1c1c" stroke-width="0.2">326</text>
<text transform="translate(157 721.9) scale(0.6382 1)" font-family="'Liberation Sans', Arial, sans-serif" font-size="15.3" font-weight="normal" text-anchor="middle" fill="#1c1c1c" stroke="#1c1c1c" stroke-width="0.2">STD</text>
<text transform="translate(233.3 721.9) scale(0.7446 1)" font-family="'Liberation Sans', Arial, sans-serif" font-size="15.3" font-weight="normal" text-anchor="end" fill="#1c1c1c" stroke="#1c1c1c" stroke-width="0.2">12,700</text>
<text transform="translate(258.5 721.9) scale(0.7497 1)" font-family="'Liberation Sans', Arial, sans-serif" font-size="15.3" font-weight="normal" text-anchor="middle" fill="#1c1c1c" stroke="#1c1c1c" stroke-width="0.2">1/2</text>
<text transform="translate(319.6 721.9) scale(0.7446 1)" font-family="'Liberation Sans', Arial, sans-serif" font-size="15.3" font-weight="normal" text-anchor="end" fill="#1c1c1c" stroke="#1c1c1c" stroke-width="0.2">8,51</text>
<text transform="translate(367.2 721.9) scale(0.7446 1)" font-family="'Liberation Sans', Arial, sans-serif" font-size="15.3" font-weight="normal" text-anchor="end" fill="#1c1c1c" stroke="#1c1c1c" stroke-width="0.2">7,75</text>
<text transform="translate(413.8 721.9) scale(0.7446 1)" font-family="'Liberation Sans', Arial, sans-serif" font-size="15.3" font-weight="normal" text-anchor="end" fill="#1c1c1c" stroke="#1c1c1c" stroke-width="0.2">11,81</text>
<text transform="translate(448 721.9) scale(0.7446 1)" font-family="'Liberation Sans', Arial, sans-serif" font-size="15.3" font-weight="normal" text-anchor="middle" fill="#1c1c1c" stroke="#1c1c1c" stroke-width="0.2">1,63/1,40</text>
<text transform="translate(515.2 721.9) scale(0.7446 1)" font-family="'Liberation Sans', Arial, sans-serif" font-size="15.3" font-weight="normal" text-anchor="end" fill="#1c1c1c" stroke="#1c1c1c" stroke-width="0.2">13,92</text>
<text transform="translate(569.6 721.9) scale(0.7446 1)" font-family="'Liberation Sans', Arial, sans-serif" font-size="15.3" font-weight="normal" text-anchor="end" fill="#1c1c1c" stroke="#1c1c1c" stroke-width="0.2">4,45</text>
<text transform="translate(616.5 721.9) scale(0.7446 1)" font-family="'Liberation Sans', Arial, sans-serif" font-size="15.3" font-weight="normal" text-anchor="end" fill="#1c1c1c" stroke="#1c1c1c" stroke-width="0.2">44,30</text>
<text transform="translate(663 721.9) scale(0.7446 1)" font-family="'Liberation Sans', Arial, sans-serif" font-size="15.3" font-weight="normal" text-anchor="end" fill="#1c1c1c" stroke="#1c1c1c" stroke-width="0.2">52,10</text>
<text transform="translate(704.7 721.9) scale(0.7446 1)" font-family="'Liberation Sans', Arial, sans-serif" font-size="15.3" font-weight="normal" text-anchor="end" fill="#1c1c1c" stroke="#1c1c1c" stroke-width="0.2">156</text>
<text transform="translate(752.3 721.9) scale(0.7446 1)" font-family="'Liberation Sans', Arial, sans-serif" font-size="15.3" font-weight="normal" text-anchor="end" fill="#1c1c1c" stroke="#1c1c1c" stroke-width="0.2">370</text>
<text transform="translate(803.8 721.9) scale(0.7446 1)" font-family="'Liberation Sans', Arial, sans-serif" font-size="15.3" font-weight="normal" text-anchor="end" fill="#1c1c1c" stroke="#1c1c1c" stroke-width="0.2">44,50</text>
<text transform="translate(856 721.9) scale(0.7446 1)" font-family="'Liberation Sans', Arial, sans-serif" font-size="15.3" font-weight="normal" text-anchor="end" fill="#1c1c1c" stroke="#1c1c1c" stroke-width="0.2">51,95</text>
<text transform="translate(896.7 721.9) scale(0.7446 1)" font-family="'Liberation Sans', Arial, sans-serif" font-size="15.3" font-weight="normal" text-anchor="end" fill="#1c1c1c" stroke="#1c1c1c" stroke-width="0.2">2,05</text>
<text transform="translate(928.2 721.9) scale(0.7446 1)" font-family="'Liberation Sans', Arial, sans-serif" font-size="15.3" font-weight="normal" text-anchor="middle" fill="#1c1c1c" stroke="#1c1c1c" stroke-width="0.2">26</text>
<text transform="translate(975.2 721.9) scale(0.7446 1)" font-family="'Liberation Sans', Arial, sans-serif" font-size="15.3" font-weight="normal" text-anchor="middle" fill="#1c1c1c" stroke="#1c1c1c" stroke-width="0.2">13<tspan dx="-1.0">-</tspan><tspan dx="-1.0">30</tspan></text>
<text transform="translate(50.5 737.7) scale(0.6990 1)" font-family="'Liberation Sans', Arial, sans-serif" font-size="15.3" font-weight="normal" text-anchor="middle" fill="#1c1c1c" stroke="#1c1c1c" stroke-width="0.2">10 B<tspan dx="-0.3">-</tspan><tspan dx="-0.3">3</tspan></text>
<text transform="translate(99.3 737.7) scale(0.7092 1)" font-family="'Liberation Sans', Arial, sans-serif" font-size="15.3" font-weight="normal" text-anchor="middle" fill="#1c1c1c" stroke="#1c1c1c" stroke-width="0.2">336</text>
<text transform="translate(157 737.7) scale(0.6382 1)" font-family="'Liberation Sans', Arial, sans-serif" font-size="15.3" font-weight="normal" text-anchor="middle" fill="#1c1c1c" stroke="#1c1c1c" stroke-width="0.2">STD</text>
<text transform="translate(233.3 737.7) scale(0.7446 1)" font-family="'Liberation Sans', Arial, sans-serif" font-size="15.3" font-weight="normal" text-anchor="end" fill="#1c1c1c" stroke="#1c1c1c" stroke-width="0.2">15,875</text>
<text transform="translate(258.5 737.7) scale(0.7497 1)" font-family="'Liberation Sans', Arial, sans-serif" font-size="15.3" font-weight="normal" text-anchor="middle" fill="#1c1c1c" stroke="#1c1c1c" stroke-width="0.2">5/8</text>
<text transform="translate(319.6 737.7) scale(0.7446 1)" font-family="'Liberation Sans', Arial, sans-serif" font-size="15.3" font-weight="normal" text-anchor="end" fill="#1c1c1c" stroke="#1c1c1c" stroke-width="0.2">10,16</text>
<text transform="translate(367.2 737.7) scale(0.7446 1)" font-family="'Liberation Sans', Arial, sans-serif" font-size="15.3" font-weight="normal" text-anchor="end" fill="#1c1c1c" stroke="#1c1c1c" stroke-width="0.2">9,65</text>
<text transform="translate(413.8 737.7) scale(0.7446 1)" font-family="'Liberation Sans', Arial, sans-serif" font-size="15.3" font-weight="normal" text-anchor="end" fill="#1c1c1c" stroke="#1c1c1c" stroke-width="0.2">14,73</text>
<text transform="translate(448 737.7) scale(0.7446 1)" font-family="'Liberation Sans', Arial, sans-serif" font-size="15.3" font-weight="normal" text-anchor="middle" fill="#1c1c1c" stroke="#1c1c1c" stroke-width="0.2">1,63/1,53</text>
<text transform="translate(515.2 737.7) scale(0.7446 1)" font-family="'Liberation Sans', Arial, sans-serif" font-size="15.3" font-weight="normal" text-anchor="end" fill="#1c1c1c" stroke="#1c1c1c" stroke-width="0.2">16,59</text>
<text transform="translate(569.6 737.7) scale(0.7446 1)" font-family="'Liberation Sans', Arial, sans-serif" font-size="15.3" font-weight="normal" text-anchor="end" fill="#1c1c1c" stroke="#1c1c1c" stroke-width="0.2">5,08</text>
<text transform="translate(616.5 737.7) scale(0.7446 1)" font-family="'Liberation Sans', Arial, sans-serif" font-size="15.3" font-weight="normal" text-anchor="end" fill="#1c1c1c" stroke="#1c1c1c" stroke-width="0.2">52,30</text>
<text transform="translate(663 737.7) scale(0.7446 1)" font-family="'Liberation Sans', Arial, sans-serif" font-size="15.3" font-weight="normal" text-anchor="end" fill="#1c1c1c" stroke="#1c1c1c" stroke-width="0.2">60,50</text>
<text transform="translate(704.7 737.7) scale(0.7446 1)" font-family="'Liberation Sans', Arial, sans-serif" font-size="15.3" font-weight="normal" text-anchor="end" fill="#1c1c1c" stroke="#1c1c1c" stroke-width="0.2">206</text>
<text transform="translate(752.3 737.7) scale(0.7446 1)" font-family="'Liberation Sans', Arial, sans-serif" font-size="15.3" font-weight="normal" text-anchor="end" fill="#1c1c1c" stroke="#1c1c1c" stroke-width="0.2">590</text>
<text transform="translate(803.8 737.7) scale(0.7446 1)" font-family="'Liberation Sans', Arial, sans-serif" font-size="15.3" font-weight="normal" text-anchor="end" fill="#1c1c1c" stroke="#1c1c1c" stroke-width="0.2">66,70</text>
<text transform="translate(856 737.7) scale(0.7446 1)" font-family="'Liberation Sans', Arial, sans-serif" font-size="15.3" font-weight="normal" text-anchor="end" fill="#1c1c1c" stroke="#1c1c1c" stroke-width="0.2">73,55</text>
<text transform="translate(896.7 737.7) scale(0.7446 1)" font-family="'Liberation Sans', Arial, sans-serif" font-size="15.3" font-weight="normal" text-anchor="end" fill="#1c1c1c" stroke="#1c1c1c" stroke-width="0.2">2,60</text>
<text transform="translate(928.2 737.7) scale(0.7446 1)" font-family="'Liberation Sans', Arial, sans-serif" font-size="15.3" font-weight="normal" text-anchor="middle" fill="#1c1c1c" stroke="#1c1c1c" stroke-width="0.2">26</text>
<text transform="translate(975.2 737.7) scale(0.7446 1)" font-family="'Liberation Sans', Arial, sans-serif" font-size="15.3" font-weight="normal" text-anchor="middle" fill="#1c1c1c" stroke="#1c1c1c" stroke-width="0.2">13<tspan dx="-1.0">-</tspan><tspan dx="-1.0">30</tspan></text>
<text transform="translate(50.5 755.7) scale(0.6990 1)" font-family="'Liberation Sans', Arial, sans-serif" font-size="15.3" font-weight="normal" text-anchor="middle" fill="#1c1c1c" stroke="#1c1c1c" stroke-width="0.2">12 B<tspan dx="-0.3">-</tspan><tspan dx="-0.3">3</tspan></text>
<text transform="translate(99.3 755.7) scale(0.7092 1)" font-family="'Liberation Sans', Arial, sans-serif" font-size="15.3" font-weight="normal" text-anchor="middle" fill="#1c1c1c" stroke="#1c1c1c" stroke-width="0.2">340</text>
<text transform="translate(157 755.7) scale(0.6382 1)" font-family="'Liberation Sans', Arial, sans-serif" font-size="15.3" font-weight="normal" text-anchor="middle" fill="#1c1c1c" stroke="#1c1c1c" stroke-width="0.2">STD</text>
<text transform="translate(233.3 755.7) scale(0.7446 1)" font-family="'Liberation Sans', Arial, sans-serif" font-size="15.3" font-weight="normal" text-anchor="end" fill="#1c1c1c" stroke="#1c1c1c" stroke-width="0.2">19,050</text>
<text transform="translate(258.5 755.7) scale(0.7497 1)" font-family="'Liberation Sans', Arial, sans-serif" font-size="15.3" font-weight="normal" text-anchor="middle" fill="#1c1c1c" stroke="#1c1c1c" stroke-width="0.2">3/4</text>
<text transform="translate(319.6 755.7) scale(0.7446 1)" font-family="'Liberation Sans', Arial, sans-serif" font-size="15.3" font-weight="normal" text-anchor="end" fill="#1c1c1c" stroke="#1c1c1c" stroke-width="0.2">12,07</text>
<text transform="translate(367.2 755.7) scale(0.7446 1)" font-family="'Liberation Sans', Arial, sans-serif" font-size="15.3" font-weight="normal" text-anchor="end" fill="#1c1c1c" stroke="#1c1c1c" stroke-width="0.2">11,68</text>
<text transform="translate(413.8 755.7) scale(0.7446 1)" font-family="'Liberation Sans', Arial, sans-serif" font-size="15.3" font-weight="normal" text-anchor="end" fill="#1c1c1c" stroke="#1c1c1c" stroke-width="0.2">16,13</text>
<text transform="translate(448 755.7) scale(0.7446 1)" font-family="'Liberation Sans', Arial, sans-serif" font-size="15.3" font-weight="normal" text-anchor="middle" fill="#1c1c1c" stroke="#1c1c1c" stroke-width="0.2">1,85/1,70</text>
<text transform="translate(515.2 755.7) scale(0.7446 1)" font-family="'Liberation Sans', Arial, sans-serif" font-size="15.3" font-weight="normal" text-anchor="end" fill="#1c1c1c" stroke="#1c1c1c" stroke-width="0.2">19,46</text>
<text transform="translate(569.6 755.7) scale(0.7446 1)" font-family="'Liberation Sans', Arial, sans-serif" font-size="15.3" font-weight="normal" text-anchor="end" fill="#1c1c1c" stroke="#1c1c1c" stroke-width="0.2">5,72</text>
<text transform="translate(616.5 755.7) scale(0.7446 1)" font-family="'Liberation Sans', Arial, sans-serif" font-size="15.3" font-weight="normal" text-anchor="end" fill="#1c1c1c" stroke="#1c1c1c" stroke-width="0.2">61,50</text>
<text transform="translate(663 755.7) scale(0.7446 1)" font-family="'Liberation Sans', Arial, sans-serif" font-size="15.3" font-weight="normal" text-anchor="end" fill="#1c1c1c" stroke="#1c1c1c" stroke-width="0.2">70,70</text>
<text transform="translate(704.7 755.7) scale(0.7446 1)" font-family="'Liberation Sans', Arial, sans-serif" font-size="15.3" font-weight="normal" text-anchor="end" fill="#1c1c1c" stroke="#1c1c1c" stroke-width="0.2">267</text>
<text transform="translate(752.3 755.7) scale(0.7446 1)" font-family="'Liberation Sans', Arial, sans-serif" font-size="15.3" font-weight="normal" text-anchor="end" fill="#1c1c1c" stroke="#1c1c1c" stroke-width="0.2">840</text>
<text transform="translate(803.8 755.7) scale(0.7446 1)" font-family="'Liberation Sans', Arial, sans-serif" font-size="15.3" font-weight="normal" text-anchor="end" fill="#1c1c1c" stroke="#1c1c1c" stroke-width="0.2">86,70</text>
<text transform="translate(856 755.7) scale(0.7446 1)" font-family="'Liberation Sans', Arial, sans-serif" font-size="15.3" font-weight="normal" text-anchor="end" fill="#1c1c1c" stroke="#1c1c1c" stroke-width="0.2">88,25</text>
<text transform="translate(896.7 755.7) scale(0.7446 1)" font-family="'Liberation Sans', Arial, sans-serif" font-size="15.3" font-weight="normal" text-anchor="end" fill="#1c1c1c" stroke="#1c1c1c" stroke-width="0.2">3,59</text>
<text transform="translate(928.2 755.7) scale(0.7446 1)" font-family="'Liberation Sans', Arial, sans-serif" font-size="15.3" font-weight="normal" text-anchor="middle" fill="#1c1c1c" stroke="#1c1c1c" stroke-width="0.2">26</text>
<text transform="translate(975.2 755.7) scale(0.7446 1)" font-family="'Liberation Sans', Arial, sans-serif" font-size="15.3" font-weight="normal" text-anchor="middle" fill="#1c1c1c" stroke="#1c1c1c" stroke-width="0.2">13</text>
<text transform="translate(50.5 770.9) scale(0.6990 1)" font-family="'Liberation Sans', Arial, sans-serif" font-size="15.3" font-weight="normal" text-anchor="middle" fill="#1c1c1c" stroke="#1c1c1c" stroke-width="0.2">16 B<tspan dx="-0.3">-</tspan><tspan dx="-0.3">3</tspan></text>
<text transform="translate(99.3 770.9) scale(0.7092 1)" font-family="'Liberation Sans', Arial, sans-serif" font-size="15.3" font-weight="normal" text-anchor="middle" fill="#1c1c1c" stroke="#1c1c1c" stroke-width="0.2">347</text>
<text transform="translate(157 770.9) scale(0.6382 1)" font-family="'Liberation Sans', Arial, sans-serif" font-size="15.3" font-weight="normal" text-anchor="middle" fill="#1c1c1c" stroke="#1c1c1c" stroke-width="0.2">STD</text>
<text transform="translate(233.3 770.9) scale(0.7446 1)" font-family="'Liberation Sans', Arial, sans-serif" font-size="15.3" font-weight="normal" text-anchor="end" fill="#1c1c1c" stroke="#1c1c1c" stroke-width="0.2">25,400</text>
<text transform="translate(258.5 770.9) scale(0.7497 1)" font-family="'Liberation Sans', Arial, sans-serif" font-size="15.3" font-weight="normal" text-anchor="middle" fill="#1c1c1c" stroke="#1c1c1c" stroke-width="0.2">1</text>
<text transform="translate(319.6 770.9) scale(0.7446 1)" font-family="'Liberation Sans', Arial, sans-serif" font-size="15.3" font-weight="normal" text-anchor="end" fill="#1c1c1c" stroke="#1c1c1c" stroke-width="0.2">15,88</text>
<text transform="translate(367.2 770.9) scale(0.7446 1)" font-family="'Liberation Sans', Arial, sans-serif" font-size="15.3" font-weight="normal" text-anchor="end" fill="#1c1c1c" stroke="#1c1c1c" stroke-width="0.2">17,02</text>
<text transform="translate(413.8 770.9) scale(0.7446 1)" font-family="'Liberation Sans', Arial, sans-serif" font-size="15.3" font-weight="normal" text-anchor="end" fill="#1c1c1c" stroke="#1c1c1c" stroke-width="0.2">21,08</text>
<text transform="translate(448 770.9) scale(0.7446 1)" font-family="'Liberation Sans', Arial, sans-serif" font-size="15.3" font-weight="normal" text-anchor="middle" fill="#1c1c1c" stroke="#1c1c1c" stroke-width="0.2">3,80/3,00</text>
<text transform="translate(515.2 770.9) scale(0.7446 1)" font-family="'Liberation Sans', Arial, sans-serif" font-size="15.3" font-weight="normal" text-anchor="end" fill="#1c1c1c" stroke="#1c1c1c" stroke-width="0.2">31,88</text>
<text transform="translate(569.6 770.9) scale(0.7446 1)" font-family="'Liberation Sans', Arial, sans-serif" font-size="15.3" font-weight="normal" text-anchor="end" fill="#1c1c1c" stroke="#1c1c1c" stroke-width="0.2">8,28</text>
<text transform="translate(616.5 770.9) scale(0.7446 1)" font-family="'Liberation Sans', Arial, sans-serif" font-size="15.3" font-weight="normal" text-anchor="end" fill="#1c1c1c" stroke="#1c1c1c" stroke-width="0.2">99,90</text>
<text transform="translate(663 770.9) scale(0.7446 1)" font-family="'Liberation Sans', Arial, sans-serif" font-size="15.3" font-weight="normal" text-anchor="end" fill="#1c1c1c" stroke="#1c1c1c" stroke-width="0.2">110,70</text>
<text transform="translate(704.7 770.9) scale(0.7446 1)" font-family="'Liberation Sans', Arial, sans-serif" font-size="15.3" font-weight="normal" text-anchor="end" fill="#1c1c1c" stroke="#1c1c1c" stroke-width="0.2">630</text>
<text transform="translate(752.3 770.9) scale(0.7446 1)" font-family="'Liberation Sans', Arial, sans-serif" font-size="15.3" font-weight="normal" text-anchor="end" fill="#1c1c1c" stroke="#1c1c1c" stroke-width="0.2">1.490</text>
<text transform="translate(803.8 770.9) scale(0.7446 1)" font-family="'Liberation Sans', Arial, sans-serif" font-size="15.3" font-weight="normal" text-anchor="end" fill="#1c1c1c" stroke="#1c1c1c" stroke-width="0.2">160,00</text>
<text transform="translate(856 770.9) scale(0.7446 1)" font-family="'Liberation Sans', Arial, sans-serif" font-size="15.3" font-weight="normal" text-anchor="end" fill="#1c1c1c" stroke="#1c1c1c" stroke-width="0.2">176,50</text>
<text transform="translate(896.7 770.9) scale(0.7446 1)" font-family="'Liberation Sans', Arial, sans-serif" font-size="15.3" font-weight="normal" text-anchor="end" fill="#1c1c1c" stroke="#1c1c1c" stroke-width="0.2">7,80</text>
<text transform="translate(928.2 770.9) scale(0.7446 1)" font-family="'Liberation Sans', Arial, sans-serif" font-size="15.3" font-weight="normal" text-anchor="middle" fill="#1c1c1c" stroke="#1c1c1c" stroke-width="0.2">26</text>
<text transform="translate(975.2 770.9) scale(0.7446 1)" font-family="'Liberation Sans', Arial, sans-serif" font-size="15.3" font-weight="normal" text-anchor="middle" fill="#1c1c1c" stroke="#1c1c1c" stroke-width="0.2">13</text>
<text transform="translate(50.5 786.8) scale(0.6990 1)" font-family="'Liberation Sans', Arial, sans-serif" font-size="15.3" font-weight="normal" text-anchor="middle" fill="#1c1c1c" stroke="#1c1c1c" stroke-width="0.2">20 B<tspan dx="-0.3">-</tspan><tspan dx="-0.3">3</tspan></text>
<text transform="translate(99.3 786.8) scale(0.7092 1)" font-family="'Liberation Sans', Arial, sans-serif" font-size="15.3" font-weight="normal" text-anchor="middle" fill="#1c1c1c" stroke="#1c1c1c" stroke-width="0.2">352</text>
<text transform="translate(157 786.8) scale(0.6382 1)" font-family="'Liberation Sans', Arial, sans-serif" font-size="15.3" font-weight="normal" text-anchor="middle" fill="#1c1c1c" stroke="#1c1c1c" stroke-width="0.2">STD</text>
<text transform="translate(233.3 786.8) scale(0.7446 1)" font-family="'Liberation Sans', Arial, sans-serif" font-size="15.3" font-weight="normal" text-anchor="end" fill="#1c1c1c" stroke="#1c1c1c" stroke-width="0.2">31,750</text>
<text transform="translate(258.5 786.8) scale(0.7497 1)" font-family="'Liberation Sans', Arial, sans-serif" font-size="15.3" font-weight="normal" text-anchor="middle" fill="#1c1c1c" stroke="#1c1c1c" stroke-width="0.2">1 1/4</text>
<text transform="translate(319.6 786.8) scale(0.7446 1)" font-family="'Liberation Sans', Arial, sans-serif" font-size="15.3" font-weight="normal" text-anchor="end" fill="#1c1c1c" stroke="#1c1c1c" stroke-width="0.2">19,05</text>
<text transform="translate(367.2 786.8) scale(0.7446 1)" font-family="'Liberation Sans', Arial, sans-serif" font-size="15.3" font-weight="normal" text-anchor="end" fill="#1c1c1c" stroke="#1c1c1c" stroke-width="0.2">19,56</text>
<text transform="translate(413.8 786.8) scale(0.7446 1)" font-family="'Liberation Sans', Arial, sans-serif" font-size="15.3" font-weight="normal" text-anchor="end" fill="#1c1c1c" stroke="#1c1c1c" stroke-width="0.2">26,42</text>
<text transform="translate(448 786.8) scale(0.7446 1)" font-family="'Liberation Sans', Arial, sans-serif" font-size="15.3" font-weight="normal" text-anchor="middle" fill="#1c1c1c" stroke="#1c1c1c" stroke-width="0.2">4,60/3,35</text>
<text transform="translate(515.2 786.8) scale(0.7446 1)" font-family="'Liberation Sans', Arial, sans-serif" font-size="15.3" font-weight="normal" text-anchor="end" fill="#1c1c1c" stroke="#1c1c1c" stroke-width="0.2">36,45</text>
<text transform="translate(569.6 786.8) scale(0.7446 1)" font-family="'Liberation Sans', Arial, sans-serif" font-size="15.3" font-weight="normal" text-anchor="end" fill="#1c1c1c" stroke="#1c1c1c" stroke-width="0.2">10,19</text>
<text transform="translate(616.5 786.8) scale(0.7446 1)" font-family="'Liberation Sans', Arial, sans-serif" font-size="15.3" font-weight="normal" text-anchor="end" fill="#1c1c1c" stroke="#1c1c1c" stroke-width="0.2">115,00</text>
<text transform="translate(663 786.8) scale(0.7446 1)" font-family="'Liberation Sans', Arial, sans-serif" font-size="15.3" font-weight="normal" text-anchor="end" fill="#1c1c1c" stroke="#1c1c1c" stroke-width="0.2">127,20</text>
<text transform="translate(704.7 786.8) scale(0.7446 1)" font-family="'Liberation Sans', Arial, sans-serif" font-size="15.3" font-weight="normal" text-anchor="end" fill="#1c1c1c" stroke="#1c1c1c" stroke-width="0.2">885</text>
<text transform="translate(752.3 786.8) scale(0.7446 1)" font-family="'Liberation Sans', Arial, sans-serif" font-size="15.3" font-weight="normal" text-anchor="end" fill="#1c1c1c" stroke="#1c1c1c" stroke-width="0.2">2.340</text>
<text transform="translate(803.8 786.8) scale(0.7446 1)" font-family="'Liberation Sans', Arial, sans-serif" font-size="15.3" font-weight="normal" text-anchor="end" fill="#1c1c1c" stroke="#1c1c1c" stroke-width="0.2">250,00</text>
<text transform="translate(856 786.8) scale(0.7446 1)" font-family="'Liberation Sans', Arial, sans-serif" font-size="15.3" font-weight="normal" text-anchor="end" fill="#1c1c1c" stroke="#1c1c1c" stroke-width="0.2">284,70</text>
<text transform="translate(896.7 786.8) scale(0.7446 1)" font-family="'Liberation Sans', Arial, sans-serif" font-size="15.3" font-weight="normal" text-anchor="end" fill="#1c1c1c" stroke="#1c1c1c" stroke-width="0.2">10,07</text>
<text transform="translate(928.2 786.8) scale(0.7446 1)" font-family="'Liberation Sans', Arial, sans-serif" font-size="15.3" font-weight="normal" text-anchor="middle" fill="#1c1c1c" stroke="#1c1c1c" stroke-width="0.2">25</text>
<text transform="translate(975.2 786.8) scale(0.7446 1)" font-family="'Liberation Sans', Arial, sans-serif" font-size="15.3" font-weight="normal" text-anchor="middle" fill="#1c1c1c" stroke="#1c1c1c" stroke-width="0.2">13</text>
<text transform="translate(50.5 804.6) scale(0.6990 1)" font-family="'Liberation Sans', Arial, sans-serif" font-size="15.3" font-weight="normal" text-anchor="middle" fill="#1c1c1c" stroke="#1c1c1c" stroke-width="0.2">24 B<tspan dx="-0.3">-</tspan><tspan dx="-0.3">3</tspan></text>
<text transform="translate(99.3 804.6) scale(0.7092 1)" font-family="'Liberation Sans', Arial, sans-serif" font-size="15.3" font-weight="normal" text-anchor="middle" fill="#1c1c1c" stroke="#1c1c1c" stroke-width="0.2">357</text>
<text transform="translate(157 804.6) scale(0.6382 1)" font-family="'Liberation Sans', Arial, sans-serif" font-size="15.3" font-weight="normal" text-anchor="middle" fill="#1c1c1c" stroke="#1c1c1c" stroke-width="0.2">STD</text>
<text transform="translate(233.3 804.6) scale(0.7446 1)" font-family="'Liberation Sans', Arial, sans-serif" font-size="15.3" font-weight="normal" text-anchor="end" fill="#1c1c1c" stroke="#1c1c1c" stroke-width="0.2">38,100</text>
<text transform="translate(258.5 804.6) scale(0.7497 1)" font-family="'Liberation Sans', Arial, sans-serif" font-size="15.3" font-weight="normal" text-anchor="middle" fill="#1c1c1c" stroke="#1c1c1c" stroke-width="0.2">1 1/2</text>
<text transform="translate(319.6 804.6) scale(0.7446 1)" font-family="'Liberation Sans', Arial, sans-serif" font-size="15.3" font-weight="normal" text-anchor="end" fill="#1c1c1c" stroke="#1c1c1c" stroke-width="0.2">25,40</text>
<text transform="translate(367.2 804.6) scale(0.7446 1)" font-family="'Liberation Sans', Arial, sans-serif" font-size="15.3" font-weight="normal" text-anchor="end" fill="#1c1c1c" stroke="#1c1c1c" stroke-width="0.2">25,40</text>
<text transform="translate(413.8 804.6) scale(0.7446 1)" font-family="'Liberation Sans', Arial, sans-serif" font-size="15.3" font-weight="normal" text-anchor="end" fill="#1c1c1c" stroke="#1c1c1c" stroke-width="0.2">33,40</text>
<text transform="translate(448 804.6) scale(0.7446 1)" font-family="'Liberation Sans', Arial, sans-serif" font-size="15.3" font-weight="normal" text-anchor="middle" fill="#1c1c1c" stroke="#1c1c1c" stroke-width="0.2">6,15/4,60</text>
<text transform="translate(515.2 804.6) scale(0.7446 1)" font-family="'Liberation Sans', Arial, sans-serif" font-size="15.3" font-weight="normal" text-anchor="end" fill="#1c1c1c" stroke="#1c1c1c" stroke-width="0.2">48,36</text>
<text transform="translate(569.6 804.6) scale(0.7446 1)" font-family="'Liberation Sans', Arial, sans-serif" font-size="15.3" font-weight="normal" text-anchor="end" fill="#1c1c1c" stroke="#1c1c1c" stroke-width="0.2">14,63</text>
<text transform="translate(616.5 804.6) scale(0.7446 1)" font-family="'Liberation Sans', Arial, sans-serif" font-size="15.3" font-weight="normal" text-anchor="end" fill="#1c1c1c" stroke="#1c1c1c" stroke-width="0.2">150,20</text>
<text transform="translate(663 804.6) scale(0.7446 1)" font-family="'Liberation Sans', Arial, sans-serif" font-size="15.3" font-weight="normal" text-anchor="end" fill="#1c1c1c" stroke="#1c1c1c" stroke-width="0.2">163,20</text>
<text transform="translate(704.7 804.6) scale(0.7446 1)" font-family="'Liberation Sans', Arial, sans-serif" font-size="15.3" font-weight="normal" text-anchor="end" fill="#1c1c1c" stroke="#1c1c1c" stroke-width="0.2">1.650</text>
<text transform="translate(752.3 804.6) scale(0.7446 1)" font-family="'Liberation Sans', Arial, sans-serif" font-size="15.3" font-weight="normal" text-anchor="end" fill="#1c1c1c" stroke="#1c1c1c" stroke-width="0.2">3.340</text>
<text transform="translate(803.8 804.6) scale(0.7446 1)" font-family="'Liberation Sans', Arial, sans-serif" font-size="15.3" font-weight="normal" text-anchor="end" fill="#1c1c1c" stroke="#1c1c1c" stroke-width="0.2">425,00</text>
<text transform="translate(856 804.6) scale(0.7446 1)" font-family="'Liberation Sans', Arial, sans-serif" font-size="15.3" font-weight="normal" text-anchor="end" fill="#1c1c1c" stroke="#1c1c1c" stroke-width="0.2">439,25</text>
<text transform="translate(896.7 804.6) scale(0.7446 1)" font-family="'Liberation Sans', Arial, sans-serif" font-size="15.3" font-weight="normal" text-anchor="end" fill="#1c1c1c" stroke="#1c1c1c" stroke-width="0.2">19,74</text>
<text transform="translate(928.2 804.6) scale(0.7446 1)" font-family="'Liberation Sans', Arial, sans-serif" font-size="15.3" font-weight="normal" text-anchor="middle" fill="#1c1c1c" stroke="#1c1c1c" stroke-width="0.2">25</text>
<text transform="translate(975.2 804.6) scale(0.7446 1)" font-family="'Liberation Sans', Arial, sans-serif" font-size="15.3" font-weight="normal" text-anchor="middle" fill="#1c1c1c" stroke="#1c1c1c" stroke-width="0.2">13</text>
<text transform="translate(50.5 820.6) scale(0.6990 1)" font-family="'Liberation Sans', Arial, sans-serif" font-size="15.3" font-weight="normal" text-anchor="middle" fill="#1c1c1c" stroke="#1c1c1c" stroke-width="0.2">28 B<tspan dx="-0.3">-</tspan><tspan dx="-0.3">3</tspan></text>
<text transform="translate(99.3 820.6) scale(0.7092 1)" font-family="'Liberation Sans', Arial, sans-serif" font-size="15.3" font-weight="normal" text-anchor="middle" fill="#1c1c1c" stroke="#1c1c1c" stroke-width="0.2">362</text>
<text transform="translate(157 820.6) scale(0.6382 1)" font-family="'Liberation Sans', Arial, sans-serif" font-size="15.3" font-weight="normal" text-anchor="middle" fill="#1c1c1c" stroke="#1c1c1c" stroke-width="0.2">STD</text>
<text transform="translate(233.3 820.6) scale(0.7446 1)" font-family="'Liberation Sans', Arial, sans-serif" font-size="15.3" font-weight="normal" text-anchor="end" fill="#1c1c1c" stroke="#1c1c1c" stroke-width="0.2">44,450</text>
<text transform="translate(258.5 820.6) scale(0.7497 1)" font-family="'Liberation Sans', Arial, sans-serif" font-size="15.3" font-weight="normal" text-anchor="middle" fill="#1c1c1c" stroke="#1c1c1c" stroke-width="0.2">1 3/4</text>
<text transform="translate(319.6 820.6) scale(0.7446 1)" font-family="'Liberation Sans', Arial, sans-serif" font-size="15.3" font-weight="normal" text-anchor="end" fill="#1c1c1c" stroke="#1c1c1c" stroke-width="0.2">27,94</text>
<text transform="translate(367.2 820.6) scale(0.7446 1)" font-family="'Liberation Sans', Arial, sans-serif" font-size="15.3" font-weight="normal" text-anchor="end" fill="#1c1c1c" stroke="#1c1c1c" stroke-width="0.2">30,99</text>
<text transform="translate(413.8 820.6) scale(0.7446 1)" font-family="'Liberation Sans', Arial, sans-serif" font-size="15.3" font-weight="normal" text-anchor="end" fill="#1c1c1c" stroke="#1c1c1c" stroke-width="0.2">37,08</text>
<text transform="translate(448 820.6) scale(0.7446 1)" font-family="'Liberation Sans', Arial, sans-serif" font-size="15.3" font-weight="normal" text-anchor="middle" fill="#1c1c1c" stroke="#1c1c1c" stroke-width="0.2">7,00/6,15</text>
<text transform="translate(515.2 820.6) scale(0.7446 1)" font-family="'Liberation Sans', Arial, sans-serif" font-size="15.3" font-weight="normal" text-anchor="end" fill="#1c1c1c" stroke="#1c1c1c" stroke-width="0.2">59,56</text>
<text transform="translate(569.6 820.6) scale(0.7446 1)" font-family="'Liberation Sans', Arial, sans-serif" font-size="15.3" font-weight="normal" text-anchor="end" fill="#1c1c1c" stroke="#1c1c1c" stroke-width="0.2">15,90</text>
<text transform="translate(616.5 820.6) scale(0.7446 1)" font-family="'Liberation Sans', Arial, sans-serif" font-size="15.3" font-weight="normal" text-anchor="end" fill="#1c1c1c" stroke="#1c1c1c" stroke-width="0.2">184,30</text>
<text transform="translate(663 820.6) scale(0.7446 1)" font-family="'Liberation Sans', Arial, sans-serif" font-size="15.3" font-weight="normal" text-anchor="end" fill="#1c1c1c" stroke="#1c1c1c" stroke-width="0.2">199,10</text>
<text transform="translate(704.7 820.6) scale(0.7446 1)" font-family="'Liberation Sans', Arial, sans-serif" font-size="15.3" font-weight="normal" text-anchor="end" fill="#1c1c1c" stroke="#1c1c1c" stroke-width="0.2">2.220</text>
<text transform="translate(752.3 820.6) scale(0.7446 1)" font-family="'Liberation Sans', Arial, sans-serif" font-size="15.3" font-weight="normal" text-anchor="end" fill="#1c1c1c" stroke="#1c1c1c" stroke-width="0.2">4.540</text>
<text transform="translate(803.8 820.6) scale(0.7446 1)" font-family="'Liberation Sans', Arial, sans-serif" font-size="15.3" font-weight="normal" text-anchor="end" fill="#1c1c1c" stroke="#1c1c1c" stroke-width="0.2">530,00</text>
<text transform="translate(856 820.6) scale(0.7446 1)" font-family="'Liberation Sans', Arial, sans-serif" font-size="15.3" font-weight="normal" text-anchor="end" fill="#1c1c1c" stroke="#1c1c1c" stroke-width="0.2">558,95</text>
<text transform="translate(896.7 820.6) scale(0.7446 1)" font-family="'Liberation Sans', Arial, sans-serif" font-size="15.3" font-weight="normal" text-anchor="end" fill="#1c1c1c" stroke="#1c1c1c" stroke-width="0.2">25,08</text>
<text transform="translate(928.2 820.6) scale(0.7446 1)" font-family="'Liberation Sans', Arial, sans-serif" font-size="15.3" font-weight="normal" text-anchor="middle" fill="#1c1c1c" stroke="#1c1c1c" stroke-width="0.2">25</text>
<text transform="translate(975.2 820.6) scale(0.7446 1)" font-family="'Liberation Sans', Arial, sans-serif" font-size="15.3" font-weight="normal" text-anchor="middle" fill="#1c1c1c" stroke="#1c1c1c" stroke-width="0.2">13</text>
<text transform="translate(50.5 835.7) scale(0.6990 1)" font-family="'Liberation Sans', Arial, sans-serif" font-size="15.3" font-weight="normal" text-anchor="middle" fill="#1c1c1c" stroke="#1c1c1c" stroke-width="0.2">32 B<tspan dx="-0.3">-</tspan><tspan dx="-0.3">3</tspan></text>
<text transform="translate(99.3 835.7) scale(0.7092 1)" font-family="'Liberation Sans', Arial, sans-serif" font-size="15.3" font-weight="normal" text-anchor="middle" fill="#1c1c1c" stroke="#1c1c1c" stroke-width="0.2">365</text>
<text transform="translate(157 835.7) scale(0.6382 1)" font-family="'Liberation Sans', Arial, sans-serif" font-size="15.3" font-weight="normal" text-anchor="middle" fill="#1c1c1c" stroke="#1c1c1c" stroke-width="0.2">STD</text>
<text transform="translate(233.3 835.7) scale(0.7446 1)" font-family="'Liberation Sans', Arial, sans-serif" font-size="15.3" font-weight="normal" text-anchor="end" fill="#1c1c1c" stroke="#1c1c1c" stroke-width="0.2">50,800</text>
<text transform="translate(258.5 835.7) scale(0.7497 1)" font-family="'Liberation Sans', Arial, sans-serif" font-size="15.3" font-weight="normal" text-anchor="middle" fill="#1c1c1c" stroke="#1c1c1c" stroke-width="0.2">2</text>
<text transform="translate(319.6 835.7) scale(0.7446 1)" font-family="'Liberation Sans', Arial, sans-serif" font-size="15.3" font-weight="normal" text-anchor="end" fill="#1c1c1c" stroke="#1c1c1c" stroke-width="0.2">29,21</text>
<text transform="translate(367.2 835.7) scale(0.7446 1)" font-family="'Liberation Sans', Arial, sans-serif" font-size="15.3" font-weight="normal" text-anchor="end" fill="#1c1c1c" stroke="#1c1c1c" stroke-width="0.2">30,99</text>
<text transform="translate(413.8 835.7) scale(0.7446 1)" font-family="'Liberation Sans', Arial, sans-serif" font-size="15.3" font-weight="normal" text-anchor="end" fill="#1c1c1c" stroke="#1c1c1c" stroke-width="0.2">42,29</text>
<text transform="translate(448 835.7) scale(0.7446 1)" font-family="'Liberation Sans', Arial, sans-serif" font-size="15.3" font-weight="normal" text-anchor="middle" fill="#1c1c1c" stroke="#1c1c1c" stroke-width="0.2">7,00/6,15</text>
<text transform="translate(515.2 835.7) scale(0.7446 1)" font-family="'Liberation Sans', Arial, sans-serif" font-size="15.3" font-weight="normal" text-anchor="end" fill="#1c1c1c" stroke="#1c1c1c" stroke-width="0.2">58,55</text>
<text transform="translate(569.6 835.7) scale(0.7446 1)" font-family="'Liberation Sans', Arial, sans-serif" font-size="15.3" font-weight="normal" text-anchor="end" fill="#1c1c1c" stroke="#1c1c1c" stroke-width="0.2">17,81</text>
<text transform="translate(616.5 835.7) scale(0.7446 1)" font-family="'Liberation Sans', Arial, sans-serif" font-size="15.3" font-weight="normal" text-anchor="end" fill="#1c1c1c" stroke="#1c1c1c" stroke-width="0.2">184,30</text>
<text transform="translate(663 835.7) scale(0.7446 1)" font-family="'Liberation Sans', Arial, sans-serif" font-size="15.3" font-weight="normal" text-anchor="end" fill="#1c1c1c" stroke="#1c1c1c" stroke-width="0.2">198,80</text>
<text transform="translate(704.7 835.7) scale(0.7446 1)" font-family="'Liberation Sans', Arial, sans-serif" font-size="15.3" font-weight="normal" text-anchor="end" fill="#1c1c1c" stroke="#1c1c1c" stroke-width="0.2">2.430</text>
<text transform="translate(752.3 835.7) scale(0.7446 1)" font-family="'Liberation Sans', Arial, sans-serif" font-size="15.3" font-weight="normal" text-anchor="end" fill="#1c1c1c" stroke="#1c1c1c" stroke-width="0.2">6.010</text>
<text transform="translate(803.8 835.7) scale(0.7446 1)" font-family="'Liberation Sans', Arial, sans-serif" font-size="15.3" font-weight="normal" text-anchor="end" fill="#1c1c1c" stroke="#1c1c1c" stroke-width="0.2">670,00</text>
<text transform="translate(856 835.7) scale(0.7446 1)" font-family="'Liberation Sans', Arial, sans-serif" font-size="15.3" font-weight="normal" text-anchor="end" fill="#1c1c1c" stroke="#1c1c1c" stroke-width="0.2">750,50</text>
<text transform="translate(896.7 835.7) scale(0.7446 1)" font-family="'Liberation Sans', Arial, sans-serif" font-size="15.3" font-weight="normal" text-anchor="end" fill="#1c1c1c" stroke="#1c1c1c" stroke-width="0.2">26,86</text>
<text transform="translate(928.2 835.7) scale(0.7446 1)" font-family="'Liberation Sans', Arial, sans-serif" font-size="15.3" font-weight="normal" text-anchor="middle" fill="#1c1c1c" stroke="#1c1c1c" stroke-width="0.2">25</text>
<text transform="translate(975.2 835.7) scale(0.7446 1)" font-family="'Liberation Sans', Arial, sans-serif" font-size="15.3" font-weight="normal" text-anchor="middle" fill="#1c1c1c" stroke="#1c1c1c" stroke-width="0.2">13</text>
<text transform="translate(50.5 853.7) scale(0.6990 1)" font-family="'Liberation Sans', Arial, sans-serif" font-size="15.3" font-weight="normal" text-anchor="middle" fill="#1c1c1c" stroke="#1c1c1c" stroke-width="0.2">40 B<tspan dx="-0.3">-</tspan><tspan dx="-0.3">3</tspan></text>
<text transform="translate(99.3 853.7) scale(0.7092 1)" font-family="'Liberation Sans', Arial, sans-serif" font-size="15.3" font-weight="normal" text-anchor="middle" fill="#1c1c1c" stroke="#1c1c1c" stroke-width="0.2">375</text>
<text transform="translate(157 853.7) scale(0.6382 1)" font-family="'Liberation Sans', Arial, sans-serif" font-size="15.3" font-weight="normal" text-anchor="middle" fill="#1c1c1c" stroke="#1c1c1c" stroke-width="0.2">STD</text>
<text transform="translate(233.3 853.7) scale(0.7446 1)" font-family="'Liberation Sans', Arial, sans-serif" font-size="15.3" font-weight="normal" text-anchor="end" fill="#1c1c1c" stroke="#1c1c1c" stroke-width="0.2">63,500</text>
<text transform="translate(258.5 853.7) scale(0.7497 1)" font-family="'Liberation Sans', Arial, sans-serif" font-size="15.3" font-weight="normal" text-anchor="middle" fill="#1c1c1c" stroke="#1c1c1c" stroke-width="0.2">2 1/2</text>
<text transform="translate(319.6 853.7) scale(0.7446 1)" font-family="'Liberation Sans', Arial, sans-serif" font-size="15.3" font-weight="normal" text-anchor="end" fill="#1c1c1c" stroke="#1c1c1c" stroke-width="0.2">39,37</text>
<text transform="translate(367.2 853.7) scale(0.7446 1)" font-family="'Liberation Sans', Arial, sans-serif" font-size="15.3" font-weight="normal" text-anchor="end" fill="#1c1c1c" stroke="#1c1c1c" stroke-width="0.2">38,10</text>
<text transform="translate(413.8 853.7) scale(0.7446 1)" font-family="'Liberation Sans', Arial, sans-serif" font-size="15.3" font-weight="normal" text-anchor="end" fill="#1c1c1c" stroke="#1c1c1c" stroke-width="0.2">52,96</text>
<text transform="translate(448 853.7) scale(0.7446 1)" font-family="'Liberation Sans', Arial, sans-serif" font-size="15.3" font-weight="normal" text-anchor="middle" fill="#1c1c1c" stroke="#1c1c1c" stroke-width="0.2">8,50/7,80</text>
<text transform="translate(515.2 853.7) scale(0.7446 1)" font-family="'Liberation Sans', Arial, sans-serif" font-size="15.3" font-weight="normal" text-anchor="end" fill="#1c1c1c" stroke="#1c1c1c" stroke-width="0.2">72,29</text>
<text transform="translate(569.6 853.7) scale(0.7446 1)" font-family="'Liberation Sans', Arial, sans-serif" font-size="15.3" font-weight="normal" text-anchor="end" fill="#1c1c1c" stroke="#1c1c1c" stroke-width="0.2">22,89</text>
<text transform="translate(616.5 853.7) scale(0.7446 1)" font-family="'Liberation Sans', Arial, sans-serif" font-size="15.3" font-weight="normal" text-anchor="end" fill="#1c1c1c" stroke="#1c1c1c" stroke-width="0.2">226,00</text>
<text transform="translate(663 853.7) scale(0.7446 1)" font-family="'Liberation Sans', Arial, sans-serif" font-size="15.3" font-weight="normal" text-anchor="end" fill="#1c1c1c" stroke="#1c1c1c" stroke-width="0.2">246,40</text>
<text transform="translate(704.7 853.7) scale(0.7446 1)" font-family="'Liberation Sans', Arial, sans-serif" font-size="15.3" font-weight="normal" text-anchor="end" fill="#1c1c1c" stroke="#1c1c1c" stroke-width="0.2">3.870</text>
<text transform="translate(752.3 853.7) scale(0.7446 1)" font-family="'Liberation Sans', Arial, sans-serif" font-size="15.3" font-weight="normal" text-anchor="end" fill="#1c1c1c" stroke="#1c1c1c" stroke-width="0.2">9.340</text>
<text transform="translate(803.8 853.7) scale(0.7446 1)" font-family="'Liberation Sans', Arial, sans-serif" font-size="15.3" font-weight="normal" text-anchor="end" fill="#1c1c1c" stroke="#1c1c1c" stroke-width="0.2">950,00</text>
<text transform="translate(856 853.7) scale(0.7446 1)" font-family="'Liberation Sans', Arial, sans-serif" font-size="15.3" font-weight="normal" text-anchor="end" fill="#1c1c1c" stroke="#1c1c1c" stroke-width="0.2">1.147,35</text>
<text transform="translate(896.7 853.7) scale(0.7446 1)" font-family="'Liberation Sans', Arial, sans-serif" font-size="15.3" font-weight="normal" text-anchor="end" fill="#1c1c1c" stroke="#1c1c1c" stroke-width="0.2">45,13</text>
<text transform="translate(928.2 853.7) scale(0.7446 1)" font-family="'Liberation Sans', Arial, sans-serif" font-size="15.3" font-weight="normal" text-anchor="middle" fill="#1c1c1c" stroke="#1c1c1c" stroke-width="0.2">25</text>
<text transform="translate(975.2 853.7) scale(0.7446 1)" font-family="'Liberation Sans', Arial, sans-serif" font-size="15.3" font-weight="normal" text-anchor="middle" fill="#1c1c1c" stroke="#1c1c1c" stroke-width="0.2">13</text>
<text transform="translate(50.5 869.4) scale(0.6990 1)" font-family="'Liberation Sans', Arial, sans-serif" font-size="15.3" font-weight="normal" text-anchor="middle" fill="#1c1c1c" stroke="#1c1c1c" stroke-width="0.2">48 B<tspan dx="-0.3">-</tspan><tspan dx="-0.3">3</tspan></text>
<text transform="translate(99.3 869.4) scale(0.7092 1)" font-family="'Liberation Sans', Arial, sans-serif" font-size="15.3" font-weight="normal" text-anchor="middle" fill="#1c1c1c" stroke="#1c1c1c" stroke-width="0.2">381</text>
<text transform="translate(157 869.4) scale(0.6382 1)" font-family="'Liberation Sans', Arial, sans-serif" font-size="15.3" font-weight="normal" text-anchor="middle" fill="#1c1c1c" stroke="#1c1c1c" stroke-width="0.2">STD</text>
<text transform="translate(233.3 869.4) scale(0.7446 1)" font-family="'Liberation Sans', Arial, sans-serif" font-size="15.3" font-weight="normal" text-anchor="end" fill="#1c1c1c" stroke="#1c1c1c" stroke-width="0.2">76,200</text>
<text transform="translate(258.5 869.4) scale(0.7497 1)" font-family="'Liberation Sans', Arial, sans-serif" font-size="15.3" font-weight="normal" text-anchor="middle" fill="#1c1c1c" stroke="#1c1c1c" stroke-width="0.2">3</text>
<text transform="translate(319.6 869.4) scale(0.7446 1)" font-family="'Liberation Sans', Arial, sans-serif" font-size="15.3" font-weight="normal" text-anchor="end" fill="#1c1c1c" stroke="#1c1c1c" stroke-width="0.2">48,26</text>
<text transform="translate(367.2 869.4) scale(0.7446 1)" font-family="'Liberation Sans', Arial, sans-serif" font-size="15.3" font-weight="normal" text-anchor="end" fill="#1c1c1c" stroke="#1c1c1c" stroke-width="0.2">45,72</text>
<text transform="translate(413.8 869.4) scale(0.7446 1)" font-family="'Liberation Sans', Arial, sans-serif" font-size="15.3" font-weight="normal" text-anchor="end" fill="#1c1c1c" stroke="#1c1c1c" stroke-width="0.2">63,88</text>
<text transform="translate(472.8 869.4) scale(0.7446 1)" font-family="'Liberation Sans', Arial, sans-serif" font-size="15.3" font-weight="normal" text-anchor="end" fill="#1c1c1c" stroke="#1c1c1c" stroke-width="0.2">12,00/9,50</text>
<text transform="translate(515.2 869.4) scale(0.7446 1)" font-family="'Liberation Sans', Arial, sans-serif" font-size="15.3" font-weight="normal" text-anchor="end" fill="#1c1c1c" stroke="#1c1c1c" stroke-width="0.2">91,21</text>
<text transform="translate(569.6 869.4) scale(0.7446 1)" font-family="'Liberation Sans', Arial, sans-serif" font-size="15.3" font-weight="normal" text-anchor="end" fill="#1c1c1c" stroke="#1c1c1c" stroke-width="0.2">29,24</text>
<text transform="translate(616.5 869.4) scale(0.7446 1)" font-family="'Liberation Sans', Arial, sans-serif" font-size="15.3" font-weight="normal" text-anchor="end" fill="#1c1c1c" stroke="#1c1c1c" stroke-width="0.2">281,60</text>
<text transform="translate(663 869.4) scale(0.7446 1)" font-family="'Liberation Sans', Arial, sans-serif" font-size="15.3" font-weight="normal" text-anchor="end" fill="#1c1c1c" stroke="#1c1c1c" stroke-width="0.2">302,60</text>
<text transform="translate(704.7 869.4) scale(0.7446 1)" font-family="'Liberation Sans', Arial, sans-serif" font-size="15.3" font-weight="normal" text-anchor="end" fill="#1c1c1c" stroke="#1c1c1c" stroke-width="0.2">6.150</text>
<text transform="translate(752.3 869.4) scale(0.7446 1)" font-family="'Liberation Sans', Arial, sans-serif" font-size="15.3" font-weight="normal" text-anchor="end" fill="#1c1c1c" stroke="#1c1c1c" stroke-width="0.2">13.340</text>
<text transform="translate(803.8 869.4) scale(0.7446 1)" font-family="'Liberation Sans', Arial, sans-serif" font-size="15.3" font-weight="normal" text-anchor="end" fill="#1c1c1c" stroke="#1c1c1c" stroke-width="0.2">1.500,00</text>
<text transform="translate(856 869.4) scale(0.7446 1)" font-family="'Liberation Sans', Arial, sans-serif" font-size="15.3" font-weight="normal" text-anchor="end" fill="#1c1c1c" stroke="#1c1c1c" stroke-width="0.2">1.765,15</text>
<text transform="translate(896.7 869.4) scale(0.7446 1)" font-family="'Liberation Sans', Arial, sans-serif" font-size="15.3" font-weight="normal" text-anchor="end" fill="#1c1c1c" stroke="#1c1c1c" stroke-width="0.2">73,79</text>
<text transform="translate(928.2 869.4) scale(0.7446 1)" font-family="'Liberation Sans', Arial, sans-serif" font-size="15.3" font-weight="normal" text-anchor="middle" fill="#1c1c1c" stroke="#1c1c1c" stroke-width="0.2">25</text>
<text transform="translate(975.2 869.4) scale(0.7446 1)" font-family="'Liberation Sans', Arial, sans-serif" font-size="15.3" font-weight="normal" text-anchor="middle" fill="#1c1c1c" stroke="#1c1c1c" stroke-width="0.2">13</text>
<rect x="12" y="890.2" width="986.8" height="21" fill="#d6edfb"/>
<text transform="translate(19.5 907.2) scale(0.7208 1)" font-family="'Liberation Sans', Arial, sans-serif" font-size="16.2" font-weight="bold" text-anchor="start" fill="#0d0d0d" stroke="#0d0d0d" stroke-width="0.2">AMERICAN SERIES</text>
<text transform="translate(139.4 907.2) scale(0.6678 1)" font-family="'Liberation Sans', Arial, sans-serif" font-size="16.2" font-weight="normal" text-anchor="start" fill="#0d0d0d" stroke="#0d0d0d" stroke-width="0.3">SERIE AMERICANA</text>
<rect x="12" y="913" width="986.8" height="48.4" fill="#f0eded"/>
<rect x="12" y="913" width="14" height="48.4" fill="#e5e5e3"/>
<rect x="74" y="913" width="52" height="48.4" fill="#e5e5e3"/>
<rect x="12" y="963.6" width="986.8" height="46.7" fill="#ebf3fb"/>
<rect x="12" y="963.6" width="14" height="46.7" fill="#e5e5e3"/>
<rect x="74" y="963.6" width="52" height="46.7" fill="#e5e5e3"/>
<rect x="12" y="1012.3" width="986.8" height="47.1" fill="#f0eded"/>
<rect x="12" y="1012.3" width="14" height="47.1" fill="#e5e5e3"/>
<rect x="74" y="1012.3" width="52" height="47.1" fill="#e5e5e3"/>
<rect x="12" y="1061.5" width="986.8" height="46.4" fill="#ebf3fb"/>
<rect x="12" y="1061.5" width="14" height="46.4" fill="#e5e5e3"/>
<rect x="74" y="1061.5" width="52" height="46.4" fill="#e5e5e3"/>
<rect x="12" y="1108.8" width="986.8" height="47.2" fill="#f0eded"/>
<rect x="12" y="1108.8" width="14" height="47.2" fill="#e5e5e3"/>
<rect x="74" y="1108.8" width="52" height="47.2" fill="#e5e5e3"/>
<rect x="12" y="1158.2" width="986.8" height="48.3" fill="#ebf3fb"/>
<rect x="12" y="1158.2" width="14" height="48.3" fill="#e5e5e3"/>
<rect x="74" y="1158.2" width="52" height="48.3" fill="#e5e5e3"/>
<text transform="translate(15 926.9) scale(0.8105 1)" font-family="'Liberation Sans', Arial, sans-serif" font-size="15.3" font-weight="normal" text-anchor="start" fill="#1c1c1c" stroke="#1c1c1c" stroke-width="0.2">&amp;</text>
<text transform="translate(50.5 926.9) scale(0.6990 1)" font-family="'Liberation Sans', Arial, sans-serif" font-size="15.3" font-weight="normal" text-anchor="middle" fill="#1c1c1c" stroke="#1c1c1c" stroke-width="0.2">06 C<tspan dx="-0.3">-</tspan><tspan dx="-0.3">3</tspan></text>
<text transform="translate(99.3 926.9) scale(0.7092 1)" font-family="'Liberation Sans', Arial, sans-serif" font-size="15.3" font-weight="normal" text-anchor="middle" fill="#1c1c1c" stroke="#1c1c1c" stroke-width="0.2">A 35<tspan dx="-0.3">-</tspan><tspan dx="-0.3">3</tspan></text>
<text transform="translate(157 926.9) scale(0.6382 1)" font-family="'Liberation Sans', Arial, sans-serif" font-size="15.3" font-weight="normal" text-anchor="middle" fill="#1c1c1c" stroke="#1c1c1c" stroke-width="0.2">STD</text>
<text transform="translate(233.3 926.9) scale(0.7446 1)" font-family="'Liberation Sans', Arial, sans-serif" font-size="15.3" font-weight="normal" text-anchor="end" fill="#1c1c1c" stroke="#1c1c1c" stroke-width="0.2">9,525</text>
<text transform="translate(258.5 926.9) scale(0.7497 1)" font-family="'Liberation Sans', Arial, sans-serif" font-size="15.3" font-weight="normal" text-anchor="middle" fill="#1c1c1c" stroke="#1c1c1c" stroke-width="0.2">3/8</text>
<text transform="translate(319.6 926.9) scale(0.7446 1)" font-family="'Liberation Sans', Arial, sans-serif" font-size="15.3" font-weight="normal" text-anchor="end" fill="#1c1c1c" stroke="#1c1c1c" stroke-width="0.2">5,08</text>
<text transform="translate(367.2 926.9) scale(0.7446 1)" font-family="'Liberation Sans', Arial, sans-serif" font-size="15.3" font-weight="normal" text-anchor="end" fill="#1c1c1c" stroke="#1c1c1c" stroke-width="0.2">4,77</text>
<text transform="translate(413.8 926.9) scale(0.7446 1)" font-family="'Liberation Sans', Arial, sans-serif" font-size="15.3" font-weight="normal" text-anchor="end" fill="#1c1c1c" stroke="#1c1c1c" stroke-width="0.2">9,05</text>
<text transform="translate(448 926.9) scale(0.7446 1)" font-family="'Liberation Sans', Arial, sans-serif" font-size="15.3" font-weight="normal" text-anchor="middle" fill="#1c1c1c" stroke="#1c1c1c" stroke-width="0.2">1,27</text>
<text transform="translate(515.2 926.9) scale(0.7446 1)" font-family="'Liberation Sans', Arial, sans-serif" font-size="15.3" font-weight="normal" text-anchor="end" fill="#1c1c1c" stroke="#1c1c1c" stroke-width="0.2">10,13</text>
<text transform="translate(569.6 926.9) scale(0.7446 1)" font-family="'Liberation Sans', Arial, sans-serif" font-size="15.3" font-weight="normal" text-anchor="end" fill="#1c1c1c" stroke="#1c1c1c" stroke-width="0.2">3,58</text>
<text transform="translate(616.5 926.9) scale(0.7446 1)" font-family="'Liberation Sans', Arial, sans-serif" font-size="15.3" font-weight="normal" text-anchor="end" fill="#1c1c1c" stroke="#1c1c1c" stroke-width="0.2">32,20</text>
<text transform="translate(663 926.9) scale(0.7446 1)" font-family="'Liberation Sans', Arial, sans-serif" font-size="15.3" font-weight="normal" text-anchor="end" fill="#1c1c1c" stroke="#1c1c1c" stroke-width="0.2">38,90</text>
<text transform="translate(704.7 926.9) scale(0.7446 1)" font-family="'Liberation Sans', Arial, sans-serif" font-size="15.3" font-weight="normal" text-anchor="end" fill="#1c1c1c" stroke="#1c1c1c" stroke-width="0.2">80</text>
<text transform="translate(752.3 926.9) scale(0.7446 1)" font-family="'Liberation Sans', Arial, sans-serif" font-size="15.3" font-weight="normal" text-anchor="end" fill="#1c1c1c" stroke="#1c1c1c" stroke-width="0.2">210</text>
<text transform="translate(803.8 926.9) scale(0.7446 1)" font-family="'Liberation Sans', Arial, sans-serif" font-size="15.3" font-weight="normal" text-anchor="end" fill="#1c1c1c" stroke="#1c1c1c" stroke-width="0.2">23,70</text>
<text transform="translate(856 926.9) scale(0.7446 1)" font-family="'Liberation Sans', Arial, sans-serif" font-size="15.3" font-weight="normal" text-anchor="end" fill="#1c1c1c" stroke="#1c1c1c" stroke-width="0.2">29,40</text>
<text transform="translate(896.7 926.9) scale(0.7446 1)" font-family="'Liberation Sans', Arial, sans-serif" font-size="15.3" font-weight="normal" text-anchor="end" fill="#1c1c1c" stroke="#1c1c1c" stroke-width="0.2">0,99</text>
<text transform="translate(928.2 926.9) scale(0.7446 1)" font-family="'Liberation Sans', Arial, sans-serif" font-size="15.3" font-weight="normal" text-anchor="middle" fill="#1c1c1c" stroke="#1c1c1c" stroke-width="0.2">26</text>
<text transform="translate(975.2 926.9) scale(0.7446 1)" font-family="'Liberation Sans', Arial, sans-serif" font-size="15.3" font-weight="normal" text-anchor="middle" fill="#1c1c1c" stroke="#1c1c1c" stroke-width="0.2">13<tspan dx="-1.0">-</tspan><tspan dx="-1.0">30</tspan></text>
<text transform="translate(50.5 942.9) scale(0.6990 1)" font-family="'Liberation Sans', Arial, sans-serif" font-size="15.3" font-weight="normal" text-anchor="middle" fill="#1c1c1c" stroke="#1c1c1c" stroke-width="0.2">08 A<tspan dx="-0.3">-</tspan><tspan dx="-0.3">3</tspan></text>
<text transform="translate(99.3 942.9) scale(0.7092 1)" font-family="'Liberation Sans', Arial, sans-serif" font-size="15.3" font-weight="normal" text-anchor="middle" fill="#1c1c1c" stroke="#1c1c1c" stroke-width="0.2">A 40<tspan dx="-0.3">-</tspan><tspan dx="-0.3">3</tspan></text>
<text transform="translate(157 942.9) scale(0.6382 1)" font-family="'Liberation Sans', Arial, sans-serif" font-size="15.3" font-weight="normal" text-anchor="middle" fill="#1c1c1c" stroke="#1c1c1c" stroke-width="0.2">STD</text>
<text transform="translate(233.3 942.9) scale(0.7446 1)" font-family="'Liberation Sans', Arial, sans-serif" font-size="15.3" font-weight="normal" text-anchor="end" fill="#1c1c1c" stroke="#1c1c1c" stroke-width="0.2">12,700</text>
<text transform="translate(258.5 942.9) scale(0.7497 1)" font-family="'Liberation Sans', Arial, sans-serif" font-size="15.3" font-weight="normal" text-anchor="middle" fill="#1c1c1c" stroke="#1c1c1c" stroke-width="0.2">1/2</text>
<text transform="translate(319.6 942.9) scale(0.7446 1)" font-family="'Liberation Sans', Arial, sans-serif" font-size="15.3" font-weight="normal" text-anchor="end" fill="#1c1c1c" stroke="#1c1c1c" stroke-width="0.2">7,92</text>
<text transform="translate(367.2 942.9) scale(0.7446 1)" font-family="'Liberation Sans', Arial, sans-serif" font-size="15.3" font-weight="normal" text-anchor="end" fill="#1c1c1c" stroke="#1c1c1c" stroke-width="0.2">7,85</text>
<text transform="translate(413.8 942.9) scale(0.7446 1)" font-family="'Liberation Sans', Arial, sans-serif" font-size="15.3" font-weight="normal" text-anchor="end" fill="#1c1c1c" stroke="#1c1c1c" stroke-width="0.2">12,07</text>
<text transform="translate(448 942.9) scale(0.7446 1)" font-family="'Liberation Sans', Arial, sans-serif" font-size="15.3" font-weight="normal" text-anchor="middle" fill="#1c1c1c" stroke="#1c1c1c" stroke-width="0.2">1,53</text>
<text transform="translate(515.2 942.9) scale(0.7446 1)" font-family="'Liberation Sans', Arial, sans-serif" font-size="15.3" font-weight="normal" text-anchor="end" fill="#1c1c1c" stroke="#1c1c1c" stroke-width="0.2">14,38</text>
<text transform="translate(569.6 942.9) scale(0.7446 1)" font-family="'Liberation Sans', Arial, sans-serif" font-size="15.3" font-weight="normal" text-anchor="end" fill="#1c1c1c" stroke="#1c1c1c" stroke-width="0.2">3,98</text>
<text transform="translate(616.5 942.9) scale(0.7446 1)" font-family="'Liberation Sans', Arial, sans-serif" font-size="15.3" font-weight="normal" text-anchor="end" fill="#1c1c1c" stroke="#1c1c1c" stroke-width="0.2">45,30</text>
<text transform="translate(663 942.9) scale(0.7446 1)" font-family="'Liberation Sans', Arial, sans-serif" font-size="15.3" font-weight="normal" text-anchor="end" fill="#1c1c1c" stroke="#1c1c1c" stroke-width="0.2">53,10</text>
<text transform="translate(704.7 942.9) scale(0.7446 1)" font-family="'Liberation Sans', Arial, sans-serif" font-size="15.3" font-weight="normal" text-anchor="end" fill="#1c1c1c" stroke="#1c1c1c" stroke-width="0.2">132</text>
<text transform="translate(752.3 942.9) scale(0.7446 1)" font-family="'Liberation Sans', Arial, sans-serif" font-size="15.3" font-weight="normal" text-anchor="end" fill="#1c1c1c" stroke="#1c1c1c" stroke-width="0.2">370</text>
<text transform="translate(803.8 942.9) scale(0.7446 1)" font-family="'Liberation Sans', Arial, sans-serif" font-size="15.3" font-weight="normal" text-anchor="end" fill="#1c1c1c" stroke="#1c1c1c" stroke-width="0.2">41,40</text>
<text transform="translate(856 942.9) scale(0.7446 1)" font-family="'Liberation Sans', Arial, sans-serif" font-size="15.3" font-weight="normal" text-anchor="end" fill="#1c1c1c" stroke="#1c1c1c" stroke-width="0.2">51,45</text>
<text transform="translate(896.7 942.9) scale(0.7446 1)" font-family="'Liberation Sans', Arial, sans-serif" font-size="15.3" font-weight="normal" text-anchor="end" fill="#1c1c1c" stroke="#1c1c1c" stroke-width="0.2">1,80</text>
<text transform="translate(928.2 942.9) scale(0.7446 1)" font-family="'Liberation Sans', Arial, sans-serif" font-size="15.3" font-weight="normal" text-anchor="middle" fill="#1c1c1c" stroke="#1c1c1c" stroke-width="0.2">26</text>
<text transform="translate(975.2 942.9) scale(0.7446 1)" font-family="'Liberation Sans', Arial, sans-serif" font-size="15.3" font-weight="normal" text-anchor="middle" fill="#1c1c1c" stroke="#1c1c1c" stroke-width="0.2">13<tspan dx="-1.0">-</tspan><tspan dx="-1.0">30</tspan></text>
<text transform="translate(50.5 957.8) scale(0.6990 1)" font-family="'Liberation Sans', Arial, sans-serif" font-size="15.3" font-weight="normal" text-anchor="middle" fill="#1c1c1c" stroke="#1c1c1c" stroke-width="0.2">10 A<tspan dx="-0.3">-</tspan><tspan dx="-0.3">3</tspan></text>
<text transform="translate(99.3 957.8) scale(0.7092 1)" font-family="'Liberation Sans', Arial, sans-serif" font-size="15.3" font-weight="normal" text-anchor="middle" fill="#1c1c1c" stroke="#1c1c1c" stroke-width="0.2">A 50<tspan dx="-0.3">-</tspan><tspan dx="-0.3">3</tspan></text>
<text transform="translate(157 957.8) scale(0.6382 1)" font-family="'Liberation Sans', Arial, sans-serif" font-size="15.3" font-weight="normal" text-anchor="middle" fill="#1c1c1c" stroke="#1c1c1c" stroke-width="0.2">STD</text>
<text transform="translate(233.3 957.8) scale(0.7446 1)" font-family="'Liberation Sans', Arial, sans-serif" font-size="15.3" font-weight="normal" text-anchor="end" fill="#1c1c1c" stroke="#1c1c1c" stroke-width="0.2">15,875</text>
<text transform="translate(258.5 957.8) scale(0.7497 1)" font-family="'Liberation Sans', Arial, sans-serif" font-size="15.3" font-weight="normal" text-anchor="middle" fill="#1c1c1c" stroke="#1c1c1c" stroke-width="0.2">5/8</text>
<text transform="translate(319.6 957.8) scale(0.7446 1)" font-family="'Liberation Sans', Arial, sans-serif" font-size="15.3" font-weight="normal" text-anchor="end" fill="#1c1c1c" stroke="#1c1c1c" stroke-width="0.2">10,16</text>
<text transform="translate(367.2 957.8) scale(0.7446 1)" font-family="'Liberation Sans', Arial, sans-serif" font-size="15.3" font-weight="normal" text-anchor="end" fill="#1c1c1c" stroke="#1c1c1c" stroke-width="0.2">9,40</text>
<text transform="translate(413.8 957.8) scale(0.7446 1)" font-family="'Liberation Sans', Arial, sans-serif" font-size="15.3" font-weight="normal" text-anchor="end" fill="#1c1c1c" stroke="#1c1c1c" stroke-width="0.2">15,09</text>
<text transform="translate(448 957.8) scale(0.7446 1)" font-family="'Liberation Sans', Arial, sans-serif" font-size="15.3" font-weight="normal" text-anchor="middle" fill="#1c1c1c" stroke="#1c1c1c" stroke-width="0.2">2,00</text>
<text transform="translate(515.2 957.8) scale(0.7446 1)" font-family="'Liberation Sans', Arial, sans-serif" font-size="15.3" font-weight="normal" text-anchor="end" fill="#1c1c1c" stroke="#1c1c1c" stroke-width="0.2">18,11</text>
<text transform="translate(569.6 957.8) scale(0.7446 1)" font-family="'Liberation Sans', Arial, sans-serif" font-size="15.3" font-weight="normal" text-anchor="end" fill="#1c1c1c" stroke="#1c1c1c" stroke-width="0.2">5,09</text>
<text transform="translate(616.5 957.8) scale(0.7446 1)" font-family="'Liberation Sans', Arial, sans-serif" font-size="15.3" font-weight="normal" text-anchor="end" fill="#1c1c1c" stroke="#1c1c1c" stroke-width="0.2">56,40</text>
<text transform="translate(663 957.8) scale(0.7446 1)" font-family="'Liberation Sans', Arial, sans-serif" font-size="15.3" font-weight="normal" text-anchor="end" fill="#1c1c1c" stroke="#1c1c1c" stroke-width="0.2">64,50</text>
<text transform="translate(704.7 957.8) scale(0.7446 1)" font-family="'Liberation Sans', Arial, sans-serif" font-size="15.3" font-weight="normal" text-anchor="end" fill="#1c1c1c" stroke="#1c1c1c" stroke-width="0.2">210</text>
<text transform="translate(752.3 957.8) scale(0.7446 1)" font-family="'Liberation Sans', Arial, sans-serif" font-size="15.3" font-weight="normal" text-anchor="end" fill="#1c1c1c" stroke="#1c1c1c" stroke-width="0.2">590</text>
<text transform="translate(803.8 957.8) scale(0.7446 1)" font-family="'Liberation Sans', Arial, sans-serif" font-size="15.3" font-weight="normal" text-anchor="end" fill="#1c1c1c" stroke="#1c1c1c" stroke-width="0.2">65,40</text>
<text transform="translate(856 957.8) scale(0.7446 1)" font-family="'Liberation Sans', Arial, sans-serif" font-size="15.3" font-weight="normal" text-anchor="end" fill="#1c1c1c" stroke="#1c1c1c" stroke-width="0.2">78,00</text>
<text transform="translate(896.7 957.8) scale(0.7446 1)" font-family="'Liberation Sans', Arial, sans-serif" font-size="15.3" font-weight="normal" text-anchor="end" fill="#1c1c1c" stroke="#1c1c1c" stroke-width="0.2">3,00</text>
<text transform="translate(928.2 957.8) scale(0.7446 1)" font-family="'Liberation Sans', Arial, sans-serif" font-size="15.3" font-weight="normal" text-anchor="middle" fill="#1c1c1c" stroke="#1c1c1c" stroke-width="0.2">26</text>
<text transform="translate(975.2 957.8) scale(0.7446 1)" font-family="'Liberation Sans', Arial, sans-serif" font-size="15.3" font-weight="normal" text-anchor="middle" fill="#1c1c1c" stroke="#1c1c1c" stroke-width="0.2">13<tspan dx="-1.0">-</tspan><tspan dx="-1.0">30</tspan></text>
<text transform="translate(50.5 975.8) scale(0.6990 1)" font-family="'Liberation Sans', Arial, sans-serif" font-size="15.3" font-weight="normal" text-anchor="middle" fill="#1c1c1c" stroke="#1c1c1c" stroke-width="0.2">12 A<tspan dx="-0.3">-</tspan><tspan dx="-0.3">3</tspan></text>
<text transform="translate(99.3 975.8) scale(0.7092 1)" font-family="'Liberation Sans', Arial, sans-serif" font-size="15.3" font-weight="normal" text-anchor="middle" fill="#1c1c1c" stroke="#1c1c1c" stroke-width="0.2">A 60<tspan dx="-0.3">-</tspan><tspan dx="-0.3">3</tspan></text>
<text transform="translate(157 975.8) scale(0.6382 1)" font-family="'Liberation Sans', Arial, sans-serif" font-size="15.3" font-weight="normal" text-anchor="middle" fill="#1c1c1c" stroke="#1c1c1c" stroke-width="0.2">STD</text>
<text transform="translate(233.3 975.8) scale(0.7446 1)" font-family="'Liberation Sans', Arial, sans-serif" font-size="15.3" font-weight="normal" text-anchor="end" fill="#1c1c1c" stroke="#1c1c1c" stroke-width="0.2">19,050</text>
<text transform="translate(258.5 975.8) scale(0.7497 1)" font-family="'Liberation Sans', Arial, sans-serif" font-size="15.3" font-weight="normal" text-anchor="middle" fill="#1c1c1c" stroke="#1c1c1c" stroke-width="0.2">3/4</text>
<text transform="translate(319.6 975.8) scale(0.7446 1)" font-family="'Liberation Sans', Arial, sans-serif" font-size="15.3" font-weight="normal" text-anchor="end" fill="#1c1c1c" stroke="#1c1c1c" stroke-width="0.2">11,91</text>
<text transform="translate(367.2 975.8) scale(0.7446 1)" font-family="'Liberation Sans', Arial, sans-serif" font-size="15.3" font-weight="normal" text-anchor="end" fill="#1c1c1c" stroke="#1c1c1c" stroke-width="0.2">12,57</text>
<text transform="translate(413.8 975.8) scale(0.7446 1)" font-family="'Liberation Sans', Arial, sans-serif" font-size="15.3" font-weight="normal" text-anchor="end" fill="#1c1c1c" stroke="#1c1c1c" stroke-width="0.2">18,08</text>
<text transform="translate(448 975.8) scale(0.7446 1)" font-family="'Liberation Sans', Arial, sans-serif" font-size="15.3" font-weight="normal" text-anchor="middle" fill="#1c1c1c" stroke="#1c1c1c" stroke-width="0.2">2,30</text>
<text transform="translate(515.2 975.8) scale(0.7446 1)" font-family="'Liberation Sans', Arial, sans-serif" font-size="15.3" font-weight="normal" text-anchor="end" fill="#1c1c1c" stroke="#1c1c1c" stroke-width="0.2">22,78</text>
<text transform="translate(569.6 975.8) scale(0.7446 1)" font-family="'Liberation Sans', Arial, sans-serif" font-size="15.3" font-weight="normal" text-anchor="end" fill="#1c1c1c" stroke="#1c1c1c" stroke-width="0.2">5,96</text>
<text transform="translate(616.5 975.8) scale(0.7446 1)" font-family="'Liberation Sans', Arial, sans-serif" font-size="15.3" font-weight="normal" text-anchor="end" fill="#1c1c1c" stroke="#1c1c1c" stroke-width="0.2">71,70</text>
<text transform="translate(663 975.8) scale(0.7446 1)" font-family="'Liberation Sans', Arial, sans-serif" font-size="15.3" font-weight="normal" text-anchor="end" fill="#1c1c1c" stroke="#1c1c1c" stroke-width="0.2">80,80</text>
<text transform="translate(704.7 975.8) scale(0.7446 1)" font-family="'Liberation Sans', Arial, sans-serif" font-size="15.3" font-weight="normal" text-anchor="end" fill="#1c1c1c" stroke="#1c1c1c" stroke-width="0.2">315</text>
<text transform="translate(752.3 975.8) scale(0.7446 1)" font-family="'Liberation Sans', Arial, sans-serif" font-size="15.3" font-weight="normal" text-anchor="end" fill="#1c1c1c" stroke="#1c1c1c" stroke-width="0.2">840</text>
<text transform="translate(803.8 975.8) scale(0.7446 1)" font-family="'Liberation Sans', Arial, sans-serif" font-size="15.3" font-weight="normal" text-anchor="end" fill="#1c1c1c" stroke="#1c1c1c" stroke-width="0.2">93,40</text>
<text transform="translate(856 975.8) scale(0.7446 1)" font-family="'Liberation Sans', Arial, sans-serif" font-size="15.3" font-weight="normal" text-anchor="end" fill="#1c1c1c" stroke="#1c1c1c" stroke-width="0.2">111,80</text>
<text transform="translate(896.7 975.8) scale(0.7446 1)" font-family="'Liberation Sans', Arial, sans-serif" font-size="15.3" font-weight="normal" text-anchor="end" fill="#1c1c1c" stroke="#1c1c1c" stroke-width="0.2">4,25</text>
<text transform="translate(928.2 975.8) scale(0.7446 1)" font-family="'Liberation Sans', Arial, sans-serif" font-size="15.3" font-weight="normal" text-anchor="middle" fill="#1c1c1c" stroke="#1c1c1c" stroke-width="0.2">25</text>
<text transform="translate(975.2 975.8) scale(0.7446 1)" font-family="'Liberation Sans', Arial, sans-serif" font-size="15.3" font-weight="normal" text-anchor="middle" fill="#1c1c1c" stroke="#1c1c1c" stroke-width="0.2">13</text>
<text transform="translate(50.5 991.8) scale(0.6990 1)" font-family="'Liberation Sans', Arial, sans-serif" font-size="15.3" font-weight="normal" text-anchor="middle" fill="#1c1c1c" stroke="#1c1c1c" stroke-width="0.2">16 A<tspan dx="-0.3">-</tspan><tspan dx="-0.3">3</tspan></text>
<text transform="translate(99.3 991.8) scale(0.7092 1)" font-family="'Liberation Sans', Arial, sans-serif" font-size="15.3" font-weight="normal" text-anchor="middle" fill="#1c1c1c" stroke="#1c1c1c" stroke-width="0.2">A 80<tspan dx="-0.3">-</tspan><tspan dx="-0.3">3</tspan></text>
<text transform="translate(157 991.8) scale(0.6382 1)" font-family="'Liberation Sans', Arial, sans-serif" font-size="15.3" font-weight="normal" text-anchor="middle" fill="#1c1c1c" stroke="#1c1c1c" stroke-width="0.2">STD</text>
<text transform="translate(233.3 991.8) scale(0.7446 1)" font-family="'Liberation Sans', Arial, sans-serif" font-size="15.3" font-weight="normal" text-anchor="end" fill="#1c1c1c" stroke="#1c1c1c" stroke-width="0.2">25,400</text>
<text transform="translate(258.5 991.8) scale(0.7497 1)" font-family="'Liberation Sans', Arial, sans-serif" font-size="15.3" font-weight="normal" text-anchor="middle" fill="#1c1c1c" stroke="#1c1c1c" stroke-width="0.2">1</text>
<text transform="translate(319.6 991.8) scale(0.7446 1)" font-family="'Liberation Sans', Arial, sans-serif" font-size="15.3" font-weight="normal" text-anchor="end" fill="#1c1c1c" stroke="#1c1c1c" stroke-width="0.2">15,88</text>
<text transform="translate(367.2 991.8) scale(0.7446 1)" font-family="'Liberation Sans', Arial, sans-serif" font-size="15.3" font-weight="normal" text-anchor="end" fill="#1c1c1c" stroke="#1c1c1c" stroke-width="0.2">15,75</text>
<text transform="translate(413.8 991.8) scale(0.7446 1)" font-family="'Liberation Sans', Arial, sans-serif" font-size="15.3" font-weight="normal" text-anchor="end" fill="#1c1c1c" stroke="#1c1c1c" stroke-width="0.2">24,13</text>
<text transform="translate(448 991.8) scale(0.7446 1)" font-family="'Liberation Sans', Arial, sans-serif" font-size="15.3" font-weight="normal" text-anchor="middle" fill="#1c1c1c" stroke="#1c1c1c" stroke-width="0.2">3,15</text>
<text transform="translate(515.2 991.8) scale(0.7446 1)" font-family="'Liberation Sans', Arial, sans-serif" font-size="15.3" font-weight="normal" text-anchor="end" fill="#1c1c1c" stroke="#1c1c1c" stroke-width="0.2">29,29</text>
<text transform="translate(569.6 991.8) scale(0.7446 1)" font-family="'Liberation Sans', Arial, sans-serif" font-size="15.3" font-weight="normal" text-anchor="end" fill="#1c1c1c" stroke="#1c1c1c" stroke-width="0.2">7,94</text>
<text transform="translate(616.5 991.8) scale(0.7446 1)" font-family="'Liberation Sans', Arial, sans-serif" font-size="15.3" font-weight="normal" text-anchor="end" fill="#1c1c1c" stroke="#1c1c1c" stroke-width="0.2">91,70</text>
<text transform="translate(663 991.8) scale(0.7446 1)" font-family="'Liberation Sans', Arial, sans-serif" font-size="15.3" font-weight="normal" text-anchor="end" fill="#1c1c1c" stroke="#1c1c1c" stroke-width="0.2">102,50</text>
<text transform="translate(704.7 991.8) scale(0.7446 1)" font-family="'Liberation Sans', Arial, sans-serif" font-size="15.3" font-weight="normal" text-anchor="end" fill="#1c1c1c" stroke="#1c1c1c" stroke-width="0.2">540</text>
<text transform="translate(752.3 991.8) scale(0.7446 1)" font-family="'Liberation Sans', Arial, sans-serif" font-size="15.3" font-weight="normal" text-anchor="end" fill="#1c1c1c" stroke="#1c1c1c" stroke-width="0.2">1490</text>
<text transform="translate(803.8 991.8) scale(0.7446 1)" font-family="'Liberation Sans', Arial, sans-serif" font-size="15.3" font-weight="normal" text-anchor="end" fill="#1c1c1c" stroke="#1c1c1c" stroke-width="0.2">166,80</text>
<text transform="translate(856 991.8) scale(0.7446 1)" font-family="'Liberation Sans', Arial, sans-serif" font-size="15.3" font-weight="normal" text-anchor="end" fill="#1c1c1c" stroke="#1c1c1c" stroke-width="0.2">194,15</text>
<text transform="translate(896.7 991.8) scale(0.7446 1)" font-family="'Liberation Sans', Arial, sans-serif" font-size="15.3" font-weight="normal" text-anchor="end" fill="#1c1c1c" stroke="#1c1c1c" stroke-width="0.2">7,61</text>
<text transform="translate(928.2 991.8) scale(0.7446 1)" font-family="'Liberation Sans', Arial, sans-serif" font-size="15.3" font-weight="normal" text-anchor="middle" fill="#1c1c1c" stroke="#1c1c1c" stroke-width="0.2">25</text>
<text transform="translate(975.2 991.8) scale(0.7446 1)" font-family="'Liberation Sans', Arial, sans-serif" font-size="15.3" font-weight="normal" text-anchor="middle" fill="#1c1c1c" stroke="#1c1c1c" stroke-width="0.2">13</text>
<text transform="translate(50.5 1006.9)" font-family="'Liberation Sans', Arial, sans-serif" font-size="15.3" font-weight="normal" text-anchor="middle" fill="#1c1c1c" stroke="#1c1c1c" stroke-width="0.2">·</text>
<text transform="translate(99.3 1006.9) scale(0.7092 1)" font-family="'Liberation Sans', Arial, sans-serif" font-size="15.3" font-weight="normal" text-anchor="middle" fill="#1c1c1c" stroke="#1c1c1c" stroke-width="0.2">A 80 H<tspan dx="-0.3">-</tspan><tspan dx="-0.3">3</tspan></text>
<text transform="translate(157 1006.9) scale(0.6382 1)" font-family="'Liberation Sans', Arial, sans-serif" font-size="15.3" font-weight="normal" text-anchor="middle" fill="#1c1c1c" stroke="#1c1c1c" stroke-width="0.2">REINF H</text>
<text transform="translate(233.3 1006.9) scale(0.7446 1)" font-family="'Liberation Sans', Arial, sans-serif" font-size="15.3" font-weight="normal" text-anchor="end" fill="#1c1c1c" stroke="#1c1c1c" stroke-width="0.2">25,400</text>
<text transform="translate(258.5 1006.9) scale(0.7497 1)" font-family="'Liberation Sans', Arial, sans-serif" font-size="15.3" font-weight="normal" text-anchor="middle" fill="#1c1c1c" stroke="#1c1c1c" stroke-width="0.2">1</text>
<text transform="translate(319.6 1006.9) scale(0.7446 1)" font-family="'Liberation Sans', Arial, sans-serif" font-size="15.3" font-weight="normal" text-anchor="end" fill="#1c1c1c" stroke="#1c1c1c" stroke-width="0.2">15,88</text>
<text transform="translate(367.2 1006.9) scale(0.7446 1)" font-family="'Liberation Sans', Arial, sans-serif" font-size="15.3" font-weight="normal" text-anchor="end" fill="#1c1c1c" stroke="#1c1c1c" stroke-width="0.2">15,75</text>
<text transform="translate(413.8 1006.9) scale(0.7446 1)" font-family="'Liberation Sans', Arial, sans-serif" font-size="15.3" font-weight="normal" text-anchor="end" fill="#1c1c1c" stroke="#1c1c1c" stroke-width="0.2">24,13</text>
<text transform="translate(448 1006.9) scale(0.7446 1)" font-family="'Liberation Sans', Arial, sans-serif" font-size="15.3" font-weight="normal" text-anchor="middle" fill="#1c1c1c" stroke="#1c1c1c" stroke-width="0.2">3,80</text>
<text transform="translate(515.2 1006.9) scale(0.7446 1)" font-family="'Liberation Sans', Arial, sans-serif" font-size="15.3" font-weight="normal" text-anchor="end" fill="#1c1c1c" stroke="#1c1c1c" stroke-width="0.2">32,80</text>
<text transform="translate(569.6 1006.9) scale(0.7446 1)" font-family="'Liberation Sans', Arial, sans-serif" font-size="15.3" font-weight="normal" text-anchor="end" fill="#1c1c1c" stroke="#1c1c1c" stroke-width="0.2">7,94</text>
<text transform="translate(616.5 1006.9) scale(0.7446 1)" font-family="'Liberation Sans', Arial, sans-serif" font-size="15.3" font-weight="normal" text-anchor="end" fill="#1c1c1c" stroke="#1c1c1c" stroke-width="0.2">102,30</text>
<text transform="translate(663 1006.9) scale(0.7446 1)" font-family="'Liberation Sans', Arial, sans-serif" font-size="15.3" font-weight="normal" text-anchor="end" fill="#1c1c1c" stroke="#1c1c1c" stroke-width="0.2">113,10</text>
<text transform="translate(704.7 1006.9) scale(0.7446 1)" font-family="'Liberation Sans', Arial, sans-serif" font-size="15.3" font-weight="normal" text-anchor="end" fill="#1c1c1c" stroke="#1c1c1c" stroke-width="0.2">570</text>
<text transform="translate(752.3 1006.9) scale(0.7446 1)" font-family="'Liberation Sans', Arial, sans-serif" font-size="15.3" font-weight="normal" text-anchor="end" fill="#1c1c1c" stroke="#1c1c1c" stroke-width="0.2">1490</text>
<text transform="translate(803.8 1006.9) scale(0.7446 1)" font-family="'Liberation Sans', Arial, sans-serif" font-size="15.3" font-weight="normal" text-anchor="end" fill="#1c1c1c" stroke="#1c1c1c" stroke-width="0.2">166,80</text>
<text transform="translate(856 1006.9) scale(0.7446 1)" font-family="'Liberation Sans', Arial, sans-serif" font-size="15.3" font-weight="normal" text-anchor="end" fill="#1c1c1c" stroke="#1c1c1c" stroke-width="0.2">194,17</text>
<text transform="translate(896.7 1006.9) scale(0.7446 1)" font-family="'Liberation Sans', Arial, sans-serif" font-size="15.3" font-weight="normal" text-anchor="end" fill="#1c1c1c" stroke="#1c1c1c" stroke-width="0.2">8,84</text>
<text transform="translate(928.2 1006.9) scale(0.7446 1)" font-family="'Liberation Sans', Arial, sans-serif" font-size="15.3" font-weight="normal" text-anchor="middle" fill="#1c1c1c" stroke="#1c1c1c" stroke-width="0.2">25</text>
<text transform="translate(975.2 1006.9) scale(0.7446 1)" font-family="'Liberation Sans', Arial, sans-serif" font-size="15.3" font-weight="normal" text-anchor="middle" fill="#1c1c1c" stroke="#1c1c1c" stroke-width="0.2">13</text>
<text transform="translate(50.5 1025.7) scale(0.6990 1)" font-family="'Liberation Sans', Arial, sans-serif" font-size="15.3" font-weight="normal" text-anchor="middle" fill="#1c1c1c" stroke="#1c1c1c" stroke-width="0.2">20 A<tspan dx="-0.3">-</tspan><tspan dx="-0.3">3</tspan></text>
<text transform="translate(99.3 1025.7) scale(0.7092 1)" font-family="'Liberation Sans', Arial, sans-serif" font-size="15.3" font-weight="normal" text-anchor="middle" fill="#1c1c1c" stroke="#1c1c1c" stroke-width="0.2">A 100<tspan dx="-0.3">-</tspan><tspan dx="-0.3">3</tspan></text>
<text transform="translate(157 1025.7) scale(0.6382 1)" font-family="'Liberation Sans', Arial, sans-serif" font-size="15.3" font-weight="normal" text-anchor="middle" fill="#1c1c1c" stroke="#1c1c1c" stroke-width="0.2">STD</text>
<text transform="translate(233.3 1025.7) scale(0.7446 1)" font-family="'Liberation Sans', Arial, sans-serif" font-size="15.3" font-weight="normal" text-anchor="end" fill="#1c1c1c" stroke="#1c1c1c" stroke-width="0.2">31,750</text>
<text transform="translate(258.5 1025.7) scale(0.7497 1)" font-family="'Liberation Sans', Arial, sans-serif" font-size="15.3" font-weight="normal" text-anchor="middle" fill="#1c1c1c" stroke="#1c1c1c" stroke-width="0.2">1 1/4</text>
<text transform="translate(319.6 1025.7) scale(0.7446 1)" font-family="'Liberation Sans', Arial, sans-serif" font-size="15.3" font-weight="normal" text-anchor="end" fill="#1c1c1c" stroke="#1c1c1c" stroke-width="0.2">19,05</text>
<text transform="translate(367.2 1025.7) scale(0.7446 1)" font-family="'Liberation Sans', Arial, sans-serif" font-size="15.3" font-weight="normal" text-anchor="end" fill="#1c1c1c" stroke="#1c1c1c" stroke-width="0.2">18,90</text>
<text transform="translate(413.8 1025.7) scale(0.7446 1)" font-family="'Liberation Sans', Arial, sans-serif" font-size="15.3" font-weight="normal" text-anchor="end" fill="#1c1c1c" stroke="#1c1c1c" stroke-width="0.2">30,18</text>
<text transform="translate(448 1025.7) scale(0.7446 1)" font-family="'Liberation Sans', Arial, sans-serif" font-size="15.3" font-weight="normal" text-anchor="middle" fill="#1c1c1c" stroke="#1c1c1c" stroke-width="0.2">3,80</text>
<text transform="translate(515.2 1025.7) scale(0.7446 1)" font-family="'Liberation Sans', Arial, sans-serif" font-size="15.3" font-weight="normal" text-anchor="end" fill="#1c1c1c" stroke="#1c1c1c" stroke-width="0.2">35,76</text>
<text transform="translate(569.6 1025.7) scale(0.7446 1)" font-family="'Liberation Sans', Arial, sans-serif" font-size="15.3" font-weight="normal" text-anchor="end" fill="#1c1c1c" stroke="#1c1c1c" stroke-width="0.2">9,54</text>
<text transform="translate(616.5 1025.7) scale(0.7446 1)" font-family="'Liberation Sans', Arial, sans-serif" font-size="15.3" font-weight="normal" text-anchor="end" fill="#1c1c1c" stroke="#1c1c1c" stroke-width="0.2">112,50</text>
<text transform="translate(663 1025.7) scale(0.7446 1)" font-family="'Liberation Sans', Arial, sans-serif" font-size="15.3" font-weight="normal" text-anchor="end" fill="#1c1c1c" stroke="#1c1c1c" stroke-width="0.2">124,70</text>
<text transform="translate(704.7 1025.7) scale(0.7446 1)" font-family="'Liberation Sans', Arial, sans-serif" font-size="15.3" font-weight="normal" text-anchor="end" fill="#1c1c1c" stroke="#1c1c1c" stroke-width="0.2">780</text>
<text transform="translate(752.3 1025.7) scale(0.7446 1)" font-family="'Liberation Sans', Arial, sans-serif" font-size="15.3" font-weight="normal" text-anchor="end" fill="#1c1c1c" stroke="#1c1c1c" stroke-width="0.2">2340</text>
<text transform="translate(803.8 1025.7) scale(0.7446 1)" font-family="'Liberation Sans', Arial, sans-serif" font-size="15.3" font-weight="normal" text-anchor="end" fill="#1c1c1c" stroke="#1c1c1c" stroke-width="0.2">260,20</text>
<text transform="translate(856 1025.7) scale(0.7446 1)" font-family="'Liberation Sans', Arial, sans-serif" font-size="15.3" font-weight="normal" text-anchor="end" fill="#1c1c1c" stroke="#1c1c1c" stroke-width="0.2">317,75</text>
<text transform="translate(896.7 1025.7) scale(0.7446 1)" font-family="'Liberation Sans', Arial, sans-serif" font-size="15.3" font-weight="normal" text-anchor="end" fill="#1c1c1c" stroke="#1c1c1c" stroke-width="0.2">11,49</text>
<text transform="translate(928.2 1025.7) scale(0.7446 1)" font-family="'Liberation Sans', Arial, sans-serif" font-size="15.3" font-weight="normal" text-anchor="middle" fill="#1c1c1c" stroke="#1c1c1c" stroke-width="0.2">25</text>
<text transform="translate(975.2 1025.7) scale(0.7446 1)" font-family="'Liberation Sans', Arial, sans-serif" font-size="15.3" font-weight="normal" text-anchor="middle" fill="#1c1c1c" stroke="#1c1c1c" stroke-width="0.2">13</text>
<text transform="translate(50.5 1040.6)" font-family="'Liberation Sans', Arial, sans-serif" font-size="15.3" font-weight="normal" text-anchor="middle" fill="#1c1c1c" stroke="#1c1c1c" stroke-width="0.2">·</text>
<text transform="translate(99.3 1040.6) scale(0.7092 1)" font-family="'Liberation Sans', Arial, sans-serif" font-size="15.3" font-weight="normal" text-anchor="middle" fill="#1c1c1c" stroke="#1c1c1c" stroke-width="0.2">A 100 H<tspan dx="-0.3">-</tspan><tspan dx="-0.3">3</tspan></text>
<text transform="translate(157 1040.6) scale(0.6382 1)" font-family="'Liberation Sans', Arial, sans-serif" font-size="15.3" font-weight="normal" text-anchor="middle" fill="#1c1c1c" stroke="#1c1c1c" stroke-width="0.2">REINF H</text>
<text transform="translate(233.3 1040.6) scale(0.7446 1)" font-family="'Liberation Sans', Arial, sans-serif" font-size="15.3" font-weight="normal" text-anchor="end" fill="#1c1c1c" stroke="#1c1c1c" stroke-width="0.2">31,750</text>
<text transform="translate(258.5 1040.6) scale(0.7497 1)" font-family="'Liberation Sans', Arial, sans-serif" font-size="15.3" font-weight="normal" text-anchor="middle" fill="#1c1c1c" stroke="#1c1c1c" stroke-width="0.2">1 1/4</text>
<text transform="translate(319.6 1040.6) scale(0.7446 1)" font-family="'Liberation Sans', Arial, sans-serif" font-size="15.3" font-weight="normal" text-anchor="end" fill="#1c1c1c" stroke="#1c1c1c" stroke-width="0.2">19,05</text>
<text transform="translate(367.2 1040.6) scale(0.7446 1)" font-family="'Liberation Sans', Arial, sans-serif" font-size="15.3" font-weight="normal" text-anchor="end" fill="#1c1c1c" stroke="#1c1c1c" stroke-width="0.2">18,90</text>
<text transform="translate(413.8 1040.6) scale(0.7446 1)" font-family="'Liberation Sans', Arial, sans-serif" font-size="15.3" font-weight="normal" text-anchor="end" fill="#1c1c1c" stroke="#1c1c1c" stroke-width="0.2">30,18</text>
<text transform="translate(448 1040.6) scale(0.7446 1)" font-family="'Liberation Sans', Arial, sans-serif" font-size="15.3" font-weight="normal" text-anchor="middle" fill="#1c1c1c" stroke="#1c1c1c" stroke-width="0.2">4,60</text>
<text transform="translate(515.2 1040.6) scale(0.7446 1)" font-family="'Liberation Sans', Arial, sans-serif" font-size="15.3" font-weight="normal" text-anchor="end" fill="#1c1c1c" stroke="#1c1c1c" stroke-width="0.2">39,35</text>
<text transform="translate(569.6 1040.6) scale(0.7446 1)" font-family="'Liberation Sans', Arial, sans-serif" font-size="15.3" font-weight="normal" text-anchor="end" fill="#1c1c1c" stroke="#1c1c1c" stroke-width="0.2">9,54</text>
<text transform="translate(616.5 1040.6) scale(0.7446 1)" font-family="'Liberation Sans', Arial, sans-serif" font-size="15.3" font-weight="normal" text-anchor="end" fill="#1c1c1c" stroke="#1c1c1c" stroke-width="0.2">122,50</text>
<text transform="translate(663 1040.6) scale(0.7446 1)" font-family="'Liberation Sans', Arial, sans-serif" font-size="15.3" font-weight="normal" text-anchor="end" fill="#1c1c1c" stroke="#1c1c1c" stroke-width="0.2">134,70</text>
<text transform="translate(704.7 1040.6) scale(0.7446 1)" font-family="'Liberation Sans', Arial, sans-serif" font-size="15.3" font-weight="normal" text-anchor="end" fill="#1c1c1c" stroke="#1c1c1c" stroke-width="0.2">825</text>
<text transform="translate(752.3 1040.6) scale(0.7446 1)" font-family="'Liberation Sans', Arial, sans-serif" font-size="15.3" font-weight="normal" text-anchor="end" fill="#1c1c1c" stroke="#1c1c1c" stroke-width="0.2">2340</text>
<text transform="translate(803.8 1040.6) scale(0.7446 1)" font-family="'Liberation Sans', Arial, sans-serif" font-size="15.3" font-weight="normal" text-anchor="end" fill="#1c1c1c" stroke="#1c1c1c" stroke-width="0.2">260,61</text>
<text transform="translate(856 1040.6) scale(0.7446 1)" font-family="'Liberation Sans', Arial, sans-serif" font-size="15.3" font-weight="normal" text-anchor="end" fill="#1c1c1c" stroke="#1c1c1c" stroke-width="0.2">317,73</text>
<text transform="translate(896.7 1040.6) scale(0.7446 1)" font-family="'Liberation Sans', Arial, sans-serif" font-size="15.3" font-weight="normal" text-anchor="end" fill="#1c1c1c" stroke="#1c1c1c" stroke-width="0.2">12,93</text>
<text transform="translate(928.2 1040.6) scale(0.7446 1)" font-family="'Liberation Sans', Arial, sans-serif" font-size="15.3" font-weight="normal" text-anchor="middle" fill="#1c1c1c" stroke="#1c1c1c" stroke-width="0.2">25</text>
<text transform="translate(975.2 1040.6) scale(0.7446 1)" font-family="'Liberation Sans', Arial, sans-serif" font-size="15.3" font-weight="normal" text-anchor="middle" fill="#1c1c1c" stroke="#1c1c1c" stroke-width="0.2">13</text>
<text transform="translate(50.5 1056.6) scale(0.6990 1)" font-family="'Liberation Sans', Arial, sans-serif" font-size="15.3" font-weight="normal" text-anchor="middle" fill="#1c1c1c" stroke="#1c1c1c" stroke-width="0.2">24 A<tspan dx="-0.3">-</tspan><tspan dx="-0.3">3</tspan></text>
<text transform="translate(99.3 1056.6) scale(0.7092 1)" font-family="'Liberation Sans', Arial, sans-serif" font-size="15.3" font-weight="normal" text-anchor="middle" fill="#1c1c1c" stroke="#1c1c1c" stroke-width="0.2">A 120<tspan dx="-0.3">-</tspan><tspan dx="-0.3">3</tspan></text>
<text transform="translate(157 1056.6) scale(0.6382 1)" font-family="'Liberation Sans', Arial, sans-serif" font-size="15.3" font-weight="normal" text-anchor="middle" fill="#1c1c1c" stroke="#1c1c1c" stroke-width="0.2">STD</text>
<text transform="translate(233.3 1056.6) scale(0.7446 1)" font-family="'Liberation Sans', Arial, sans-serif" font-size="15.3" font-weight="normal" text-anchor="end" fill="#1c1c1c" stroke="#1c1c1c" stroke-width="0.2">38,100</text>
<text transform="translate(258.5 1056.6) scale(0.7497 1)" font-family="'Liberation Sans', Arial, sans-serif" font-size="15.3" font-weight="normal" text-anchor="middle" fill="#1c1c1c" stroke="#1c1c1c" stroke-width="0.2">1 1/2</text>
<text transform="translate(319.6 1056.6) scale(0.7446 1)" font-family="'Liberation Sans', Arial, sans-serif" font-size="15.3" font-weight="normal" text-anchor="end" fill="#1c1c1c" stroke="#1c1c1c" stroke-width="0.2">22,23</text>
<text transform="translate(367.2 1056.6) scale(0.7446 1)" font-family="'Liberation Sans', Arial, sans-serif" font-size="15.3" font-weight="normal" text-anchor="end" fill="#1c1c1c" stroke="#1c1c1c" stroke-width="0.2">25,22</text>
<text transform="translate(413.8 1056.6) scale(0.7446 1)" font-family="'Liberation Sans', Arial, sans-serif" font-size="15.3" font-weight="normal" text-anchor="end" fill="#1c1c1c" stroke="#1c1c1c" stroke-width="0.2">36,20</text>
<text transform="translate(448 1056.6) scale(0.7446 1)" font-family="'Liberation Sans', Arial, sans-serif" font-size="15.3" font-weight="normal" text-anchor="middle" fill="#1c1c1c" stroke="#1c1c1c" stroke-width="0.2">4,60</text>
<text transform="translate(515.2 1056.6) scale(0.7446 1)" font-family="'Liberation Sans', Arial, sans-serif" font-size="15.3" font-weight="normal" text-anchor="end" fill="#1c1c1c" stroke="#1c1c1c" stroke-width="0.2">45,44</text>
<text transform="translate(569.6 1056.6) scale(0.7446 1)" font-family="'Liberation Sans', Arial, sans-serif" font-size="15.3" font-weight="normal" text-anchor="end" fill="#1c1c1c" stroke="#1c1c1c" stroke-width="0.2">11,11</text>
<text transform="translate(616.5 1056.6) scale(0.7446 1)" font-family="'Liberation Sans', Arial, sans-serif" font-size="15.3" font-weight="normal" text-anchor="end" fill="#1c1c1c" stroke="#1c1c1c" stroke-width="0.2">141,70</text>
<text transform="translate(663 1056.6) scale(0.7446 1)" font-family="'Liberation Sans', Arial, sans-serif" font-size="15.3" font-weight="normal" text-anchor="end" fill="#1c1c1c" stroke="#1c1c1c" stroke-width="0.2">154,90</text>
<text transform="translate(704.7 1056.6) scale(0.7446 1)" font-family="'Liberation Sans', Arial, sans-serif" font-size="15.3" font-weight="normal" text-anchor="end" fill="#1c1c1c" stroke="#1c1c1c" stroke-width="0.2">1170</text>
<text transform="translate(752.3 1056.6) scale(0.7446 1)" font-family="'Liberation Sans', Arial, sans-serif" font-size="15.3" font-weight="normal" text-anchor="end" fill="#1c1c1c" stroke="#1c1c1c" stroke-width="0.2">3340</text>
<text transform="translate(803.8 1056.6) scale(0.7446 1)" font-family="'Liberation Sans', Arial, sans-serif" font-size="15.3" font-weight="normal" text-anchor="end" fill="#1c1c1c" stroke="#1c1c1c" stroke-width="0.2">373,70</text>
<text transform="translate(856 1056.6) scale(0.7446 1)" font-family="'Liberation Sans', Arial, sans-serif" font-size="15.3" font-weight="normal" text-anchor="end" fill="#1c1c1c" stroke="#1c1c1c" stroke-width="0.2">453,10</text>
<text transform="translate(896.7 1056.6) scale(0.7446 1)" font-family="'Liberation Sans', Arial, sans-serif" font-size="15.3" font-weight="normal" text-anchor="end" fill="#1c1c1c" stroke="#1c1c1c" stroke-width="0.2">16,79</text>
<text transform="translate(928.2 1056.6) scale(0.7446 1)" font-family="'Liberation Sans', Arial, sans-serif" font-size="15.3" font-weight="normal" text-anchor="middle" fill="#1c1c1c" stroke="#1c1c1c" stroke-width="0.2">25</text>
<text transform="translate(975.2 1056.6) scale(0.7446 1)" font-family="'Liberation Sans', Arial, sans-serif" font-size="15.3" font-weight="normal" text-anchor="middle" fill="#1c1c1c" stroke="#1c1c1c" stroke-width="0.2">13</text>
<text transform="translate(50.5 1074.6)" font-family="'Liberation Sans', Arial, sans-serif" font-size="15.3" font-weight="normal" text-anchor="middle" fill="#1c1c1c" stroke="#1c1c1c" stroke-width="0.2">·</text>
<text transform="translate(99.3 1074.6) scale(0.7092 1)" font-family="'Liberation Sans', Arial, sans-serif" font-size="15.3" font-weight="normal" text-anchor="middle" fill="#1c1c1c" stroke="#1c1c1c" stroke-width="0.2">A 120 H<tspan dx="-0.3">-</tspan><tspan dx="-0.3">3</tspan></text>
<text transform="translate(157 1074.6) scale(0.6382 1)" font-family="'Liberation Sans', Arial, sans-serif" font-size="15.3" font-weight="normal" text-anchor="middle" fill="#1c1c1c" stroke="#1c1c1c" stroke-width="0.2">REINF H</text>
<text transform="translate(233.3 1074.6) scale(0.7446 1)" font-family="'Liberation Sans', Arial, sans-serif" font-size="15.3" font-weight="normal" text-anchor="end" fill="#1c1c1c" stroke="#1c1c1c" stroke-width="0.2">38,100</text>
<text transform="translate(258.5 1074.6) scale(0.7497 1)" font-family="'Liberation Sans', Arial, sans-serif" font-size="15.3" font-weight="normal" text-anchor="middle" fill="#1c1c1c" stroke="#1c1c1c" stroke-width="0.2">1 1/2</text>
<text transform="translate(319.6 1074.6) scale(0.7446 1)" font-family="'Liberation Sans', Arial, sans-serif" font-size="15.3" font-weight="normal" text-anchor="end" fill="#1c1c1c" stroke="#1c1c1c" stroke-width="0.2">22,23</text>
<text transform="translate(367.2 1074.6) scale(0.7446 1)" font-family="'Liberation Sans', Arial, sans-serif" font-size="15.3" font-weight="normal" text-anchor="end" fill="#1c1c1c" stroke="#1c1c1c" stroke-width="0.2">25,22</text>
<text transform="translate(413.8 1074.6) scale(0.7446 1)" font-family="'Liberation Sans', Arial, sans-serif" font-size="15.3" font-weight="normal" text-anchor="end" fill="#1c1c1c" stroke="#1c1c1c" stroke-width="0.2">36,20</text>
<text transform="translate(448 1074.6) scale(0.7446 1)" font-family="'Liberation Sans', Arial, sans-serif" font-size="15.3" font-weight="normal" text-anchor="middle" fill="#1c1c1c" stroke="#1c1c1c" stroke-width="0.2">5,45</text>
<text transform="translate(515.2 1074.6) scale(0.7446 1)" font-family="'Liberation Sans', Arial, sans-serif" font-size="15.3" font-weight="normal" text-anchor="end" fill="#1c1c1c" stroke="#1c1c1c" stroke-width="0.2">49,20</text>
<text transform="translate(569.6 1074.6) scale(0.7446 1)" font-family="'Liberation Sans', Arial, sans-serif" font-size="15.3" font-weight="normal" text-anchor="end" fill="#1c1c1c" stroke="#1c1c1c" stroke-width="0.2">11,11</text>
<text transform="translate(616.5 1074.6) scale(0.7446 1)" font-family="'Liberation Sans', Arial, sans-serif" font-size="15.3" font-weight="normal" text-anchor="end" fill="#1c1c1c" stroke="#1c1c1c" stroke-width="0.2">152,40</text>
<text transform="translate(663 1074.6) scale(0.7446 1)" font-family="'Liberation Sans', Arial, sans-serif" font-size="15.3" font-weight="normal" text-anchor="end" fill="#1c1c1c" stroke="#1c1c1c" stroke-width="0.2">165,50</text>
<text transform="translate(704.7 1074.6) scale(0.7446 1)" font-family="'Liberation Sans', Arial, sans-serif" font-size="15.3" font-weight="normal" text-anchor="end" fill="#1c1c1c" stroke="#1c1c1c" stroke-width="0.2">1230</text>
<text transform="translate(752.3 1074.6) scale(0.7446 1)" font-family="'Liberation Sans', Arial, sans-serif" font-size="15.3" font-weight="normal" text-anchor="end" fill="#1c1c1c" stroke="#1c1c1c" stroke-width="0.2">3340</text>
<text transform="translate(803.8 1074.6) scale(0.7446 1)" font-family="'Liberation Sans', Arial, sans-serif" font-size="15.3" font-weight="normal" text-anchor="end" fill="#1c1c1c" stroke="#1c1c1c" stroke-width="0.2">375,30</text>
<text transform="translate(856 1074.6) scale(0.7446 1)" font-family="'Liberation Sans', Arial, sans-serif" font-size="15.3" font-weight="normal" text-anchor="end" fill="#1c1c1c" stroke="#1c1c1c" stroke-width="0.2">453,00</text>
<text transform="translate(896.7 1074.6) scale(0.7446 1)" font-family="'Liberation Sans', Arial, sans-serif" font-size="15.3" font-weight="normal" text-anchor="end" fill="#1c1c1c" stroke="#1c1c1c" stroke-width="0.2">19,26</text>
<text transform="translate(928.2 1074.6) scale(0.7446 1)" font-family="'Liberation Sans', Arial, sans-serif" font-size="15.3" font-weight="normal" text-anchor="middle" fill="#1c1c1c" stroke="#1c1c1c" stroke-width="0.2">25</text>
<text transform="translate(975.2 1074.6) scale(0.7446 1)" font-family="'Liberation Sans', Arial, sans-serif" font-size="15.3" font-weight="normal" text-anchor="middle" fill="#1c1c1c" stroke="#1c1c1c" stroke-width="0.2">13</text>
<text transform="translate(50.5 1089.7) scale(0.6990 1)" font-family="'Liberation Sans', Arial, sans-serif" font-size="15.3" font-weight="normal" text-anchor="middle" fill="#1c1c1c" stroke="#1c1c1c" stroke-width="0.2">28 A<tspan dx="-0.3">-</tspan><tspan dx="-0.3">3</tspan></text>
<text transform="translate(99.3 1089.7) scale(0.7092 1)" font-family="'Liberation Sans', Arial, sans-serif" font-size="15.3" font-weight="normal" text-anchor="middle" fill="#1c1c1c" stroke="#1c1c1c" stroke-width="0.2">A 140<tspan dx="-0.3">-</tspan><tspan dx="-0.3">3</tspan></text>
<text transform="translate(157 1089.7) scale(0.6382 1)" font-family="'Liberation Sans', Arial, sans-serif" font-size="15.3" font-weight="normal" text-anchor="middle" fill="#1c1c1c" stroke="#1c1c1c" stroke-width="0.2">STD</text>
<text transform="translate(233.3 1089.7) scale(0.7446 1)" font-family="'Liberation Sans', Arial, sans-serif" font-size="15.3" font-weight="normal" text-anchor="end" fill="#1c1c1c" stroke="#1c1c1c" stroke-width="0.2">44,450</text>
<text transform="translate(258.5 1089.7) scale(0.7497 1)" font-family="'Liberation Sans', Arial, sans-serif" font-size="15.3" font-weight="normal" text-anchor="middle" fill="#1c1c1c" stroke="#1c1c1c" stroke-width="0.2">1 3/4</text>
<text transform="translate(319.6 1089.7) scale(0.7446 1)" font-family="'Liberation Sans', Arial, sans-serif" font-size="15.3" font-weight="normal" text-anchor="end" fill="#1c1c1c" stroke="#1c1c1c" stroke-width="0.2">25,40</text>
<text transform="translate(367.2 1089.7) scale(0.7446 1)" font-family="'Liberation Sans', Arial, sans-serif" font-size="15.3" font-weight="normal" text-anchor="end" fill="#1c1c1c" stroke="#1c1c1c" stroke-width="0.2">25,22</text>
<text transform="translate(413.8 1089.7) scale(0.7446 1)" font-family="'Liberation Sans', Arial, sans-serif" font-size="15.3" font-weight="normal" text-anchor="end" fill="#1c1c1c" stroke="#1c1c1c" stroke-width="0.2">42,24</text>
<text transform="translate(448 1089.7) scale(0.7446 1)" font-family="'Liberation Sans', Arial, sans-serif" font-size="15.3" font-weight="normal" text-anchor="middle" fill="#1c1c1c" stroke="#1c1c1c" stroke-width="0.2">5,45</text>
<text transform="translate(515.2 1089.7) scale(0.7446 1)" font-family="'Liberation Sans', Arial, sans-serif" font-size="15.3" font-weight="normal" text-anchor="end" fill="#1c1c1c" stroke="#1c1c1c" stroke-width="0.2">48,87</text>
<text transform="translate(569.6 1089.7) scale(0.7446 1)" font-family="'Liberation Sans', Arial, sans-serif" font-size="15.3" font-weight="normal" text-anchor="end" fill="#1c1c1c" stroke="#1c1c1c" stroke-width="0.2">12,71</text>
<text transform="translate(616.5 1089.7) scale(0.7446 1)" font-family="'Liberation Sans', Arial, sans-serif" font-size="15.3" font-weight="normal" text-anchor="end" fill="#1c1c1c" stroke="#1c1c1c" stroke-width="0.2">152,40</text>
<text transform="translate(663 1089.7) scale(0.7446 1)" font-family="'Liberation Sans', Arial, sans-serif" font-size="15.3" font-weight="normal" text-anchor="end" fill="#1c1c1c" stroke="#1c1c1c" stroke-width="0.2">167,20</text>
<text transform="translate(704.7 1089.7) scale(0.7446 1)" font-family="'Liberation Sans', Arial, sans-serif" font-size="15.3" font-weight="normal" text-anchor="end" fill="#1c1c1c" stroke="#1c1c1c" stroke-width="0.2">1410</text>
<text transform="translate(752.3 1089.7) scale(0.7446 1)" font-family="'Liberation Sans', Arial, sans-serif" font-size="15.3" font-weight="normal" text-anchor="end" fill="#1c1c1c" stroke="#1c1c1c" stroke-width="0.2">4540</text>
<text transform="translate(803.8 1089.7) scale(0.7446 1)" font-family="'Liberation Sans', Arial, sans-serif" font-size="15.3" font-weight="normal" text-anchor="end" fill="#1c1c1c" stroke="#1c1c1c" stroke-width="0.2">507,10</text>
<text transform="translate(856 1089.7) scale(0.7446 1)" font-family="'Liberation Sans', Arial, sans-serif" font-size="15.3" font-weight="normal" text-anchor="end" fill="#1c1c1c" stroke="#1c1c1c" stroke-width="0.2">611,90</text>
<text transform="translate(896.7 1089.7) scale(0.7446 1)" font-family="'Liberation Sans', Arial, sans-serif" font-size="15.3" font-weight="normal" text-anchor="end" fill="#1c1c1c" stroke="#1c1c1c" stroke-width="0.2">22,04</text>
<text transform="translate(928.2 1089.7) scale(0.7446 1)" font-family="'Liberation Sans', Arial, sans-serif" font-size="15.3" font-weight="normal" text-anchor="middle" fill="#1c1c1c" stroke="#1c1c1c" stroke-width="0.2">25</text>
<text transform="translate(975.2 1089.7) scale(0.7446 1)" font-family="'Liberation Sans', Arial, sans-serif" font-size="15.3" font-weight="normal" text-anchor="middle" fill="#1c1c1c" stroke="#1c1c1c" stroke-width="0.2">13</text>
<text transform="translate(50.5 1105.7)" font-family="'Liberation Sans', Arial, sans-serif" font-size="15.3" font-weight="normal" text-anchor="middle" fill="#1c1c1c" stroke="#1c1c1c" stroke-width="0.2">·</text>
<text transform="translate(99.3 1105.7) scale(0.7092 1)" font-family="'Liberation Sans', Arial, sans-serif" font-size="15.3" font-weight="normal" text-anchor="middle" fill="#1c1c1c" stroke="#1c1c1c" stroke-width="0.2">A 140 H<tspan dx="-0.3">-</tspan><tspan dx="-0.3">3</tspan></text>
<text transform="translate(157 1105.7) scale(0.6382 1)" font-family="'Liberation Sans', Arial, sans-serif" font-size="15.3" font-weight="normal" text-anchor="middle" fill="#1c1c1c" stroke="#1c1c1c" stroke-width="0.2">REINF H</text>
<text transform="translate(233.3 1105.7) scale(0.7446 1)" font-family="'Liberation Sans', Arial, sans-serif" font-size="15.3" font-weight="normal" text-anchor="end" fill="#1c1c1c" stroke="#1c1c1c" stroke-width="0.2">44,450</text>
<text transform="translate(258.5 1105.7) scale(0.7497 1)" font-family="'Liberation Sans', Arial, sans-serif" font-size="15.3" font-weight="normal" text-anchor="middle" fill="#1c1c1c" stroke="#1c1c1c" stroke-width="0.2">1 3/4</text>
<text transform="translate(319.6 1105.7) scale(0.7446 1)" font-family="'Liberation Sans', Arial, sans-serif" font-size="15.3" font-weight="normal" text-anchor="end" fill="#1c1c1c" stroke="#1c1c1c" stroke-width="0.2">25,40</text>
<text transform="translate(367.2 1105.7) scale(0.7446 1)" font-family="'Liberation Sans', Arial, sans-serif" font-size="15.3" font-weight="normal" text-anchor="end" fill="#1c1c1c" stroke="#1c1c1c" stroke-width="0.2">25,22</text>
<text transform="translate(413.8 1105.7) scale(0.7446 1)" font-family="'Liberation Sans', Arial, sans-serif" font-size="15.3" font-weight="normal" text-anchor="end" fill="#1c1c1c" stroke="#1c1c1c" stroke-width="0.2">42,24</text>
<text transform="translate(448 1105.7) scale(0.7446 1)" font-family="'Liberation Sans', Arial, sans-serif" font-size="15.3" font-weight="normal" text-anchor="middle" fill="#1c1c1c" stroke="#1c1c1c" stroke-width="0.2">6,15</text>
<text transform="translate(515.2 1105.7) scale(0.7446 1)" font-family="'Liberation Sans', Arial, sans-serif" font-size="15.3" font-weight="normal" text-anchor="end" fill="#1c1c1c" stroke="#1c1c1c" stroke-width="0.2">52,60</text>
<text transform="translate(569.6 1105.7) scale(0.7446 1)" font-family="'Liberation Sans', Arial, sans-serif" font-size="15.3" font-weight="normal" text-anchor="end" fill="#1c1c1c" stroke="#1c1c1c" stroke-width="0.2">12,71</text>
<text transform="translate(616.5 1105.7) scale(0.7446 1)" font-family="'Liberation Sans', Arial, sans-serif" font-size="15.3" font-weight="normal" text-anchor="end" fill="#1c1c1c" stroke="#1c1c1c" stroke-width="0.2">163,00</text>
<text transform="translate(663 1105.7) scale(0.7446 1)" font-family="'Liberation Sans', Arial, sans-serif" font-size="15.3" font-weight="normal" text-anchor="end" fill="#1c1c1c" stroke="#1c1c1c" stroke-width="0.2">177,80</text>
<text transform="translate(704.7 1105.7) scale(0.7446 1)" font-family="'Liberation Sans', Arial, sans-serif" font-size="15.3" font-weight="normal" text-anchor="end" fill="#1c1c1c" stroke="#1c1c1c" stroke-width="0.2">1485</text>
<text transform="translate(752.3 1105.7) scale(0.7446 1)" font-family="'Liberation Sans', Arial, sans-serif" font-size="15.3" font-weight="normal" text-anchor="end" fill="#1c1c1c" stroke="#1c1c1c" stroke-width="0.2">4540</text>
<text transform="translate(803.8 1105.7) scale(0.7446 1)" font-family="'Liberation Sans', Arial, sans-serif" font-size="15.3" font-weight="normal" text-anchor="end" fill="#1c1c1c" stroke="#1c1c1c" stroke-width="0.2">510,81</text>
<text transform="translate(856 1105.7) scale(0.7446 1)" font-family="'Liberation Sans', Arial, sans-serif" font-size="15.3" font-weight="normal" text-anchor="end" fill="#1c1c1c" stroke="#1c1c1c" stroke-width="0.2">612,00</text>
<text transform="translate(896.7 1105.7) scale(0.7446 1)" font-family="'Liberation Sans', Arial, sans-serif" font-size="15.3" font-weight="normal" text-anchor="end" fill="#1c1c1c" stroke="#1c1c1c" stroke-width="0.2">24,40</text>
<text transform="translate(928.2 1105.7) scale(0.7446 1)" font-family="'Liberation Sans', Arial, sans-serif" font-size="15.3" font-weight="normal" text-anchor="middle" fill="#1c1c1c" stroke="#1c1c1c" stroke-width="0.2">25</text>
<text transform="translate(975.2 1105.7) scale(0.7446 1)" font-family="'Liberation Sans', Arial, sans-serif" font-size="15.3" font-weight="normal" text-anchor="middle" fill="#1c1c1c" stroke="#1c1c1c" stroke-width="0.2">13</text>
<text transform="translate(50.5 1121.6) scale(0.6990 1)" font-family="'Liberation Sans', Arial, sans-serif" font-size="15.3" font-weight="normal" text-anchor="middle" fill="#1c1c1c" stroke="#1c1c1c" stroke-width="0.2">32 A<tspan dx="-0.3">-</tspan><tspan dx="-0.3">3</tspan></text>
<text transform="translate(99.3 1121.6) scale(0.7092 1)" font-family="'Liberation Sans', Arial, sans-serif" font-size="15.3" font-weight="normal" text-anchor="middle" fill="#1c1c1c" stroke="#1c1c1c" stroke-width="0.2">A 160<tspan dx="-0.3">-</tspan><tspan dx="-0.3">3</tspan></text>
<text transform="translate(157 1121.6) scale(0.6382 1)" font-family="'Liberation Sans', Arial, sans-serif" font-size="15.3" font-weight="normal" text-anchor="middle" fill="#1c1c1c" stroke="#1c1c1c" stroke-width="0.2">STD</text>
<text transform="translate(233.3 1121.6) scale(0.7446 1)" font-family="'Liberation Sans', Arial, sans-serif" font-size="15.3" font-weight="normal" text-anchor="end" fill="#1c1c1c" stroke="#1c1c1c" stroke-width="0.2">50,800</text>
<text transform="translate(258.5 1121.6) scale(0.7497 1)" font-family="'Liberation Sans', Arial, sans-serif" font-size="15.3" font-weight="normal" text-anchor="middle" fill="#1c1c1c" stroke="#1c1c1c" stroke-width="0.2">2</text>
<text transform="translate(319.6 1121.6) scale(0.7446 1)" font-family="'Liberation Sans', Arial, sans-serif" font-size="15.3" font-weight="normal" text-anchor="end" fill="#1c1c1c" stroke="#1c1c1c" stroke-width="0.2">28,58</text>
<text transform="translate(367.2 1121.6) scale(0.7446 1)" font-family="'Liberation Sans', Arial, sans-serif" font-size="15.3" font-weight="normal" text-anchor="end" fill="#1c1c1c" stroke="#1c1c1c" stroke-width="0.2">31,55</text>
<text transform="translate(413.8 1121.6) scale(0.7446 1)" font-family="'Liberation Sans', Arial, sans-serif" font-size="15.3" font-weight="normal" text-anchor="end" fill="#1c1c1c" stroke="#1c1c1c" stroke-width="0.2">48,26</text>
<text transform="translate(448 1121.6) scale(0.7446 1)" font-family="'Liberation Sans', Arial, sans-serif" font-size="15.3" font-weight="normal" text-anchor="middle" fill="#1c1c1c" stroke="#1c1c1c" stroke-width="0.2">6,15</text>
<text transform="translate(515.2 1121.6) scale(0.7446 1)" font-family="'Liberation Sans', Arial, sans-serif" font-size="15.3" font-weight="normal" text-anchor="end" fill="#1c1c1c" stroke="#1c1c1c" stroke-width="0.2">58,55</text>
<text transform="translate(569.6 1121.6) scale(0.7446 1)" font-family="'Liberation Sans', Arial, sans-serif" font-size="15.3" font-weight="normal" text-anchor="end" fill="#1c1c1c" stroke="#1c1c1c" stroke-width="0.2">14,29</text>
<text transform="translate(616.5 1121.6) scale(0.7446 1)" font-family="'Liberation Sans', Arial, sans-serif" font-size="15.3" font-weight="normal" text-anchor="end" fill="#1c1c1c" stroke="#1c1c1c" stroke-width="0.2">182,50</text>
<text transform="translate(663 1121.6) scale(0.7446 1)" font-family="'Liberation Sans', Arial, sans-serif" font-size="15.3" font-weight="normal" text-anchor="end" fill="#1c1c1c" stroke="#1c1c1c" stroke-width="0.2">198,30</text>
<text transform="translate(704.7 1121.6) scale(0.7446 1)" font-family="'Liberation Sans', Arial, sans-serif" font-size="15.3" font-weight="normal" text-anchor="end" fill="#1c1c1c" stroke="#1c1c1c" stroke-width="0.2">1935</text>
<text transform="translate(752.3 1121.6) scale(0.7446 1)" font-family="'Liberation Sans', Arial, sans-serif" font-size="15.3" font-weight="normal" text-anchor="end" fill="#1c1c1c" stroke="#1c1c1c" stroke-width="0.2">6010</text>
<text transform="translate(803.8 1121.6) scale(0.7446 1)" font-family="'Liberation Sans', Arial, sans-serif" font-size="15.3" font-weight="normal" text-anchor="end" fill="#1c1c1c" stroke="#1c1c1c" stroke-width="0.2">667,20</text>
<text transform="translate(856 1121.6) scale(0.7446 1)" font-family="'Liberation Sans', Arial, sans-serif" font-size="15.3" font-weight="normal" text-anchor="end" fill="#1c1c1c" stroke="#1c1c1c" stroke-width="0.2">770,80</text>
<text transform="translate(896.7 1121.6) scale(0.7446 1)" font-family="'Liberation Sans', Arial, sans-serif" font-size="15.3" font-weight="normal" text-anchor="end" fill="#1c1c1c" stroke="#1c1c1c" stroke-width="0.2">28,88</text>
<text transform="translate(928.2 1121.6) scale(0.7446 1)" font-family="'Liberation Sans', Arial, sans-serif" font-size="15.3" font-weight="normal" text-anchor="middle" fill="#1c1c1c" stroke="#1c1c1c" stroke-width="0.2">25</text>
<text transform="translate(975.2 1121.6) scale(0.7446 1)" font-family="'Liberation Sans', Arial, sans-serif" font-size="15.3" font-weight="normal" text-anchor="middle" fill="#1c1c1c" stroke="#1c1c1c" stroke-width="0.2">13</text>
<text transform="translate(50.5 1137.6)" font-family="'Liberation Sans', Arial, sans-serif" font-size="15.3" font-weight="normal" text-anchor="middle" fill="#1c1c1c" stroke="#1c1c1c" stroke-width="0.2">·</text>
<text transform="translate(99.3 1137.6) scale(0.7092 1)" font-family="'Liberation Sans', Arial, sans-serif" font-size="15.3" font-weight="normal" text-anchor="middle" fill="#1c1c1c" stroke="#1c1c1c" stroke-width="0.2">A 160 H<tspan dx="-0.3">-</tspan><tspan dx="-0.3">3</tspan></text>
<text transform="translate(157 1137.6) scale(0.6382 1)" font-family="'Liberation Sans', Arial, sans-serif" font-size="15.3" font-weight="normal" text-anchor="middle" fill="#1c1c1c" stroke="#1c1c1c" stroke-width="0.2">REINF H</text>
<text transform="translate(233.3 1137.6) scale(0.7446 1)" font-family="'Liberation Sans', Arial, sans-serif" font-size="15.3" font-weight="normal" text-anchor="end" fill="#1c1c1c" stroke="#1c1c1c" stroke-width="0.2">50,800</text>
<text transform="translate(258.5 1137.6) scale(0.7497 1)" font-family="'Liberation Sans', Arial, sans-serif" font-size="15.3" font-weight="normal" text-anchor="middle" fill="#1c1c1c" stroke="#1c1c1c" stroke-width="0.2">2</text>
<text transform="translate(319.6 1137.6) scale(0.7446 1)" font-family="'Liberation Sans', Arial, sans-serif" font-size="15.3" font-weight="normal" text-anchor="end" fill="#1c1c1c" stroke="#1c1c1c" stroke-width="0.2">28,58</text>
<text transform="translate(367.2 1137.6) scale(0.7446 1)" font-family="'Liberation Sans', Arial, sans-serif" font-size="15.3" font-weight="normal" text-anchor="end" fill="#1c1c1c" stroke="#1c1c1c" stroke-width="0.2">31,55</text>
<text transform="translate(413.8 1137.6) scale(0.7446 1)" font-family="'Liberation Sans', Arial, sans-serif" font-size="15.3" font-weight="normal" text-anchor="end" fill="#1c1c1c" stroke="#1c1c1c" stroke-width="0.2">48,26</text>
<text transform="translate(448 1137.6) scale(0.7446 1)" font-family="'Liberation Sans', Arial, sans-serif" font-size="15.3" font-weight="normal" text-anchor="middle" fill="#1c1c1c" stroke="#1c1c1c" stroke-width="0.2">7,00</text>
<text transform="translate(515.2 1137.6) scale(0.7446 1)" font-family="'Liberation Sans', Arial, sans-serif" font-size="15.3" font-weight="normal" text-anchor="end" fill="#1c1c1c" stroke="#1c1c1c" stroke-width="0.2">61,80</text>
<text transform="translate(569.6 1137.6) scale(0.7446 1)" font-family="'Liberation Sans', Arial, sans-serif" font-size="15.3" font-weight="normal" text-anchor="end" fill="#1c1c1c" stroke="#1c1c1c" stroke-width="0.2">14,29</text>
<text transform="translate(616.5 1137.6) scale(0.7446 1)" font-family="'Liberation Sans', Arial, sans-serif" font-size="15.3" font-weight="normal" text-anchor="end" fill="#1c1c1c" stroke="#1c1c1c" stroke-width="0.2">192,00</text>
<text transform="translate(663 1137.6) scale(0.7446 1)" font-family="'Liberation Sans', Arial, sans-serif" font-size="15.3" font-weight="normal" text-anchor="end" fill="#1c1c1c" stroke="#1c1c1c" stroke-width="0.2">207,80</text>
<text transform="translate(704.7 1137.6) scale(0.7446 1)" font-family="'Liberation Sans', Arial, sans-serif" font-size="15.3" font-weight="normal" text-anchor="end" fill="#1c1c1c" stroke="#1c1c1c" stroke-width="0.2">1995</text>
<text transform="translate(752.3 1137.6) scale(0.7446 1)" font-family="'Liberation Sans', Arial, sans-serif" font-size="15.3" font-weight="normal" text-anchor="end" fill="#1c1c1c" stroke="#1c1c1c" stroke-width="0.2">6010</text>
<text transform="translate(803.8 1137.6) scale(0.7446 1)" font-family="'Liberation Sans', Arial, sans-serif" font-size="15.3" font-weight="normal" text-anchor="end" fill="#1c1c1c" stroke="#1c1c1c" stroke-width="0.2">667,20</text>
<text transform="translate(856 1137.6) scale(0.7446 1)" font-family="'Liberation Sans', Arial, sans-serif" font-size="15.3" font-weight="normal" text-anchor="end" fill="#1c1c1c" stroke="#1c1c1c" stroke-width="0.2">770,80</text>
<text transform="translate(896.7 1137.6) scale(0.7446 1)" font-family="'Liberation Sans', Arial, sans-serif" font-size="15.3" font-weight="normal" text-anchor="end" fill="#1c1c1c" stroke="#1c1c1c" stroke-width="0.2">30,89</text>
<text transform="translate(928.2 1137.6) scale(0.7446 1)" font-family="'Liberation Sans', Arial, sans-serif" font-size="15.3" font-weight="normal" text-anchor="middle" fill="#1c1c1c" stroke="#1c1c1c" stroke-width="0.2">25</text>
<text transform="translate(975.2 1137.6) scale(0.7446 1)" font-family="'Liberation Sans', Arial, sans-serif" font-size="15.3" font-weight="normal" text-anchor="middle" fill="#1c1c1c" stroke="#1c1c1c" stroke-width="0.2">13</text>
<text transform="translate(50.5 1152.7) scale(0.6990 1)" font-family="'Liberation Sans', Arial, sans-serif" font-size="15.3" font-weight="normal" text-anchor="middle" fill="#1c1c1c" stroke="#1c1c1c" stroke-width="0.2">36 A<tspan dx="-0.3">-</tspan><tspan dx="-0.3">3</tspan></text>
<text transform="translate(99.3 1152.7) scale(0.7092 1)" font-family="'Liberation Sans', Arial, sans-serif" font-size="15.3" font-weight="normal" text-anchor="middle" fill="#1c1c1c" stroke="#1c1c1c" stroke-width="0.2">A 180<tspan dx="-0.3">-</tspan><tspan dx="-0.3">3</tspan></text>
<text transform="translate(157 1152.7) scale(0.6382 1)" font-family="'Liberation Sans', Arial, sans-serif" font-size="15.3" font-weight="normal" text-anchor="middle" fill="#1c1c1c" stroke="#1c1c1c" stroke-width="0.2">STD</text>
<text transform="translate(233.3 1152.7) scale(0.7446 1)" font-family="'Liberation Sans', Arial, sans-serif" font-size="15.3" font-weight="normal" text-anchor="end" fill="#1c1c1c" stroke="#1c1c1c" stroke-width="0.2">57,150</text>
<text transform="translate(258.5 1152.7) scale(0.7497 1)" font-family="'Liberation Sans', Arial, sans-serif" font-size="15.3" font-weight="normal" text-anchor="middle" fill="#1c1c1c" stroke="#1c1c1c" stroke-width="0.2">2 1/4</text>
<text transform="translate(319.6 1152.7) scale(0.7446 1)" font-family="'Liberation Sans', Arial, sans-serif" font-size="15.3" font-weight="normal" text-anchor="end" fill="#1c1c1c" stroke="#1c1c1c" stroke-width="0.2">35,71</text>
<text transform="translate(367.2 1152.7) scale(0.7446 1)" font-family="'Liberation Sans', Arial, sans-serif" font-size="15.3" font-weight="normal" text-anchor="end" fill="#1c1c1c" stroke="#1c1c1c" stroke-width="0.2">35,48</text>
<text transform="translate(413.8 1152.7) scale(0.7446 1)" font-family="'Liberation Sans', Arial, sans-serif" font-size="15.3" font-weight="normal" text-anchor="end" fill="#1c1c1c" stroke="#1c1c1c" stroke-width="0.2">54,31</text>
<text transform="translate(448 1152.7) scale(0.7446 1)" font-family="'Liberation Sans', Arial, sans-serif" font-size="15.3" font-weight="normal" text-anchor="middle" fill="#1c1c1c" stroke="#1c1c1c" stroke-width="0.2">7,00</text>
<text transform="translate(515.2 1152.7) scale(0.7446 1)" font-family="'Liberation Sans', Arial, sans-serif" font-size="15.3" font-weight="normal" text-anchor="end" fill="#1c1c1c" stroke="#1c1c1c" stroke-width="0.2">65,84</text>
<text transform="translate(569.6 1152.7) scale(0.7446 1)" font-family="'Liberation Sans', Arial, sans-serif" font-size="15.3" font-weight="normal" text-anchor="end" fill="#1c1c1c" stroke="#1c1c1c" stroke-width="0.2">17,46</text>
<text transform="translate(616.5 1152.7) scale(0.7446 1)" font-family="'Liberation Sans', Arial, sans-serif" font-size="15.3" font-weight="normal" text-anchor="end" fill="#1c1c1c" stroke="#1c1c1c" stroke-width="0.2">204,50</text>
<text transform="translate(663 1152.7) scale(0.7446 1)" font-family="'Liberation Sans', Arial, sans-serif" font-size="15.3" font-weight="normal" text-anchor="end" fill="#1c1c1c" stroke="#1c1c1c" stroke-width="0.2">221,50</text>
<text transform="translate(704.7 1152.7) scale(0.7446 1)" font-family="'Liberation Sans', Arial, sans-serif" font-size="15.3" font-weight="normal" text-anchor="end" fill="#1c1c1c" stroke="#1c1c1c" stroke-width="0.2">2625</text>
<text transform="translate(752.3 1152.7) scale(0.7446 1)" font-family="'Liberation Sans', Arial, sans-serif" font-size="15.3" font-weight="normal" text-anchor="end" fill="#1c1c1c" stroke="#1c1c1c" stroke-width="0.2">8010</text>
<text transform="translate(803.8 1152.7) scale(0.7446 1)" font-family="'Liberation Sans', Arial, sans-serif" font-size="15.3" font-weight="normal" text-anchor="end" fill="#1c1c1c" stroke="#1c1c1c" stroke-width="0.2">840,70</text>
<text transform="translate(856 1152.7) scale(0.7446 1)" font-family="'Liberation Sans', Arial, sans-serif" font-size="15.3" font-weight="normal" text-anchor="end" fill="#1c1c1c" stroke="#1c1c1c" stroke-width="0.2">1.065,00</text>
<text transform="translate(896.7 1152.7) scale(0.7446 1)" font-family="'Liberation Sans', Arial, sans-serif" font-size="15.3" font-weight="normal" text-anchor="end" fill="#1c1c1c" stroke="#1c1c1c" stroke-width="0.2">39,44</text>
<text transform="translate(928.2 1152.7) scale(0.7446 1)" font-family="'Liberation Sans', Arial, sans-serif" font-size="15.3" font-weight="normal" text-anchor="middle" fill="#1c1c1c" stroke="#1c1c1c" stroke-width="0.2">25</text>
<text transform="translate(975.2 1152.7) scale(0.7446 1)" font-family="'Liberation Sans', Arial, sans-serif" font-size="15.3" font-weight="normal" text-anchor="middle" fill="#1c1c1c" stroke="#1c1c1c" stroke-width="0.2">13</text>
<text transform="translate(50.5 1170.7) scale(0.6990 1)" font-family="'Liberation Sans', Arial, sans-serif" font-size="15.3" font-weight="normal" text-anchor="middle" fill="#1c1c1c" stroke="#1c1c1c" stroke-width="0.2">40 A<tspan dx="-0.3">-</tspan><tspan dx="-0.3">3</tspan></text>
<text transform="translate(99.3 1170.7) scale(0.7092 1)" font-family="'Liberation Sans', Arial, sans-serif" font-size="15.3" font-weight="normal" text-anchor="middle" fill="#1c1c1c" stroke="#1c1c1c" stroke-width="0.2">A 200<tspan dx="-0.3">-</tspan><tspan dx="-0.3">3</tspan></text>
<text transform="translate(157 1170.7) scale(0.6382 1)" font-family="'Liberation Sans', Arial, sans-serif" font-size="15.3" font-weight="normal" text-anchor="middle" fill="#1c1c1c" stroke="#1c1c1c" stroke-width="0.2">STD</text>
<text transform="translate(233.3 1170.7) scale(0.7446 1)" font-family="'Liberation Sans', Arial, sans-serif" font-size="15.3" font-weight="normal" text-anchor="end" fill="#1c1c1c" stroke="#1c1c1c" stroke-width="0.2">63,500</text>
<text transform="translate(258.5 1170.7) scale(0.7497 1)" font-family="'Liberation Sans', Arial, sans-serif" font-size="15.3" font-weight="normal" text-anchor="middle" fill="#1c1c1c" stroke="#1c1c1c" stroke-width="0.2">2 1/2</text>
<text transform="translate(319.6 1170.7) scale(0.7446 1)" font-family="'Liberation Sans', Arial, sans-serif" font-size="15.3" font-weight="normal" text-anchor="end" fill="#1c1c1c" stroke="#1c1c1c" stroke-width="0.2">39,68</text>
<text transform="translate(367.2 1170.7) scale(0.7446 1)" font-family="'Liberation Sans', Arial, sans-serif" font-size="15.3" font-weight="normal" text-anchor="end" fill="#1c1c1c" stroke="#1c1c1c" stroke-width="0.2">37,85</text>
<text transform="translate(413.8 1170.7) scale(0.7446 1)" font-family="'Liberation Sans', Arial, sans-serif" font-size="15.3" font-weight="normal" text-anchor="end" fill="#1c1c1c" stroke="#1c1c1c" stroke-width="0.2">60,33</text>
<text transform="translate(448 1170.7) scale(0.7446 1)" font-family="'Liberation Sans', Arial, sans-serif" font-size="15.3" font-weight="normal" text-anchor="middle" fill="#1c1c1c" stroke="#1c1c1c" stroke-width="0.2">7,80</text>
<text transform="translate(515.2 1170.7) scale(0.7446 1)" font-family="'Liberation Sans', Arial, sans-serif" font-size="15.3" font-weight="normal" text-anchor="end" fill="#1c1c1c" stroke="#1c1c1c" stroke-width="0.2">71,55</text>
<text transform="translate(569.6 1170.7) scale(0.7446 1)" font-family="'Liberation Sans', Arial, sans-serif" font-size="15.3" font-weight="normal" text-anchor="end" fill="#1c1c1c" stroke="#1c1c1c" stroke-width="0.2">19,85</text>
<text transform="translate(616.5 1170.7) scale(0.7446 1)" font-family="'Liberation Sans', Arial, sans-serif" font-size="15.3" font-weight="normal" text-anchor="end" fill="#1c1c1c" stroke="#1c1c1c" stroke-width="0.2">222,50</text>
<text transform="translate(663 1170.7) scale(0.7446 1)" font-family="'Liberation Sans', Arial, sans-serif" font-size="15.3" font-weight="normal" text-anchor="end" fill="#1c1c1c" stroke="#1c1c1c" stroke-width="0.2">242,90</text>
<text transform="translate(704.7 1170.7) scale(0.7446 1)" font-family="'Liberation Sans', Arial, sans-serif" font-size="15.3" font-weight="normal" text-anchor="end" fill="#1c1c1c" stroke="#1c1c1c" stroke-width="0.2">3270</text>
<text transform="translate(752.3 1170.7) scale(0.7446 1)" font-family="'Liberation Sans', Arial, sans-serif" font-size="15.3" font-weight="normal" text-anchor="end" fill="#1c1c1c" stroke="#1c1c1c" stroke-width="0.2">9340</text>
<text transform="translate(803.8 1170.7) scale(0.7446 1)" font-family="'Liberation Sans', Arial, sans-serif" font-size="15.3" font-weight="normal" text-anchor="end" fill="#1c1c1c" stroke="#1c1c1c" stroke-width="0.2">1.040,90</text>
<text transform="translate(856 1170.7) scale(0.7446 1)" font-family="'Liberation Sans', Arial, sans-serif" font-size="15.3" font-weight="normal" text-anchor="end" fill="#1c1c1c" stroke="#1c1c1c" stroke-width="0.2">1.265,00</text>
<text transform="translate(896.7 1170.7) scale(0.7446 1)" font-family="'Liberation Sans', Arial, sans-serif" font-size="15.3" font-weight="normal" text-anchor="end" fill="#1c1c1c" stroke="#1c1c1c" stroke-width="0.2">47,52</text>
<text transform="translate(928.2 1170.7) scale(0.7446 1)" font-family="'Liberation Sans', Arial, sans-serif" font-size="15.3" font-weight="normal" text-anchor="middle" fill="#1c1c1c" stroke="#1c1c1c" stroke-width="0.2">25</text>
<text transform="translate(975.2 1170.7) scale(0.7446 1)" font-family="'Liberation Sans', Arial, sans-serif" font-size="15.3" font-weight="normal" text-anchor="middle" fill="#1c1c1c" stroke="#1c1c1c" stroke-width="0.2">13</text>
<text transform="translate(50.5 1186.8)" font-family="'Liberation Sans', Arial, sans-serif" font-size="15.3" font-weight="normal" text-anchor="middle" fill="#1c1c1c" stroke="#1c1c1c" stroke-width="0.2">·</text>
<text transform="translate(99.3 1186.8) scale(0.7092 1)" font-family="'Liberation Sans', Arial, sans-serif" font-size="15.3" font-weight="normal" text-anchor="middle" fill="#1c1c1c" stroke="#1c1c1c" stroke-width="0.2">A 64 S<tspan dx="-0.3">-</tspan><tspan dx="-0.3">3</tspan></text>
<text transform="translate(157 1186.8) scale(0.6382 1)" font-family="'Liberation Sans', Arial, sans-serif" font-size="15.3" font-weight="normal" text-anchor="middle" fill="#1c1c1c" stroke="#1c1c1c" stroke-width="0.2">REINF S</text>
<text transform="translate(233.3 1186.8) scale(0.7446 1)" font-family="'Liberation Sans', Arial, sans-serif" font-size="15.3" font-weight="normal" text-anchor="end" fill="#1c1c1c" stroke="#1c1c1c" stroke-width="0.2">63,500</text>
<text transform="translate(258.5 1186.8) scale(0.7497 1)" font-family="'Liberation Sans', Arial, sans-serif" font-size="15.3" font-weight="normal" text-anchor="middle" fill="#1c1c1c" stroke="#1c1c1c" stroke-width="0.2">2 1/2</text>
<text transform="translate(319.6 1186.8) scale(0.7446 1)" font-family="'Liberation Sans', Arial, sans-serif" font-size="15.3" font-weight="normal" text-anchor="end" fill="#1c1c1c" stroke="#1c1c1c" stroke-width="0.2">39,68</text>
<text transform="translate(367.2 1186.8) scale(0.7446 1)" font-family="'Liberation Sans', Arial, sans-serif" font-size="15.3" font-weight="normal" text-anchor="end" fill="#1c1c1c" stroke="#1c1c1c" stroke-width="0.2">37,85</text>
<text transform="translate(413.8 1186.8) scale(0.7446 1)" font-family="'Liberation Sans', Arial, sans-serif" font-size="15.3" font-weight="normal" text-anchor="end" fill="#1c1c1c" stroke="#1c1c1c" stroke-width="0.2">60,33</text>
<text transform="translate(448 1186.8) scale(0.7446 1)" font-family="'Liberation Sans', Arial, sans-serif" font-size="15.3" font-weight="normal" text-anchor="middle" fill="#1c1c1c" stroke="#1c1c1c" stroke-width="0.2">9,50</text>
<text transform="translate(515.2 1186.8) scale(0.7446 1)" font-family="'Liberation Sans', Arial, sans-serif" font-size="15.3" font-weight="normal" text-anchor="end" fill="#1c1c1c" stroke="#1c1c1c" stroke-width="0.2">78,30</text>
<text transform="translate(569.6 1186.8) scale(0.7446 1)" font-family="'Liberation Sans', Arial, sans-serif" font-size="15.3" font-weight="normal" text-anchor="end" fill="#1c1c1c" stroke="#1c1c1c" stroke-width="0.2">22,20</text>
<text transform="translate(616.5 1186.8) scale(0.7446 1)" font-family="'Liberation Sans', Arial, sans-serif" font-size="15.3" font-weight="normal" text-anchor="end" fill="#1c1c1c" stroke="#1c1c1c" stroke-width="0.2">242,80</text>
<text transform="translate(663 1186.8) scale(0.7446 1)" font-family="'Liberation Sans', Arial, sans-serif" font-size="15.3" font-weight="normal" text-anchor="end" fill="#1c1c1c" stroke="#1c1c1c" stroke-width="0.2">263,20</text>
<text transform="translate(704.7 1186.8) scale(0.7446 1)" font-family="'Liberation Sans', Arial, sans-serif" font-size="15.3" font-weight="normal" text-anchor="end" fill="#1c1c1c" stroke="#1c1c1c" stroke-width="0.2">3825</text>
<text transform="translate(752.3 1186.8) scale(0.7446 1)" font-family="'Liberation Sans', Arial, sans-serif" font-size="15.3" font-weight="normal" text-anchor="end" fill="#1c1c1c" stroke="#1c1c1c" stroke-width="0.2">9340</text>
<text transform="translate(803.8 1186.8) scale(0.7446 1)" font-family="'Liberation Sans', Arial, sans-serif" font-size="15.3" font-weight="normal" text-anchor="end" fill="#1c1c1c" stroke="#1c1c1c" stroke-width="0.2">1.335,00</text>
<text transform="translate(856 1186.8) scale(0.7446 1)" font-family="'Liberation Sans', Arial, sans-serif" font-size="15.3" font-weight="normal" text-anchor="end" fill="#1c1c1c" stroke="#1c1c1c" stroke-width="0.2">1.529,85</text>
<text transform="translate(896.7 1186.8) scale(0.7446 1)" font-family="'Liberation Sans', Arial, sans-serif" font-size="15.3" font-weight="normal" text-anchor="end" fill="#1c1c1c" stroke="#1c1c1c" stroke-width="0.2">57,57</text>
<text transform="translate(928.2 1186.8) scale(0.7446 1)" font-family="'Liberation Sans', Arial, sans-serif" font-size="15.3" font-weight="normal" text-anchor="middle" fill="#1c1c1c" stroke="#1c1c1c" stroke-width="0.2">25</text>
<text transform="translate(975.2 1186.8) scale(0.7446 1)" font-family="'Liberation Sans', Arial, sans-serif" font-size="15.3" font-weight="normal" text-anchor="middle" fill="#1c1c1c" stroke="#1c1c1c" stroke-width="0.2">13</text>
<text transform="translate(50.5 1201.6) scale(0.6990 1)" font-family="'Liberation Sans', Arial, sans-serif" font-size="15.3" font-weight="normal" text-anchor="middle" fill="#1c1c1c" stroke="#1c1c1c" stroke-width="0.2">48 A<tspan dx="-0.3">-</tspan><tspan dx="-0.3">3</tspan></text>
<text transform="translate(99.3 1201.6) scale(0.7092 1)" font-family="'Liberation Sans', Arial, sans-serif" font-size="15.3" font-weight="normal" text-anchor="middle" fill="#1c1c1c" stroke="#1c1c1c" stroke-width="0.2">A 240<tspan dx="-0.3">-</tspan><tspan dx="-0.3">3</tspan></text>
<text transform="translate(157 1201.6) scale(0.6382 1)" font-family="'Liberation Sans', Arial, sans-serif" font-size="15.3" font-weight="normal" text-anchor="middle" fill="#1c1c1c" stroke="#1c1c1c" stroke-width="0.2">STD</text>
<text transform="translate(233.3 1201.6) scale(0.7446 1)" font-family="'Liberation Sans', Arial, sans-serif" font-size="15.3" font-weight="normal" text-anchor="end" fill="#1c1c1c" stroke="#1c1c1c" stroke-width="0.2">76,200</text>
<text transform="translate(258.5 1201.6) scale(0.7497 1)" font-family="'Liberation Sans', Arial, sans-serif" font-size="15.3" font-weight="normal" text-anchor="middle" fill="#1c1c1c" stroke="#1c1c1c" stroke-width="0.2">3</text>
<text transform="translate(319.6 1201.6) scale(0.7446 1)" font-family="'Liberation Sans', Arial, sans-serif" font-size="15.3" font-weight="normal" text-anchor="end" fill="#1c1c1c" stroke="#1c1c1c" stroke-width="0.2">47,63</text>
<text transform="translate(367.2 1201.6) scale(0.7446 1)" font-family="'Liberation Sans', Arial, sans-serif" font-size="15.3" font-weight="normal" text-anchor="end" fill="#1c1c1c" stroke="#1c1c1c" stroke-width="0.2">47,35</text>
<text transform="translate(413.8 1201.6) scale(0.7446 1)" font-family="'Liberation Sans', Arial, sans-serif" font-size="15.3" font-weight="normal" text-anchor="end" fill="#1c1c1c" stroke="#1c1c1c" stroke-width="0.2">72,39</text>
<text transform="translate(448 1201.6) scale(0.7446 1)" font-family="'Liberation Sans', Arial, sans-serif" font-size="15.3" font-weight="normal" text-anchor="middle" fill="#1c1c1c" stroke="#1c1c1c" stroke-width="0.2">9,50</text>
<text transform="translate(515.2 1201.6) scale(0.7446 1)" font-family="'Liberation Sans', Arial, sans-serif" font-size="15.3" font-weight="normal" text-anchor="end" fill="#1c1c1c" stroke="#1c1c1c" stroke-width="0.2">87,83</text>
<text transform="translate(569.6 1201.6) scale(0.7446 1)" font-family="'Liberation Sans', Arial, sans-serif" font-size="15.3" font-weight="normal" text-anchor="end" fill="#1c1c1c" stroke="#1c1c1c" stroke-width="0.2">23,81</text>
<text transform="translate(616.5 1201.6) scale(0.7446 1)" font-family="'Liberation Sans', Arial, sans-serif" font-size="15.3" font-weight="normal" text-anchor="end" fill="#1c1c1c" stroke="#1c1c1c" stroke-width="0.2">271,30</text>
<text transform="translate(663 1201.6) scale(0.7446 1)" font-family="'Liberation Sans', Arial, sans-serif" font-size="15.3" font-weight="normal" text-anchor="end" fill="#1c1c1c" stroke="#1c1c1c" stroke-width="0.2">292,30</text>
<text transform="translate(704.7 1201.6) scale(0.7446 1)" font-family="'Liberation Sans', Arial, sans-serif" font-size="15.3" font-weight="normal" text-anchor="end" fill="#1c1c1c" stroke="#1c1c1c" stroke-width="0.2">4830</text>
<text transform="translate(752.3 1201.6) scale(0.7446 1)" font-family="'Liberation Sans', Arial, sans-serif" font-size="15.3" font-weight="normal" text-anchor="end" fill="#1c1c1c" stroke="#1c1c1c" stroke-width="0.2">13340</text>
<text transform="translate(803.8 1201.6) scale(0.7446 1)" font-family="'Liberation Sans', Arial, sans-serif" font-size="15.3" font-weight="normal" text-anchor="end" fill="#1c1c1c" stroke="#1c1c1c" stroke-width="0.2">1.501,30</text>
<text transform="translate(856 1201.6) scale(0.7446 1)" font-family="'Liberation Sans', Arial, sans-serif" font-size="15.3" font-weight="normal" text-anchor="end" fill="#1c1c1c" stroke="#1c1c1c" stroke-width="0.2">1.735,75</text>
<text transform="translate(896.7 1201.6) scale(0.7446 1)" font-family="'Liberation Sans', Arial, sans-serif" font-size="15.3" font-weight="normal" text-anchor="end" fill="#1c1c1c" stroke="#1c1c1c" stroke-width="0.2">71,40</text>
<text transform="translate(928.2 1201.6) scale(0.7446 1)" font-family="'Liberation Sans', Arial, sans-serif" font-size="15.3" font-weight="normal" text-anchor="middle" fill="#1c1c1c" stroke="#1c1c1c" stroke-width="0.2">25</text>
<text transform="translate(975.2 1201.6) scale(0.7446 1)" font-family="'Liberation Sans', Arial, sans-serif" font-size="15.3" font-weight="normal" text-anchor="middle" fill="#1c1c1c" stroke="#1c1c1c" stroke-width="0.2">13</text>
<rect x="11.5" y="1206.5" width="987.3" height="44.1" fill="#e5e5e3"/>
<text transform="translate(16.4 1220) scale(0.7200 1)" font-family="'Liberation Sans', Arial, sans-serif" font-size="13.5" font-weight="normal" text-anchor="start" fill="#222" stroke="#222" stroke-width="0.2">X</text>
<text transform="translate(15.8 1232) scale(0.7200 1)" font-family="'Liberation Sans', Arial, sans-serif" font-size="13.5" font-weight="normal" text-anchor="start" fill="#222" stroke="#222" stroke-width="0.2">&amp;</text>
<text transform="translate(27.3 1219.7) scale(0.7177 1)" font-family="'Liberation Sans', Arial, sans-serif" font-size="11.8" font-weight="bold" text-anchor="start" fill="#111" stroke="#111" stroke-width="0.15">Chain with straight sideplates</text>
<text transform="translate(149.5 1219.7) scale(0.6331 1)" font-family="'Liberation Sans', Arial, sans-serif" font-size="11.8" font-weight="normal" text-anchor="start" fill="#333" stroke="#333" stroke-width="0.1">- Cadena con mallas de placas rectas</text>
<text transform="translate(27.3 1231.6) scale(0.6799 1)" font-family="'Liberation Sans', Arial, sans-serif" font-size="11.8" font-weight="bold" text-anchor="start" fill="#111" stroke="#111" stroke-width="0.15">Rollerless chains</text>
<text transform="translate(95.5 1231.6) scale(0.6352 1)" font-family="'Liberation Sans', Arial, sans-serif" font-size="11.8" font-weight="normal" text-anchor="start" fill="#333" stroke="#333" stroke-width="0.1">- Cadenas de casquillos</text>
<text transform="translate(27.3 1244.4) scale(0.7059 1)" font-family="'Liberation Sans', Arial, sans-serif" font-size="11.8" font-weight="bold" text-anchor="start" fill="#111" stroke="#111" stroke-width="0.15">Plate thickness European series: inner / outer</text>
<text transform="translate(211 1244.4) scale(0.6473 1)" font-family="'Liberation Sans', Arial, sans-serif" font-size="11.8" font-weight="normal" text-anchor="start" fill="#333" stroke="#333" stroke-width="0.1">- Espesor placas serie Europea: interior / exterior</text>
</svg>
</body></html>
